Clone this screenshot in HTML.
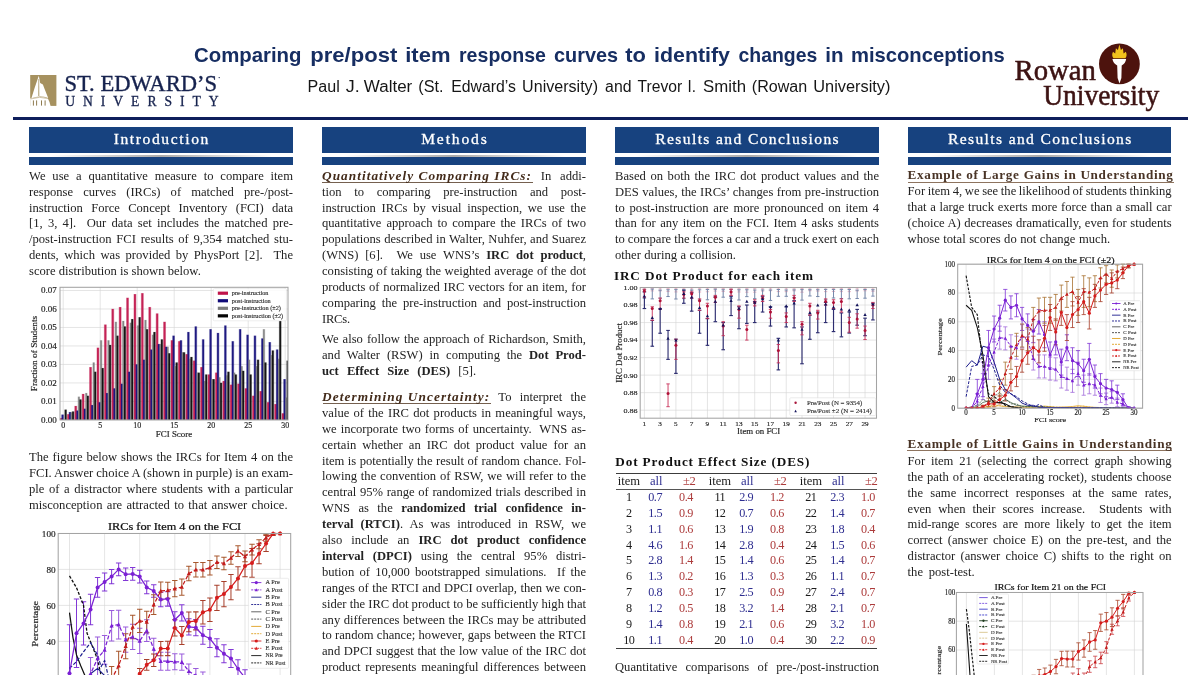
<!DOCTYPE html><html lang='en'><head><meta charset='utf-8'><title>Poster</title><style>
html,body{margin:0;padding:0;background:#fff;}
#page{position:absolute;left:0;top:0;width:1200px;height:675px;overflow:hidden;will-change:transform;}
body{width:1200px;height:675px;position:relative;overflow:hidden;font-family:"Liberation Serif",serif;color:#232323;}
.ln{position:absolute;white-space:nowrap;font-size:12.6px;line-height:16px;height:16px;}
.ln b{font-weight:bold;}
.hd{font-weight:bold;font-style:italic;color:#432b1a;font-size:13.3px;word-spacing:0;}
.sub{font-weight:bold;font-size:13.2px;color:#111;}
.ex{font-weight:bold;font-size:13.2px;color:#493426;}
.ul{position:absolute;height:0.9px;}
.box{position:absolute;background:#17427f;}
.boxt{position:absolute;color:#fff;-webkit-text-stroke:0.3px #fff;font-size:15.6px;text-align:center;white-space:nowrap;line-height:20px;}
.gap{position:absolute;height:2.2px;background:linear-gradient(to right,#fff 0%,#fff 8%,#aaa 50%,#fff 92%,#fff 100%);}
#rule{position:absolute;left:13px;top:117.2px;width:1174.5px;height:2.7px;background:#0f1f5c;}
</style></head><body><div id='page'>
<div id='rule'></div>

<div class='box' style='left:29px;top:126.9px;width:263.7px;height:26.3px'></div>
<div class='gap' style='left:29px;top:154.6px;width:263.7px'></div>
<div class='box' style='left:29px;top:157.2px;width:263.7px;height:8.2px'></div>
<div class='boxt' id='t0' style='left:29px;top:129.3px;width:264px;'><span style='letter-spacing:1.601px;margin-right:-1.601px'>Introduction</span></div>
<div class='box' style='left:322px;top:126.9px;width:263.7px;height:26.3px'></div>
<div class='gap' style='left:322px;top:154.6px;width:263.7px'></div>
<div class='box' style='left:322px;top:157.2px;width:263.7px;height:8.2px'></div>
<div class='boxt' id='t1' style='left:322px;top:129.3px;width:264px;'><span style='letter-spacing:1.854px;margin-right:-1.854px'>Methods</span></div>
<div class='box' style='left:615px;top:126.9px;width:263.7px;height:26.3px'></div>
<div class='gap' style='left:615px;top:154.6px;width:263.7px'></div>
<div class='box' style='left:615px;top:157.2px;width:263.7px;height:8.2px'></div>
<div class='boxt' id='t2' style='left:615px;top:129.3px;width:264px;'><span style='letter-spacing:1.366px;margin-right:-1.366px'>Results and Conclusions</span></div>
<div class='box' style='left:907.6px;top:126.9px;width:263.7px;height:26.3px'></div>
<div class='gap' style='left:907.6px;top:154.6px;width:263.7px'></div>
<div class='box' style='left:907.6px;top:157.2px;width:263.7px;height:8.2px'></div>
<div class='boxt' id='t3' style='left:907.6px;top:129.3px;width:264px;'><span style='letter-spacing:1.366px;margin-right:-1.366px'>Results and Conclusions</span></div>
<div class='ul' style='left:322px;top:181.9px;width:210.6px;background:#75604f'></div>
<div class='ul' style='left:322.5px;top:402.7px;width:168.8px;background:#75604f'></div>
<div class='ul' style='left:907.6px;top:181.6px;width:266px;background:#8d735e'></div>
<div class='ul' style='left:907.4px;top:450.3px;width:265px;background:#8d735e'></div>
<div class='ln ' id='l0' style='left:29px;top:167.75px;word-spacing:3.739px;'>We use a quantitative measure to compare item</div>
<div class='ln ' id='l1' style='left:29px;top:183.65px;word-spacing:6.984px;'>response curves (IRCs) of matched pre-/post-</div>
<div class='ln ' id='l2' style='left:29px;top:199.55px;word-spacing:5.162px;'>instruction Force Concept Inventory (FCI) data</div>
<div class='ln ' id='l3' style='left:29px;top:215.45px;word-spacing:2.095px;'>[1, 3, 4].&nbsp; Our data set includes the matched pre-</div>
<div class='ln ' id='l4' style='left:29px;top:231.35px;word-spacing:1.615px;'>/post-instruction FCI results of 9,354 matched stu-</div>
<div class='ln ' id='l5' style='left:29px;top:247.25px;word-spacing:2.334px;'>dents, which was provided by PhysPort [2].&nbsp; The</div>
<div class='ln ' id='l6' style='left:29px;top:263.15px;word-spacing:0.040px;'>score distribution is shown below.</div>
<div class='ln ' id='l7' style='left:29px;top:448.95px;word-spacing:0.727px;'>The figure below shows the IRCs for Item 4 on the</div>
<div class='ln ' id='l8' style='left:29px;top:464.85px;word-spacing:-0.125px;'>FCI. Answer choice A (shown in purple) is an exam-</div>
<div class='ln ' id='l9' style='left:29px;top:480.75px;word-spacing:1.439px;'>ple of a distractor where students with a particular</div>
<div class='ln ' id='l10' style='left:29px;top:496.65px;word-spacing:1.196px;'>misconception are attracted to that answer choice.</div>
<div class='ln ' id='l11' style='left:322px;top:167.75px;word-spacing:5.664px;'><span class='hd' id='h0' style='letter-spacing:1.040px'>Quantitatively Comparing IRCs:</span> In addi-</div>
<div class='ln ' id='l12' style='left:322px;top:183.65px;word-spacing:9.500px;'>tion to comparing pre-instruction and post-</div>
<div class='ln ' id='l13' style='left:322px;top:199.55px;word-spacing:2.536px;'>instruction IRCs by visual inspection, we use the</div>
<div class='ln ' id='l14' style='left:322px;top:215.45px;word-spacing:1.792px;'>quantitative approach to compare the IRCs of two</div>
<div class='ln ' id='l15' style='left:322px;top:231.35px;word-spacing:0.310px;'>populations described in Walter, Nuhfer, and Suarez</div>
<div class='ln ' id='l16' style='left:322px;top:247.25px;word-spacing:3.652px;'>(WNS) [6].&nbsp; We use WNS’s <b>IRC dot product</b>,</div>
<div class='ln ' id='l17' style='left:322px;top:263.15px;word-spacing:0.387px;'>consisting of taking the weighted average of the dot</div>
<div class='ln ' id='l18' style='left:322px;top:279.05px;word-spacing:0.518px;'>products of normalized IRC vectors for an item, for</div>
<div class='ln ' id='l19' style='left:322px;top:294.95px;word-spacing:2.695px;'>comparing the pre-instruction and post-instruction</div>
<div class='ln ' id='l20' style='left:322px;top:310.85px;letter-spacing:-0.249px;'>IRCs.</div>
<div class='ln ' id='l21' style='left:322px;top:331.45px;word-spacing:0.935px;'>We also follow the approach of Richardson, Smith,</div>
<div class='ln ' id='l22' style='left:322px;top:347.35px;word-spacing:3.696px;'>and Walter (RSW) in computing the <b>Dot Prod-</b></div>
<div class='ln ' id='l23' style='left:322px;top:363.25px;word-spacing:5.037px;'><b>uct Effect Size (DES)</b> [5].</div>
<div class='ln ' id='l24' style='left:322px;top:388.95px;word-spacing:5.109px;'><span class='hd' id='h1' style='letter-spacing:1.087px'>Determining Uncertainty:</span> To interpret the</div>
<div class='ln ' id='l25' style='left:322px;top:404.85px;word-spacing:1.127px;'>value of the IRC dot products in meaningful ways,</div>
<div class='ln ' id='l26' style='left:322px;top:420.75px;word-spacing:0.824px;'>we incorporate two forms of uncertainty.&nbsp; WNS as-</div>
<div class='ln ' id='l27' style='left:322px;top:436.65px;word-spacing:2.838px;'>certain whether an IRC dot product value for an</div>
<div class='ln ' id='l28' style='left:322px;top:452.55px;word-spacing:0.342px;'>item is potentially the result of random chance. Fol-</div>
<div class='ln ' id='l29' style='left:322px;top:468.45px;word-spacing:0.705px;'>lowing the convention of RSW, we will refer to the</div>
<div class='ln ' id='l30' style='left:322px;top:484.35px;word-spacing:0.498px;'>central 95% range of randomized trials described in</div>
<div class='ln ' id='l31' style='left:322px;top:500.25px;word-spacing:5.289px;'>WNS as the <b>randomized trial confidence in-</b></div>
<div class='ln ' id='l32' style='left:322px;top:516.15px;word-spacing:3.913px;'><b>terval (RTCI)</b>. As was introduced in RSW, we</div>
<div class='ln ' id='l33' style='left:322px;top:532.05px;word-spacing:5.909px;'>also include an <b>IRC dot product confidence</b></div>
<div class='ln ' id='l34' style='left:322px;top:547.95px;word-spacing:5.643px;'><b>interval (DPCI)</b> using the central 95% distri-</div>
<div class='ln ' id='l35' style='left:322px;top:563.85px;word-spacing:2.085px;'>bution of 10,000 bootstrapped simulations.&nbsp; If the</div>
<div class='ln ' id='l36' style='left:322px;top:579.75px;word-spacing:0.273px;'>ranges of the RTCI and DPCI overlap, then we con-</div>
<div class='ln ' id='l37' style='left:322px;top:595.65px;word-spacing:0.017px;'>sider the IRC dot product to be sufficiently high that</div>
<div class='ln ' id='l38' style='left:322px;top:611.55px;word-spacing:0.429px;'>any differences between the IRCs may be attributed</div>
<div class='ln ' id='l39' style='left:322px;top:627.45px;word-spacing:0.125px;'>to random chance; however, gaps between the RTCI</div>
<div class='ln ' id='l40' style='left:322px;top:643.35px;word-spacing:0.445px;'>and DPCI suggest that the low value of the IRC dot</div>
<div class='ln ' id='l41' style='left:322px;top:659.25px;word-spacing:1.715px;'>product represents meaningful differences between</div>
<div class='ln ' id='l42' style='left:615px;top:167.75px;word-spacing:1.469px;'>Based on both the IRC dot product values and the</div>
<div class='ln ' id='l43' style='left:615px;top:183.65px;word-spacing:0.378px;'>DES values, the IRCs’ changes from pre-instruction</div>
<div class='ln ' id='l44' style='left:615px;top:199.55px;word-spacing:1.589px;'>to post-instruction are more pronounced on item 4</div>
<div class='ln ' id='l45' style='left:615px;top:215.45px;word-spacing:1.250px;'>than for any item on the FCI. Item 4 asks students</div>
<div class='ln ' id='l46' style='left:615px;top:231.35px;word-spacing:-0.125px;'>to compare the forces a car and a truck exert on each</div>
<div class='ln ' id='l47' style='left:615px;top:247.25px;word-spacing:0.224px;'>other during a collision.</div>
<div class='ln sub' id='l48' style='left:613.9px;top:268.05px;letter-spacing:0.914px;'>IRC Dot Product for each item</div>
<div class='ln sub' id='l49' style='left:615.3px;top:454.25px;letter-spacing:0.872px;'>Dot Product Effect Size (DES)</div>
<div class='ln ' id='l50' style='left:615px;top:659.15px;word-spacing:5.109px;'>Quantitative comparisons of pre-/post-instruction</div>
<div class='ln ex' id='l51' style='left:907.6px;top:166.94px;letter-spacing:0.686px;'>Example of Large Gains in Understanding</div>
<div class='ln ' id='l52' style='left:907.6px;top:183.15px;word-spacing:-0.516px;'>For item 4, we see the likelihood of students thinking</div>
<div class='ln ' id='l53' style='left:907.6px;top:199.05px;word-spacing:0.547px;'>that a large truck exerts more force than a small car</div>
<div class='ln ' id='l54' style='left:907.6px;top:214.95px;word-spacing:0.367px;'>(choice A) decreases dramatically, even for students</div>
<div class='ln ' id='l55' style='left:907.6px;top:230.85px;word-spacing:0.349px;'>whose total scores do not change much.</div>
<div class='ln ex' id='l56' style='left:907.6px;top:436.25px;letter-spacing:0.717px;'>Example of Little Gains in Understanding</div>
<div class='ln ' id='l57' style='left:907.6px;top:452.85px;word-spacing:2.690px;'>For item 21 (selecting the correct graph showing</div>
<div class='ln ' id='l58' style='left:907.6px;top:468.75px;word-spacing:0.946px;'>the path of an accelerating rocket), students choose</div>
<div class='ln ' id='l59' style='left:907.6px;top:484.65px;word-spacing:4.243px;'>the same incorrect responses at the same rates,</div>
<div class='ln ' id='l60' style='left:907.6px;top:500.55px;word-spacing:3.741px;'>even when their scores increase.&nbsp; Students with</div>
<div class='ln ' id='l61' style='left:907.6px;top:516.45px;word-spacing:2.838px;'>mid-range scores are more likely to get the item</div>
<div class='ln ' id='l62' style='left:907.6px;top:532.35px;word-spacing:2.098px;'>correct (answer choice E) on the pre-test, and the</div>
<div class='ln ' id='l63' style='left:907.6px;top:548.25px;word-spacing:2.135px;'>distractor (answer choice C) shifts to the right on</div>
<div class='ln ' id='l64' style='left:907.6px;top:564.15px;word-spacing:2.641px;'>the post-test.</div>
<svg width='1200' height='675' viewBox='0 0 1200 675' style='position:absolute;left:0;top:0;font-family:"Liberation Serif",serif' ><rect x='60.00' y='287.30' width='228.00' height='132.60' fill='#fff' stroke='none' stroke-width='0' />
<line x1='63.20' y1='287.30' x2='63.20' y2='419.90' stroke='#d4d4d4' stroke-width='0.6' />
<line x1='100.20' y1='287.30' x2='100.20' y2='419.90' stroke='#d4d4d4' stroke-width='0.6' />
<line x1='137.20' y1='287.30' x2='137.20' y2='419.90' stroke='#d4d4d4' stroke-width='0.6' />
<line x1='174.20' y1='287.30' x2='174.20' y2='419.90' stroke='#d4d4d4' stroke-width='0.6' />
<line x1='211.20' y1='287.30' x2='211.20' y2='419.90' stroke='#d4d4d4' stroke-width='0.6' />
<line x1='248.20' y1='287.30' x2='248.20' y2='419.90' stroke='#d4d4d4' stroke-width='0.6' />
<line x1='285.20' y1='287.30' x2='285.20' y2='419.90' stroke='#d4d4d4' stroke-width='0.6' />
<line x1='60.00' y1='419.90' x2='288.00' y2='419.90' stroke='#d4d4d4' stroke-width='0.6' />
<line x1='60.00' y1='401.41' x2='288.00' y2='401.41' stroke='#d4d4d4' stroke-width='0.6' />
<line x1='60.00' y1='382.93' x2='288.00' y2='382.93' stroke='#d4d4d4' stroke-width='0.6' />
<line x1='60.00' y1='364.44' x2='288.00' y2='364.44' stroke='#d4d4d4' stroke-width='0.6' />
<line x1='60.00' y1='345.96' x2='288.00' y2='345.96' stroke='#d4d4d4' stroke-width='0.6' />
<line x1='60.00' y1='327.47' x2='288.00' y2='327.47' stroke='#d4d4d4' stroke-width='0.6' />
<line x1='60.00' y1='308.99' x2='288.00' y2='308.99' stroke='#d4d4d4' stroke-width='0.6' />
<line x1='60.00' y1='290.50' x2='288.00' y2='290.50' stroke='#d4d4d4' stroke-width='0.6' />
<clipPath id='hc'><rect x='60.0' y='287.3' width='228.0' height='132.59999999999997'/></clipPath><g clip-path='url(#hc)'><g>
<rect x='59.47' y='417.85' width='2.95' height='3.85' fill='#c0144a' stroke='none' stroke-width='0' opacity='0.38'/>
<rect x='66.87' y='414.15' width='2.95' height='7.55' fill='#c0144a' stroke='none' stroke-width='0' opacity='0.38'/>
<rect x='74.27' y='405.84' width='2.95' height='15.86' fill='#c0144a' stroke='none' stroke-width='0' opacity='0.38'/>
<rect x='81.67' y='393.82' width='2.95' height='27.88' fill='#c0144a' stroke='none' stroke-width='0' opacity='0.38'/>
<rect x='89.07' y='367.02' width='2.95' height='54.68' fill='#c0144a' stroke='none' stroke-width='0' opacity='0.38'/>
<rect x='96.47' y='347.61' width='2.95' height='74.09' fill='#c0144a' stroke='none' stroke-width='0' opacity='0.38'/>
<rect x='103.87' y='324.50' width='2.95' height='97.20' fill='#c0144a' stroke='none' stroke-width='0' opacity='0.38'/>
<rect x='111.27' y='308.79' width='2.95' height='112.91' fill='#c0144a' stroke='none' stroke-width='0' opacity='0.38'/>
<rect x='118.67' y='306.94' width='2.95' height='114.76' fill='#c0144a' stroke='none' stroke-width='0' opacity='0.38'/>
<rect x='126.07' y='297.69' width='2.95' height='124.01' fill='#c0144a' stroke='none' stroke-width='0' opacity='0.38'/>
<rect x='133.47' y='294.00' width='2.95' height='127.70' fill='#c0144a' stroke='none' stroke-width='0' opacity='0.38'/>
<rect x='140.87' y='293.07' width='2.95' height='128.63' fill='#c0144a' stroke='none' stroke-width='0' opacity='0.38'/>
<rect x='148.27' y='306.94' width='2.95' height='114.76' fill='#c0144a' stroke='none' stroke-width='0' opacity='0.38'/>
<rect x='155.67' y='313.41' width='2.95' height='108.29' fill='#c0144a' stroke='none' stroke-width='0' opacity='0.38'/>
<rect x='163.07' y='321.73' width='2.95' height='99.97' fill='#c0144a' stroke='none' stroke-width='0' opacity='0.38'/>
<rect x='170.47' y='340.21' width='2.95' height='81.49' fill='#c0144a' stroke='none' stroke-width='0' opacity='0.38'/>
<rect x='177.87' y='341.14' width='2.95' height='80.56' fill='#c0144a' stroke='none' stroke-width='0' opacity='0.38'/>
<rect x='185.27' y='354.08' width='2.95' height='67.62' fill='#c0144a' stroke='none' stroke-width='0' opacity='0.38'/>
<rect x='192.67' y='360.55' width='2.95' height='61.15' fill='#c0144a' stroke='none' stroke-width='0' opacity='0.38'/>
<rect x='200.07' y='367.02' width='2.95' height='54.68' fill='#c0144a' stroke='none' stroke-width='0' opacity='0.38'/>
<rect x='207.47' y='374.41' width='2.95' height='47.29' fill='#c0144a' stroke='none' stroke-width='0' opacity='0.38'/>
<rect x='214.87' y='372.56' width='2.95' height='49.14' fill='#c0144a' stroke='none' stroke-width='0' opacity='0.38'/>
<rect x='222.27' y='380.88' width='2.95' height='40.82' fill='#c0144a' stroke='none' stroke-width='0' opacity='0.38'/>
<rect x='229.67' y='384.58' width='2.95' height='37.12' fill='#c0144a' stroke='none' stroke-width='0' opacity='0.38'/>
<rect x='237.07' y='383.65' width='2.95' height='38.05' fill='#c0144a' stroke='none' stroke-width='0' opacity='0.38'/>
<rect x='244.47' y='388.27' width='2.95' height='33.43' fill='#c0144a' stroke='none' stroke-width='0' opacity='0.38'/>
<rect x='251.87' y='395.67' width='2.95' height='26.03' fill='#c0144a' stroke='none' stroke-width='0' opacity='0.38'/>
<rect x='259.27' y='391.05' width='2.95' height='30.65' fill='#c0144a' stroke='none' stroke-width='0' opacity='0.38'/>
<rect x='266.67' y='402.14' width='2.95' height='19.56' fill='#c0144a' stroke='none' stroke-width='0' opacity='0.38'/>
<rect x='274.07' y='403.99' width='2.95' height='17.71' fill='#c0144a' stroke='none' stroke-width='0' opacity='0.38'/>
<rect x='281.47' y='413.23' width='2.95' height='8.47' fill='#c0144a' stroke='none' stroke-width='0' opacity='0.38'/>
<rect x='61.17' y='414.52' width='2.80' height='7.18' fill='#100a78' stroke='none' stroke-width='0' opacity='0.38'/>
<rect x='68.57' y='411.94' width='2.80' height='9.76' fill='#100a78' stroke='none' stroke-width='0' opacity='0.38'/>
<rect x='75.97' y='410.46' width='2.80' height='11.24' fill='#100a78' stroke='none' stroke-width='0' opacity='0.38'/>
<rect x='83.37' y='408.61' width='2.80' height='13.09' fill='#100a78' stroke='none' stroke-width='0' opacity='0.38'/>
<rect x='90.77' y='404.91' width='2.80' height='16.79' fill='#100a78' stroke='none' stroke-width='0' opacity='0.38'/>
<rect x='98.17' y='402.14' width='2.80' height='19.56' fill='#100a78' stroke='none' stroke-width='0' opacity='0.38'/>
<rect x='105.57' y='392.90' width='2.80' height='28.80' fill='#100a78' stroke='none' stroke-width='0' opacity='0.38'/>
<rect x='112.97' y='388.27' width='2.80' height='33.43' fill='#100a78' stroke='none' stroke-width='0' opacity='0.38'/>
<rect x='120.37' y='383.65' width='2.80' height='38.05' fill='#100a78' stroke='none' stroke-width='0' opacity='0.38'/>
<rect x='127.77' y='371.64' width='2.80' height='50.06' fill='#100a78' stroke='none' stroke-width='0' opacity='0.38'/>
<rect x='135.17' y='364.24' width='2.80' height='57.46' fill='#100a78' stroke='none' stroke-width='0' opacity='0.38'/>
<rect x='142.57' y='359.62' width='2.80' height='62.08' fill='#100a78' stroke='none' stroke-width='0' opacity='0.38'/>
<rect x='149.97' y='349.45' width='2.80' height='72.25' fill='#100a78' stroke='none' stroke-width='0' opacity='0.38'/>
<rect x='157.37' y='343.91' width='2.80' height='77.79' fill='#100a78' stroke='none' stroke-width='0' opacity='0.38'/>
<rect x='164.77' y='346.68' width='2.80' height='75.02' fill='#100a78' stroke='none' stroke-width='0' opacity='0.38'/>
<rect x='172.17' y='335.59' width='2.80' height='86.11' fill='#100a78' stroke='none' stroke-width='0' opacity='0.38'/>
<rect x='179.57' y='340.21' width='2.80' height='81.49' fill='#100a78' stroke='none' stroke-width='0' opacity='0.38'/>
<rect x='186.97' y='331.89' width='2.80' height='89.81' fill='#100a78' stroke='none' stroke-width='0' opacity='0.38'/>
<rect x='194.37' y='326.35' width='2.80' height='95.35' fill='#100a78' stroke='none' stroke-width='0' opacity='0.38'/>
<rect x='201.77' y='339.29' width='2.80' height='82.41' fill='#100a78' stroke='none' stroke-width='0' opacity='0.38'/>
<rect x='209.17' y='329.12' width='2.80' height='92.58' fill='#100a78' stroke='none' stroke-width='0' opacity='0.38'/>
<rect x='216.57' y='332.82' width='2.80' height='88.88' fill='#100a78' stroke='none' stroke-width='0' opacity='0.38'/>
<rect x='223.97' y='325.42' width='2.80' height='96.28' fill='#100a78' stroke='none' stroke-width='0' opacity='0.38'/>
<rect x='231.37' y='341.14' width='2.80' height='80.56' fill='#100a78' stroke='none' stroke-width='0' opacity='0.38'/>
<rect x='238.77' y='329.12' width='2.80' height='92.58' fill='#100a78' stroke='none' stroke-width='0' opacity='0.38'/>
<rect x='246.17' y='334.67' width='2.80' height='87.03' fill='#100a78' stroke='none' stroke-width='0' opacity='0.38'/>
<rect x='253.57' y='335.59' width='2.80' height='86.11' fill='#100a78' stroke='none' stroke-width='0' opacity='0.38'/>
<rect x='260.97' y='338.36' width='2.80' height='83.34' fill='#100a78' stroke='none' stroke-width='0' opacity='0.38'/>
<rect x='268.37' y='342.06' width='2.80' height='79.64' fill='#100a78' stroke='none' stroke-width='0' opacity='0.38'/>
<rect x='275.77' y='349.45' width='2.80' height='72.25' fill='#100a78' stroke='none' stroke-width='0' opacity='0.38'/>
<rect x='283.17' y='379.03' width='2.80' height='42.67' fill='#100a78' stroke='none' stroke-width='0' opacity='0.38'/>
<rect x='70.20' y='412.31' width='2.58' height='9.39' fill='#7c7c7c' stroke='none' stroke-width='0' opacity='0.38'/>
<rect x='77.60' y='396.59' width='2.58' height='25.11' fill='#7c7c7c' stroke='none' stroke-width='0' opacity='0.38'/>
<rect x='85.00' y='392.90' width='2.58' height='28.80' fill='#7c7c7c' stroke='none' stroke-width='0' opacity='0.38'/>
<rect x='92.40' y='362.39' width='2.58' height='59.31' fill='#7c7c7c' stroke='none' stroke-width='0' opacity='0.38'/>
<rect x='99.80' y='340.21' width='2.58' height='81.49' fill='#7c7c7c' stroke='none' stroke-width='0' opacity='0.38'/>
<rect x='107.20' y='340.21' width='2.58' height='81.49' fill='#7c7c7c' stroke='none' stroke-width='0' opacity='0.38'/>
<rect x='114.60' y='321.73' width='2.58' height='99.97' fill='#7c7c7c' stroke='none' stroke-width='0' opacity='0.38'/>
<rect x='122.00' y='320.80' width='2.58' height='100.90' fill='#7c7c7c' stroke='none' stroke-width='0' opacity='0.38'/>
<rect x='129.40' y='322.65' width='2.58' height='99.05' fill='#7c7c7c' stroke='none' stroke-width='0' opacity='0.38'/>
<rect x='136.80' y='325.42' width='2.58' height='96.28' fill='#7c7c7c' stroke='none' stroke-width='0' opacity='0.38'/>
<rect x='144.20' y='319.88' width='2.58' height='101.82' fill='#7c7c7c' stroke='none' stroke-width='0' opacity='0.38'/>
<rect x='151.60' y='334.67' width='2.58' height='87.03' fill='#7c7c7c' stroke='none' stroke-width='0' opacity='0.38'/>
<rect x='159.00' y='343.91' width='2.58' height='77.79' fill='#7c7c7c' stroke='none' stroke-width='0' opacity='0.38'/>
<rect x='166.40' y='346.68' width='2.58' height='75.02' fill='#7c7c7c' stroke='none' stroke-width='0' opacity='0.38'/>
<rect x='173.80' y='366.09' width='2.58' height='55.61' fill='#7c7c7c' stroke='none' stroke-width='0' opacity='0.38'/>
<rect x='181.20' y='352.23' width='2.58' height='69.47' fill='#7c7c7c' stroke='none' stroke-width='0' opacity='0.38'/>
<rect x='188.60' y='358.70' width='2.58' height='63.00' fill='#7c7c7c' stroke='none' stroke-width='0' opacity='0.38'/>
<rect x='196.00' y='372.56' width='2.58' height='49.14' fill='#7c7c7c' stroke='none' stroke-width='0' opacity='0.38'/>
<rect x='203.40' y='380.88' width='2.58' height='40.82' fill='#7c7c7c' stroke='none' stroke-width='0' opacity='0.38'/>
<rect x='210.80' y='379.03' width='2.58' height='42.67' fill='#7c7c7c' stroke='none' stroke-width='0' opacity='0.38'/>
<rect x='218.20' y='377.18' width='2.58' height='44.52' fill='#7c7c7c' stroke='none' stroke-width='0' opacity='0.38'/>
<rect x='225.60' y='375.33' width='2.58' height='46.37' fill='#7c7c7c' stroke='none' stroke-width='0' opacity='0.38'/>
<rect x='233.00' y='372.56' width='2.58' height='49.14' fill='#7c7c7c' stroke='none' stroke-width='0' opacity='0.38'/>
<rect x='240.40' y='366.09' width='2.58' height='55.61' fill='#7c7c7c' stroke='none' stroke-width='0' opacity='0.38'/>
<rect x='247.80' y='359.62' width='2.58' height='62.08' fill='#7c7c7c' stroke='none' stroke-width='0' opacity='0.38'/>
<rect x='255.20' y='366.09' width='2.58' height='55.61' fill='#7c7c7c' stroke='none' stroke-width='0' opacity='0.38'/>
<rect x='262.60' y='329.12' width='2.58' height='92.58' fill='#7c7c7c' stroke='none' stroke-width='0' opacity='0.38'/>
<rect x='270.00' y='355.00' width='2.58' height='66.70' fill='#7c7c7c' stroke='none' stroke-width='0' opacity='0.38'/>
<rect x='277.40' y='358.70' width='2.58' height='63.00' fill='#7c7c7c' stroke='none' stroke-width='0' opacity='0.38'/>
<rect x='284.80' y='397.52' width='2.58' height='24.18' fill='#7c7c7c' stroke='none' stroke-width='0' opacity='0.38'/>
<rect x='64.28' y='409.53' width='2.73' height='12.17' fill='#050505' stroke='none' stroke-width='0' opacity='0.38'/>
<rect x='71.68' y='411.38' width='2.73' height='10.32' fill='#050505' stroke='none' stroke-width='0' opacity='0.38'/>
<rect x='79.08' y='399.37' width='2.73' height='22.33' fill='#050505' stroke='none' stroke-width='0' opacity='0.38'/>
<rect x='86.48' y='395.67' width='2.73' height='26.03' fill='#050505' stroke='none' stroke-width='0' opacity='0.38'/>
<rect x='93.88' y='371.64' width='2.73' height='50.06' fill='#050505' stroke='none' stroke-width='0' opacity='0.38'/>
<rect x='101.28' y='367.94' width='2.73' height='53.76' fill='#050505' stroke='none' stroke-width='0' opacity='0.38'/>
<rect x='108.68' y='344.83' width='2.73' height='76.87' fill='#050505' stroke='none' stroke-width='0' opacity='0.38'/>
<rect x='116.08' y='335.59' width='2.73' height='86.11' fill='#050505' stroke='none' stroke-width='0' opacity='0.38'/>
<rect x='123.48' y='326.35' width='2.73' height='95.35' fill='#050505' stroke='none' stroke-width='0' opacity='0.38'/>
<rect x='130.88' y='318.95' width='2.73' height='102.75' fill='#050505' stroke='none' stroke-width='0' opacity='0.38'/>
<rect x='138.28' y='317.10' width='2.73' height='104.60' fill='#050505' stroke='none' stroke-width='0' opacity='0.38'/>
<rect x='145.68' y='329.12' width='2.73' height='92.58' fill='#050505' stroke='none' stroke-width='0' opacity='0.38'/>
<rect x='153.08' y='331.89' width='2.73' height='89.81' fill='#050505' stroke='none' stroke-width='0' opacity='0.38'/>
<rect x='160.48' y='339.29' width='2.73' height='82.41' fill='#050505' stroke='none' stroke-width='0' opacity='0.38'/>
<rect x='167.88' y='353.15' width='2.73' height='68.55' fill='#050505' stroke='none' stroke-width='0' opacity='0.38'/>
<rect x='175.28' y='362.39' width='2.73' height='59.31' fill='#050505' stroke='none' stroke-width='0' opacity='0.38'/>
<rect x='182.68' y='352.23' width='2.73' height='69.47' fill='#050505' stroke='none' stroke-width='0' opacity='0.38'/>
<rect x='190.08' y='356.85' width='2.73' height='64.85' fill='#050505' stroke='none' stroke-width='0' opacity='0.38'/>
<rect x='197.48' y='372.56' width='2.73' height='49.14' fill='#050505' stroke='none' stroke-width='0' opacity='0.38'/>
<rect x='204.88' y='374.41' width='2.73' height='47.29' fill='#050505' stroke='none' stroke-width='0' opacity='0.38'/>
<rect x='212.28' y='379.03' width='2.73' height='42.67' fill='#050505' stroke='none' stroke-width='0' opacity='0.38'/>
<rect x='219.68' y='382.73' width='2.73' height='38.97' fill='#050505' stroke='none' stroke-width='0' opacity='0.38'/>
<rect x='227.08' y='371.64' width='2.73' height='50.06' fill='#050505' stroke='none' stroke-width='0' opacity='0.38'/>
<rect x='234.48' y='374.41' width='2.73' height='47.29' fill='#050505' stroke='none' stroke-width='0' opacity='0.38'/>
<rect x='241.88' y='370.71' width='2.73' height='50.99' fill='#050505' stroke='none' stroke-width='0' opacity='0.38'/>
<rect x='249.28' y='374.41' width='2.73' height='47.29' fill='#050505' stroke='none' stroke-width='0' opacity='0.38'/>
<rect x='256.68' y='359.62' width='2.73' height='62.08' fill='#050505' stroke='none' stroke-width='0' opacity='0.38'/>
<rect x='264.08' y='362.39' width='2.73' height='59.31' fill='#050505' stroke='none' stroke-width='0' opacity='0.38'/>
<rect x='271.48' y='350.38' width='2.73' height='71.32' fill='#050505' stroke='none' stroke-width='0' opacity='0.38'/>
<rect x='278.88' y='320.80' width='2.73' height='100.90' fill='#050505' stroke='none' stroke-width='0' opacity='0.38'/>
<rect x='286.28' y='360.55' width='2.73' height='61.15' fill='#050505' stroke='none' stroke-width='0' opacity='0.38'/>
<rect x='60.02' y='418.05' width='1.85' height='3.85' fill='#c0144a' stroke='none' stroke-width='0' opacity='0.9'/>
<rect x='67.42' y='414.35' width='1.85' height='7.55' fill='#c0144a' stroke='none' stroke-width='0' opacity='0.9'/>
<rect x='74.82' y='406.04' width='1.85' height='15.86' fill='#c0144a' stroke='none' stroke-width='0' opacity='0.9'/>
<rect x='82.22' y='394.02' width='1.85' height='27.88' fill='#c0144a' stroke='none' stroke-width='0' opacity='0.9'/>
<rect x='89.62' y='367.22' width='1.85' height='54.68' fill='#c0144a' stroke='none' stroke-width='0' opacity='0.9'/>
<rect x='97.02' y='347.81' width='1.85' height='74.09' fill='#c0144a' stroke='none' stroke-width='0' opacity='0.9'/>
<rect x='104.42' y='324.70' width='1.85' height='97.20' fill='#c0144a' stroke='none' stroke-width='0' opacity='0.9'/>
<rect x='111.82' y='308.99' width='1.85' height='112.91' fill='#c0144a' stroke='none' stroke-width='0' opacity='0.9'/>
<rect x='119.22' y='307.14' width='1.85' height='114.76' fill='#c0144a' stroke='none' stroke-width='0' opacity='0.9'/>
<rect x='126.62' y='297.89' width='1.85' height='124.01' fill='#c0144a' stroke='none' stroke-width='0' opacity='0.9'/>
<rect x='134.02' y='294.20' width='1.85' height='127.70' fill='#c0144a' stroke='none' stroke-width='0' opacity='0.9'/>
<rect x='141.42' y='293.27' width='1.85' height='128.63' fill='#c0144a' stroke='none' stroke-width='0' opacity='0.9'/>
<rect x='148.82' y='307.14' width='1.85' height='114.76' fill='#c0144a' stroke='none' stroke-width='0' opacity='0.9'/>
<rect x='156.22' y='313.61' width='1.85' height='108.29' fill='#c0144a' stroke='none' stroke-width='0' opacity='0.9'/>
<rect x='163.62' y='321.93' width='1.85' height='99.97' fill='#c0144a' stroke='none' stroke-width='0' opacity='0.9'/>
<rect x='171.02' y='340.41' width='1.85' height='81.49' fill='#c0144a' stroke='none' stroke-width='0' opacity='0.9'/>
<rect x='178.42' y='341.34' width='1.85' height='80.56' fill='#c0144a' stroke='none' stroke-width='0' opacity='0.9'/>
<rect x='185.82' y='354.28' width='1.85' height='67.62' fill='#c0144a' stroke='none' stroke-width='0' opacity='0.9'/>
<rect x='193.22' y='360.75' width='1.85' height='61.15' fill='#c0144a' stroke='none' stroke-width='0' opacity='0.9'/>
<rect x='200.62' y='367.22' width='1.85' height='54.68' fill='#c0144a' stroke='none' stroke-width='0' opacity='0.9'/>
<rect x='208.02' y='374.61' width='1.85' height='47.29' fill='#c0144a' stroke='none' stroke-width='0' opacity='0.9'/>
<rect x='215.42' y='372.76' width='1.85' height='49.14' fill='#c0144a' stroke='none' stroke-width='0' opacity='0.9'/>
<rect x='222.82' y='381.08' width='1.85' height='40.82' fill='#c0144a' stroke='none' stroke-width='0' opacity='0.9'/>
<rect x='230.22' y='384.78' width='1.85' height='37.12' fill='#c0144a' stroke='none' stroke-width='0' opacity='0.9'/>
<rect x='237.62' y='383.85' width='1.85' height='38.05' fill='#c0144a' stroke='none' stroke-width='0' opacity='0.9'/>
<rect x='245.02' y='388.47' width='1.85' height='33.43' fill='#c0144a' stroke='none' stroke-width='0' opacity='0.9'/>
<rect x='252.42' y='395.87' width='1.85' height='26.03' fill='#c0144a' stroke='none' stroke-width='0' opacity='0.9'/>
<rect x='259.82' y='391.25' width='1.85' height='30.65' fill='#c0144a' stroke='none' stroke-width='0' opacity='0.9'/>
<rect x='267.22' y='402.34' width='1.85' height='19.56' fill='#c0144a' stroke='none' stroke-width='0' opacity='0.9'/>
<rect x='274.62' y='404.19' width='1.85' height='17.71' fill='#c0144a' stroke='none' stroke-width='0' opacity='0.9'/>
<rect x='282.02' y='413.43' width='1.85' height='8.47' fill='#c0144a' stroke='none' stroke-width='0' opacity='0.9'/>
<rect x='61.72' y='414.72' width='1.70' height='7.18' fill='#100a78' stroke='none' stroke-width='0' opacity='0.9'/>
<rect x='69.12' y='412.14' width='1.70' height='9.76' fill='#100a78' stroke='none' stroke-width='0' opacity='0.9'/>
<rect x='76.52' y='410.66' width='1.70' height='11.24' fill='#100a78' stroke='none' stroke-width='0' opacity='0.9'/>
<rect x='83.92' y='408.81' width='1.70' height='13.09' fill='#100a78' stroke='none' stroke-width='0' opacity='0.9'/>
<rect x='91.32' y='405.11' width='1.70' height='16.79' fill='#100a78' stroke='none' stroke-width='0' opacity='0.9'/>
<rect x='98.72' y='402.34' width='1.70' height='19.56' fill='#100a78' stroke='none' stroke-width='0' opacity='0.9'/>
<rect x='106.12' y='393.10' width='1.70' height='28.80' fill='#100a78' stroke='none' stroke-width='0' opacity='0.9'/>
<rect x='113.52' y='388.47' width='1.70' height='33.43' fill='#100a78' stroke='none' stroke-width='0' opacity='0.9'/>
<rect x='120.92' y='383.85' width='1.70' height='38.05' fill='#100a78' stroke='none' stroke-width='0' opacity='0.9'/>
<rect x='128.32' y='371.84' width='1.70' height='50.06' fill='#100a78' stroke='none' stroke-width='0' opacity='0.9'/>
<rect x='135.72' y='364.44' width='1.70' height='57.46' fill='#100a78' stroke='none' stroke-width='0' opacity='0.9'/>
<rect x='143.12' y='359.82' width='1.70' height='62.08' fill='#100a78' stroke='none' stroke-width='0' opacity='0.9'/>
<rect x='150.52' y='349.65' width='1.70' height='72.25' fill='#100a78' stroke='none' stroke-width='0' opacity='0.9'/>
<rect x='157.92' y='344.11' width='1.70' height='77.79' fill='#100a78' stroke='none' stroke-width='0' opacity='0.9'/>
<rect x='165.32' y='346.88' width='1.70' height='75.02' fill='#100a78' stroke='none' stroke-width='0' opacity='0.9'/>
<rect x='172.72' y='335.79' width='1.70' height='86.11' fill='#100a78' stroke='none' stroke-width='0' opacity='0.9'/>
<rect x='180.12' y='340.41' width='1.70' height='81.49' fill='#100a78' stroke='none' stroke-width='0' opacity='0.9'/>
<rect x='187.52' y='332.09' width='1.70' height='89.81' fill='#100a78' stroke='none' stroke-width='0' opacity='0.9'/>
<rect x='194.92' y='326.55' width='1.70' height='95.35' fill='#100a78' stroke='none' stroke-width='0' opacity='0.9'/>
<rect x='202.32' y='339.49' width='1.70' height='82.41' fill='#100a78' stroke='none' stroke-width='0' opacity='0.9'/>
<rect x='209.72' y='329.32' width='1.70' height='92.58' fill='#100a78' stroke='none' stroke-width='0' opacity='0.9'/>
<rect x='217.12' y='333.02' width='1.70' height='88.88' fill='#100a78' stroke='none' stroke-width='0' opacity='0.9'/>
<rect x='224.52' y='325.62' width='1.70' height='96.28' fill='#100a78' stroke='none' stroke-width='0' opacity='0.9'/>
<rect x='231.92' y='341.34' width='1.70' height='80.56' fill='#100a78' stroke='none' stroke-width='0' opacity='0.9'/>
<rect x='239.32' y='329.32' width='1.70' height='92.58' fill='#100a78' stroke='none' stroke-width='0' opacity='0.9'/>
<rect x='246.72' y='334.87' width='1.70' height='87.03' fill='#100a78' stroke='none' stroke-width='0' opacity='0.9'/>
<rect x='254.12' y='335.79' width='1.70' height='86.11' fill='#100a78' stroke='none' stroke-width='0' opacity='0.9'/>
<rect x='261.52' y='338.56' width='1.70' height='83.34' fill='#100a78' stroke='none' stroke-width='0' opacity='0.9'/>
<rect x='268.92' y='342.26' width='1.70' height='79.64' fill='#100a78' stroke='none' stroke-width='0' opacity='0.9'/>
<rect x='276.32' y='349.65' width='1.70' height='72.25' fill='#100a78' stroke='none' stroke-width='0' opacity='0.9'/>
<rect x='283.72' y='379.23' width='1.70' height='42.67' fill='#100a78' stroke='none' stroke-width='0' opacity='0.9'/>
<rect x='70.75' y='412.51' width='1.48' height='9.39' fill='#7c7c7c' stroke='none' stroke-width='0' opacity='0.9'/>
<rect x='78.15' y='396.79' width='1.48' height='25.11' fill='#7c7c7c' stroke='none' stroke-width='0' opacity='0.9'/>
<rect x='85.55' y='393.10' width='1.48' height='28.80' fill='#7c7c7c' stroke='none' stroke-width='0' opacity='0.9'/>
<rect x='92.95' y='362.59' width='1.48' height='59.31' fill='#7c7c7c' stroke='none' stroke-width='0' opacity='0.9'/>
<rect x='100.35' y='340.41' width='1.48' height='81.49' fill='#7c7c7c' stroke='none' stroke-width='0' opacity='0.9'/>
<rect x='107.75' y='340.41' width='1.48' height='81.49' fill='#7c7c7c' stroke='none' stroke-width='0' opacity='0.9'/>
<rect x='115.15' y='321.93' width='1.48' height='99.97' fill='#7c7c7c' stroke='none' stroke-width='0' opacity='0.9'/>
<rect x='122.55' y='321.00' width='1.48' height='100.90' fill='#7c7c7c' stroke='none' stroke-width='0' opacity='0.9'/>
<rect x='129.95' y='322.85' width='1.48' height='99.05' fill='#7c7c7c' stroke='none' stroke-width='0' opacity='0.9'/>
<rect x='137.35' y='325.62' width='1.48' height='96.28' fill='#7c7c7c' stroke='none' stroke-width='0' opacity='0.9'/>
<rect x='144.75' y='320.08' width='1.48' height='101.82' fill='#7c7c7c' stroke='none' stroke-width='0' opacity='0.9'/>
<rect x='152.15' y='334.87' width='1.48' height='87.03' fill='#7c7c7c' stroke='none' stroke-width='0' opacity='0.9'/>
<rect x='159.55' y='344.11' width='1.48' height='77.79' fill='#7c7c7c' stroke='none' stroke-width='0' opacity='0.9'/>
<rect x='166.95' y='346.88' width='1.48' height='75.02' fill='#7c7c7c' stroke='none' stroke-width='0' opacity='0.9'/>
<rect x='174.35' y='366.29' width='1.48' height='55.61' fill='#7c7c7c' stroke='none' stroke-width='0' opacity='0.9'/>
<rect x='181.75' y='352.43' width='1.48' height='69.47' fill='#7c7c7c' stroke='none' stroke-width='0' opacity='0.9'/>
<rect x='189.15' y='358.90' width='1.48' height='63.00' fill='#7c7c7c' stroke='none' stroke-width='0' opacity='0.9'/>
<rect x='196.55' y='372.76' width='1.48' height='49.14' fill='#7c7c7c' stroke='none' stroke-width='0' opacity='0.9'/>
<rect x='203.95' y='381.08' width='1.48' height='40.82' fill='#7c7c7c' stroke='none' stroke-width='0' opacity='0.9'/>
<rect x='211.35' y='379.23' width='1.48' height='42.67' fill='#7c7c7c' stroke='none' stroke-width='0' opacity='0.9'/>
<rect x='218.75' y='377.38' width='1.48' height='44.52' fill='#7c7c7c' stroke='none' stroke-width='0' opacity='0.9'/>
<rect x='226.15' y='375.53' width='1.48' height='46.37' fill='#7c7c7c' stroke='none' stroke-width='0' opacity='0.9'/>
<rect x='233.55' y='372.76' width='1.48' height='49.14' fill='#7c7c7c' stroke='none' stroke-width='0' opacity='0.9'/>
<rect x='240.95' y='366.29' width='1.48' height='55.61' fill='#7c7c7c' stroke='none' stroke-width='0' opacity='0.9'/>
<rect x='248.35' y='359.82' width='1.48' height='62.08' fill='#7c7c7c' stroke='none' stroke-width='0' opacity='0.9'/>
<rect x='255.75' y='366.29' width='1.48' height='55.61' fill='#7c7c7c' stroke='none' stroke-width='0' opacity='0.9'/>
<rect x='263.15' y='329.32' width='1.48' height='92.58' fill='#7c7c7c' stroke='none' stroke-width='0' opacity='0.9'/>
<rect x='270.55' y='355.20' width='1.48' height='66.70' fill='#7c7c7c' stroke='none' stroke-width='0' opacity='0.9'/>
<rect x='277.95' y='358.90' width='1.48' height='63.00' fill='#7c7c7c' stroke='none' stroke-width='0' opacity='0.9'/>
<rect x='285.35' y='397.72' width='1.48' height='24.18' fill='#7c7c7c' stroke='none' stroke-width='0' opacity='0.9'/>
<rect x='64.83' y='409.73' width='1.63' height='12.17' fill='#050505' stroke='none' stroke-width='0' opacity='0.9'/>
<rect x='72.23' y='411.58' width='1.63' height='10.32' fill='#050505' stroke='none' stroke-width='0' opacity='0.9'/>
<rect x='79.63' y='399.57' width='1.63' height='22.33' fill='#050505' stroke='none' stroke-width='0' opacity='0.9'/>
<rect x='87.03' y='395.87' width='1.63' height='26.03' fill='#050505' stroke='none' stroke-width='0' opacity='0.9'/>
<rect x='94.43' y='371.84' width='1.63' height='50.06' fill='#050505' stroke='none' stroke-width='0' opacity='0.9'/>
<rect x='101.83' y='368.14' width='1.63' height='53.76' fill='#050505' stroke='none' stroke-width='0' opacity='0.9'/>
<rect x='109.23' y='345.03' width='1.63' height='76.87' fill='#050505' stroke='none' stroke-width='0' opacity='0.9'/>
<rect x='116.63' y='335.79' width='1.63' height='86.11' fill='#050505' stroke='none' stroke-width='0' opacity='0.9'/>
<rect x='124.03' y='326.55' width='1.63' height='95.35' fill='#050505' stroke='none' stroke-width='0' opacity='0.9'/>
<rect x='131.43' y='319.15' width='1.63' height='102.75' fill='#050505' stroke='none' stroke-width='0' opacity='0.9'/>
<rect x='138.83' y='317.30' width='1.63' height='104.60' fill='#050505' stroke='none' stroke-width='0' opacity='0.9'/>
<rect x='146.23' y='329.32' width='1.63' height='92.58' fill='#050505' stroke='none' stroke-width='0' opacity='0.9'/>
<rect x='153.63' y='332.09' width='1.63' height='89.81' fill='#050505' stroke='none' stroke-width='0' opacity='0.9'/>
<rect x='161.03' y='339.49' width='1.63' height='82.41' fill='#050505' stroke='none' stroke-width='0' opacity='0.9'/>
<rect x='168.43' y='353.35' width='1.63' height='68.55' fill='#050505' stroke='none' stroke-width='0' opacity='0.9'/>
<rect x='175.83' y='362.59' width='1.63' height='59.31' fill='#050505' stroke='none' stroke-width='0' opacity='0.9'/>
<rect x='183.23' y='352.43' width='1.63' height='69.47' fill='#050505' stroke='none' stroke-width='0' opacity='0.9'/>
<rect x='190.63' y='357.05' width='1.63' height='64.85' fill='#050505' stroke='none' stroke-width='0' opacity='0.9'/>
<rect x='198.03' y='372.76' width='1.63' height='49.14' fill='#050505' stroke='none' stroke-width='0' opacity='0.9'/>
<rect x='205.43' y='374.61' width='1.63' height='47.29' fill='#050505' stroke='none' stroke-width='0' opacity='0.9'/>
<rect x='212.83' y='379.23' width='1.63' height='42.67' fill='#050505' stroke='none' stroke-width='0' opacity='0.9'/>
<rect x='220.23' y='382.93' width='1.63' height='38.97' fill='#050505' stroke='none' stroke-width='0' opacity='0.9'/>
<rect x='227.63' y='371.84' width='1.63' height='50.06' fill='#050505' stroke='none' stroke-width='0' opacity='0.9'/>
<rect x='235.03' y='374.61' width='1.63' height='47.29' fill='#050505' stroke='none' stroke-width='0' opacity='0.9'/>
<rect x='242.43' y='370.91' width='1.63' height='50.99' fill='#050505' stroke='none' stroke-width='0' opacity='0.9'/>
<rect x='249.83' y='374.61' width='1.63' height='47.29' fill='#050505' stroke='none' stroke-width='0' opacity='0.9'/>
<rect x='257.23' y='359.82' width='1.63' height='62.08' fill='#050505' stroke='none' stroke-width='0' opacity='0.9'/>
<rect x='264.63' y='362.59' width='1.63' height='59.31' fill='#050505' stroke='none' stroke-width='0' opacity='0.9'/>
<rect x='272.03' y='350.58' width='1.63' height='71.32' fill='#050505' stroke='none' stroke-width='0' opacity='0.9'/>
<rect x='279.43' y='321.00' width='1.63' height='100.90' fill='#050505' stroke='none' stroke-width='0' opacity='0.9'/>
<rect x='286.83' y='360.75' width='1.63' height='61.15' fill='#050505' stroke='none' stroke-width='0' opacity='0.9'/>
</g></g>
<rect x='60.00' y='287.30' width='228.00' height='132.60' fill='none' stroke='#a4a4a4' stroke-width='1.05' />
<text x='63.20' y='427.50' font-size='7.6' fill='#262626' text-anchor='middle' stroke='#262626' stroke-width='0.17' textLength='3.95' lengthAdjust='spacingAndGlyphs' >0</text>
<text x='100.20' y='427.50' font-size='7.6' fill='#262626' text-anchor='middle' stroke='#262626' stroke-width='0.17' textLength='3.95' lengthAdjust='spacingAndGlyphs' >5</text>
<text x='137.20' y='427.50' font-size='7.6' fill='#262626' text-anchor='middle' stroke='#262626' stroke-width='0.17' textLength='7.90' lengthAdjust='spacingAndGlyphs' >10</text>
<text x='174.20' y='427.50' font-size='7.6' fill='#262626' text-anchor='middle' stroke='#262626' stroke-width='0.17' textLength='7.90' lengthAdjust='spacingAndGlyphs' >15</text>
<text x='211.20' y='427.50' font-size='7.6' fill='#262626' text-anchor='middle' stroke='#262626' stroke-width='0.17' textLength='7.90' lengthAdjust='spacingAndGlyphs' >20</text>
<text x='248.20' y='427.50' font-size='7.6' fill='#262626' text-anchor='middle' stroke='#262626' stroke-width='0.17' textLength='7.90' lengthAdjust='spacingAndGlyphs' >25</text>
<text x='285.20' y='427.50' font-size='7.6' fill='#262626' text-anchor='middle' stroke='#262626' stroke-width='0.17' textLength='7.90' lengthAdjust='spacingAndGlyphs' >30</text>
<text x='56.70' y='422.50' font-size='7.6' fill='#262626' text-anchor='end' stroke='#262626' stroke-width='0.17' textLength='15.80' lengthAdjust='spacingAndGlyphs' >0.00</text>
<text x='56.70' y='404.01' font-size='7.6' fill='#262626' text-anchor='end' stroke='#262626' stroke-width='0.17' textLength='15.80' lengthAdjust='spacingAndGlyphs' >0.01</text>
<text x='56.70' y='385.53' font-size='7.6' fill='#262626' text-anchor='end' stroke='#262626' stroke-width='0.17' textLength='15.80' lengthAdjust='spacingAndGlyphs' >0.02</text>
<text x='56.70' y='367.04' font-size='7.6' fill='#262626' text-anchor='end' stroke='#262626' stroke-width='0.17' textLength='15.80' lengthAdjust='spacingAndGlyphs' >0.03</text>
<text x='56.70' y='348.56' font-size='7.6' fill='#262626' text-anchor='end' stroke='#262626' stroke-width='0.17' textLength='15.80' lengthAdjust='spacingAndGlyphs' >0.04</text>
<text x='56.70' y='330.07' font-size='7.6' fill='#262626' text-anchor='end' stroke='#262626' stroke-width='0.17' textLength='15.80' lengthAdjust='spacingAndGlyphs' >0.05</text>
<text x='56.70' y='311.59' font-size='7.6' fill='#262626' text-anchor='end' stroke='#262626' stroke-width='0.17' textLength='15.80' lengthAdjust='spacingAndGlyphs' >0.06</text>
<text x='56.70' y='293.10' font-size='7.6' fill='#262626' text-anchor='end' stroke='#262626' stroke-width='0.17' textLength='15.80' lengthAdjust='spacingAndGlyphs' >0.07</text>
<text x='174.00' y='437.40' font-size='7.8' fill='#262626' text-anchor='middle' stroke='#262626' stroke-width='0.17' textLength='36.50' lengthAdjust='spacingAndGlyphs' >FCI Score</text>
<text font-size='7.8' fill='#262626' text-anchor='middle' stroke='#262626' stroke-width='0.17' textLength='75.50' lengthAdjust='spacingAndGlyphs' transform='translate(37.30,353.50) rotate(-90)' >Fraction of Students</text>
<rect x='213.30' y='288.60' width='73.20' height='32.20' fill='#fff' stroke='#dcdcdc' stroke-width='0.5' fill-opacity='0.85' rx='1'/>
<rect x='217.80' y='291.60' width='10.20' height='3.20' fill='#c0144a' stroke='none' stroke-width='0' />
<text x='231.80' y='295.10' font-size='6.3' fill='#2a2a2a' text-anchor='start' stroke='#2a2a2a' stroke-width='0.14' textLength='36.60' lengthAdjust='spacingAndGlyphs' >pre-instruction</text>
<rect x='217.80' y='299.15' width='10.20' height='3.20' fill='#100a78' stroke='none' stroke-width='0' />
<text x='231.80' y='302.65' font-size='6.3' fill='#2a2a2a' text-anchor='start' stroke='#2a2a2a' stroke-width='0.14' textLength='38.90' lengthAdjust='spacingAndGlyphs' >post-instruction</text>
<rect x='217.80' y='306.70' width='10.20' height='3.20' fill='#7c7c7c' stroke='none' stroke-width='0' />
<text x='231.80' y='310.20' font-size='6.3' fill='#2a2a2a' text-anchor='start' stroke='#2a2a2a' stroke-width='0.14' textLength='49.10' lengthAdjust='spacingAndGlyphs' >pre-instruction (±2)</text>
<rect x='217.80' y='314.25' width='10.20' height='3.20' fill='#050505' stroke='none' stroke-width='0' />
<text x='231.80' y='317.75' font-size='6.3' fill='#2a2a2a' text-anchor='start' stroke='#2a2a2a' stroke-width='0.14' textLength='51.30' lengthAdjust='spacingAndGlyphs' >post-instruction (±2)</text>
<rect x='640.20' y='287.50' width='236.30' height='130.70' fill='#fff' stroke='none' stroke-width='0' />
<line x1='644.40' y1='287.50' x2='644.40' y2='418.20' stroke='#d4d4d4' stroke-width='0.6' />
<line x1='660.16' y1='287.50' x2='660.16' y2='418.20' stroke='#d4d4d4' stroke-width='0.6' />
<line x1='675.92' y1='287.50' x2='675.92' y2='418.20' stroke='#d4d4d4' stroke-width='0.6' />
<line x1='691.68' y1='287.50' x2='691.68' y2='418.20' stroke='#d4d4d4' stroke-width='0.6' />
<line x1='707.44' y1='287.50' x2='707.44' y2='418.20' stroke='#d4d4d4' stroke-width='0.6' />
<line x1='723.20' y1='287.50' x2='723.20' y2='418.20' stroke='#d4d4d4' stroke-width='0.6' />
<line x1='738.96' y1='287.50' x2='738.96' y2='418.20' stroke='#d4d4d4' stroke-width='0.6' />
<line x1='754.72' y1='287.50' x2='754.72' y2='418.20' stroke='#d4d4d4' stroke-width='0.6' />
<line x1='770.48' y1='287.50' x2='770.48' y2='418.20' stroke='#d4d4d4' stroke-width='0.6' />
<line x1='786.24' y1='287.50' x2='786.24' y2='418.20' stroke='#d4d4d4' stroke-width='0.6' />
<line x1='802.00' y1='287.50' x2='802.00' y2='418.20' stroke='#d4d4d4' stroke-width='0.6' />
<line x1='817.76' y1='287.50' x2='817.76' y2='418.20' stroke='#d4d4d4' stroke-width='0.6' />
<line x1='833.52' y1='287.50' x2='833.52' y2='418.20' stroke='#d4d4d4' stroke-width='0.6' />
<line x1='849.28' y1='287.50' x2='849.28' y2='418.20' stroke='#d4d4d4' stroke-width='0.6' />
<line x1='865.04' y1='287.50' x2='865.04' y2='418.20' stroke='#d4d4d4' stroke-width='0.6' />
<line x1='640.20' y1='410.20' x2='876.50' y2='410.20' stroke='#d4d4d4' stroke-width='0.6' />
<line x1='640.20' y1='392.67' x2='876.50' y2='392.67' stroke='#d4d4d4' stroke-width='0.6' />
<line x1='640.20' y1='375.14' x2='876.50' y2='375.14' stroke='#d4d4d4' stroke-width='0.6' />
<line x1='640.20' y1='357.61' x2='876.50' y2='357.61' stroke='#d4d4d4' stroke-width='0.6' />
<line x1='640.20' y1='340.09' x2='876.50' y2='340.09' stroke='#d4d4d4' stroke-width='0.6' />
<line x1='640.20' y1='322.56' x2='876.50' y2='322.56' stroke='#d4d4d4' stroke-width='0.6' />
<line x1='640.20' y1='305.03' x2='876.50' y2='305.03' stroke='#d4d4d4' stroke-width='0.6' />
<line x1='640.20' y1='287.50' x2='876.50' y2='287.50' stroke='#d4d4d4' stroke-width='0.6' />
<clipPath id='dc'><rect x='640.2' y='287.5' width='236.29999999999995' height='130.7'/></clipPath><g clip-path='url(#dc)'>
<g stroke='#e2a0b4' stroke-width='0.8' opacity='1'><line x1='644.40' y1='287.98' x2='644.40' y2='291.32'/><line x1='642.80' y1='287.98' x2='646.00' y2='287.98'/><line x1='642.80' y1='291.32' x2='646.00' y2='291.32'/></g>
<g stroke='#7688aa' stroke-width='1.0' opacity='1'><line x1='644.40' y1='289.47' x2='644.40' y2='298.25'/><line x1='642.70' y1='289.47' x2='646.10' y2='289.47'/><line x1='642.70' y1='298.25' x2='646.10' y2='298.25'/></g>
<g stroke='#e2a0b4' stroke-width='0.8' opacity='1'><line x1='652.28' y1='288.18' x2='652.28' y2='290.90'/><line x1='650.68' y1='288.18' x2='653.88' y2='288.18'/><line x1='650.68' y1='290.90' x2='653.88' y2='290.90'/></g>
<g stroke='#7688aa' stroke-width='1.0' opacity='1'><line x1='652.28' y1='289.09' x2='652.28' y2='298.90'/><line x1='650.58' y1='289.09' x2='653.98' y2='289.09'/><line x1='650.58' y1='298.90' x2='653.98' y2='298.90'/></g>
<g stroke='#e2a0b4' stroke-width='0.8' opacity='1'><line x1='660.16' y1='287.99' x2='660.16' y2='290.92'/><line x1='658.56' y1='287.99' x2='661.76' y2='287.99'/><line x1='658.56' y1='290.92' x2='661.76' y2='290.92'/></g>
<g stroke='#7688aa' stroke-width='1.0' opacity='1'><line x1='660.16' y1='290.12' x2='660.16' y2='298.32'/><line x1='658.46' y1='290.12' x2='661.86' y2='290.12'/><line x1='658.46' y1='298.32' x2='661.86' y2='298.32'/></g>
<g stroke='#e2a0b4' stroke-width='0.8' opacity='1'><line x1='668.04' y1='288.29' x2='668.04' y2='291.55'/><line x1='666.44' y1='288.29' x2='669.64' y2='288.29'/><line x1='666.44' y1='291.55' x2='669.64' y2='291.55'/></g>
<g stroke='#7688aa' stroke-width='1.0' opacity='1'><line x1='668.04' y1='289.75' x2='668.04' y2='296.54'/><line x1='666.34' y1='289.75' x2='669.74' y2='289.75'/><line x1='666.34' y1='296.54' x2='669.74' y2='296.54'/></g>
<g stroke='#e2a0b4' stroke-width='0.8' opacity='1'><line x1='675.92' y1='288.18' x2='675.92' y2='291.95'/><line x1='674.32' y1='288.18' x2='677.52' y2='288.18'/><line x1='674.32' y1='291.95' x2='677.52' y2='291.95'/></g>
<g stroke='#7688aa' stroke-width='1.0' opacity='1'><line x1='675.92' y1='289.63' x2='675.92' y2='299.01'/><line x1='674.22' y1='289.63' x2='677.62' y2='289.63'/><line x1='674.22' y1='299.01' x2='677.62' y2='299.01'/></g>
<g stroke='#e2a0b4' stroke-width='0.8' opacity='1'><line x1='683.80' y1='288.20' x2='683.80' y2='290.92'/><line x1='682.20' y1='288.20' x2='685.40' y2='288.20'/><line x1='682.20' y1='290.92' x2='685.40' y2='290.92'/></g>
<g stroke='#7688aa' stroke-width='1.0' opacity='1'><line x1='683.80' y1='289.88' x2='683.80' y2='298.60'/><line x1='682.10' y1='289.88' x2='685.50' y2='289.88'/><line x1='682.10' y1='298.60' x2='685.50' y2='298.60'/></g>
<g stroke='#e2a0b4' stroke-width='0.8' opacity='1'><line x1='691.68' y1='288.01' x2='691.68' y2='290.68'/><line x1='690.08' y1='288.01' x2='693.28' y2='288.01'/><line x1='690.08' y1='290.68' x2='693.28' y2='290.68'/></g>
<g stroke='#7688aa' stroke-width='1.0' opacity='1'><line x1='691.68' y1='289.99' x2='691.68' y2='298.19'/><line x1='689.98' y1='289.99' x2='693.38' y2='289.99'/><line x1='689.98' y1='298.19' x2='693.38' y2='298.19'/></g>
<g stroke='#e2a0b4' stroke-width='0.8' opacity='1'><line x1='699.56' y1='288.23' x2='699.56' y2='292.01'/><line x1='697.96' y1='288.23' x2='701.16' y2='288.23'/><line x1='697.96' y1='292.01' x2='701.16' y2='292.01'/></g>
<g stroke='#7688aa' stroke-width='1.0' opacity='1'><line x1='699.56' y1='289.83' x2='699.56' y2='300.00'/><line x1='697.86' y1='289.83' x2='701.26' y2='289.83'/><line x1='697.86' y1='300.00' x2='701.26' y2='300.00'/></g>
<g stroke='#e2a0b4' stroke-width='0.8' opacity='1'><line x1='707.44' y1='288.06' x2='707.44' y2='291.74'/><line x1='705.84' y1='288.06' x2='709.04' y2='288.06'/><line x1='705.84' y1='291.74' x2='709.04' y2='291.74'/></g>
<g stroke='#7688aa' stroke-width='1.0' opacity='1'><line x1='707.44' y1='289.55' x2='707.44' y2='299.78'/><line x1='705.74' y1='289.55' x2='709.14' y2='289.55'/><line x1='705.74' y1='299.78' x2='709.14' y2='299.78'/></g>
<g stroke='#e2a0b4' stroke-width='0.8' opacity='1'><line x1='715.32' y1='288.31' x2='715.32' y2='291.07'/><line x1='713.72' y1='288.31' x2='716.92' y2='288.31'/><line x1='713.72' y1='291.07' x2='716.92' y2='291.07'/></g>
<g stroke='#7688aa' stroke-width='1.0' opacity='1'><line x1='715.32' y1='289.22' x2='715.32' y2='296.31'/><line x1='713.62' y1='289.22' x2='717.02' y2='289.22'/><line x1='713.62' y1='296.31' x2='717.02' y2='296.31'/></g>
<g stroke='#e2a0b4' stroke-width='0.8' opacity='1'><line x1='723.20' y1='288.36' x2='723.20' y2='291.56'/><line x1='721.60' y1='288.36' x2='724.80' y2='288.36'/><line x1='721.60' y1='291.56' x2='724.80' y2='291.56'/></g>
<g stroke='#7688aa' stroke-width='1.0' opacity='1'><line x1='723.20' y1='289.74' x2='723.20' y2='297.19'/><line x1='721.50' y1='289.74' x2='724.90' y2='289.74'/><line x1='721.50' y1='297.19' x2='724.90' y2='297.19'/></g>
<g stroke='#e2a0b4' stroke-width='0.8' opacity='1'><line x1='731.08' y1='288.12' x2='731.08' y2='291.25'/><line x1='729.48' y1='288.12' x2='732.68' y2='288.12'/><line x1='729.48' y1='291.25' x2='732.68' y2='291.25'/></g>
<g stroke='#7688aa' stroke-width='1.0' opacity='1'><line x1='731.08' y1='289.45' x2='731.08' y2='298.15'/><line x1='729.38' y1='289.45' x2='732.78' y2='289.45'/><line x1='729.38' y1='298.15' x2='732.78' y2='298.15'/></g>
<g stroke='#e2a0b4' stroke-width='0.8' opacity='1'><line x1='738.96' y1='288.16' x2='738.96' y2='291.98'/><line x1='737.36' y1='288.16' x2='740.56' y2='288.16'/><line x1='737.36' y1='291.98' x2='740.56' y2='291.98'/></g>
<g stroke='#7688aa' stroke-width='1.0' opacity='1'><line x1='738.96' y1='289.79' x2='738.96' y2='300.00'/><line x1='737.26' y1='289.79' x2='740.66' y2='289.79'/><line x1='737.26' y1='300.00' x2='740.66' y2='300.00'/></g>
<g stroke='#e2a0b4' stroke-width='0.8' opacity='1'><line x1='746.84' y1='288.30' x2='746.84' y2='292.23'/><line x1='745.24' y1='288.30' x2='748.44' y2='288.30'/><line x1='745.24' y1='292.23' x2='748.44' y2='292.23'/></g>
<g stroke='#7688aa' stroke-width='1.0' opacity='1'><line x1='746.84' y1='289.78' x2='746.84' y2='296.63'/><line x1='745.14' y1='289.78' x2='748.54' y2='289.78'/><line x1='745.14' y1='296.63' x2='748.54' y2='296.63'/></g>
<g stroke='#e2a0b4' stroke-width='0.8' opacity='1'><line x1='754.72' y1='288.30' x2='754.72' y2='292.20'/><line x1='753.12' y1='288.30' x2='756.32' y2='288.30'/><line x1='753.12' y1='292.20' x2='756.32' y2='292.20'/></g>
<g stroke='#7688aa' stroke-width='1.0' opacity='1'><line x1='754.72' y1='290.03' x2='754.72' y2='298.66'/><line x1='753.02' y1='290.03' x2='756.42' y2='290.03'/><line x1='753.02' y1='298.66' x2='756.42' y2='298.66'/></g>
<g stroke='#e2a0b4' stroke-width='0.8' opacity='1'><line x1='762.60' y1='288.23' x2='762.60' y2='291.13'/><line x1='761.00' y1='288.23' x2='764.20' y2='288.23'/><line x1='761.00' y1='291.13' x2='764.20' y2='291.13'/></g>
<g stroke='#7688aa' stroke-width='1.0' opacity='1'><line x1='762.60' y1='289.95' x2='762.60' y2='298.60'/><line x1='760.90' y1='289.95' x2='764.30' y2='289.95'/><line x1='760.90' y1='298.60' x2='764.30' y2='298.60'/></g>
<g stroke='#e2a0b4' stroke-width='0.8' opacity='1'><line x1='770.48' y1='288.00' x2='770.48' y2='290.71'/><line x1='768.88' y1='288.00' x2='772.08' y2='288.00'/><line x1='768.88' y1='290.71' x2='772.08' y2='290.71'/></g>
<g stroke='#7688aa' stroke-width='1.0' opacity='1'><line x1='770.48' y1='289.98' x2='770.48' y2='300.45'/><line x1='768.78' y1='289.98' x2='772.18' y2='289.98'/><line x1='768.78' y1='300.45' x2='772.18' y2='300.45'/></g>
<g stroke='#e2a0b4' stroke-width='0.8' opacity='1'><line x1='778.36' y1='287.90' x2='778.36' y2='291.58'/><line x1='776.76' y1='287.90' x2='779.96' y2='287.90'/><line x1='776.76' y1='291.58' x2='779.96' y2='291.58'/></g>
<g stroke='#7688aa' stroke-width='1.0' opacity='1'><line x1='778.36' y1='289.51' x2='778.36' y2='296.30'/><line x1='776.66' y1='289.51' x2='780.06' y2='289.51'/><line x1='776.66' y1='296.30' x2='780.06' y2='296.30'/></g>
<g stroke='#e2a0b4' stroke-width='0.8' opacity='1'><line x1='786.24' y1='288.01' x2='786.24' y2='291.65'/><line x1='784.64' y1='288.01' x2='787.84' y2='288.01'/><line x1='784.64' y1='291.65' x2='787.84' y2='291.65'/></g>
<g stroke='#7688aa' stroke-width='1.0' opacity='1'><line x1='786.24' y1='290.00' x2='786.24' y2='296.32'/><line x1='784.54' y1='290.00' x2='787.94' y2='290.00'/><line x1='784.54' y1='296.32' x2='787.94' y2='296.32'/></g>
<g stroke='#e2a0b4' stroke-width='0.8' opacity='1'><line x1='794.12' y1='288.17' x2='794.12' y2='290.86'/><line x1='792.52' y1='288.17' x2='795.72' y2='288.17'/><line x1='792.52' y1='290.86' x2='795.72' y2='290.86'/></g>
<g stroke='#7688aa' stroke-width='1.0' opacity='1'><line x1='794.12' y1='289.83' x2='794.12' y2='297.42'/><line x1='792.42' y1='289.83' x2='795.82' y2='289.83'/><line x1='792.42' y1='297.42' x2='795.82' y2='297.42'/></g>
<g stroke='#e2a0b4' stroke-width='0.8' opacity='1'><line x1='802.00' y1='288.31' x2='802.00' y2='292.23'/><line x1='800.40' y1='288.31' x2='803.60' y2='288.31'/><line x1='800.40' y1='292.23' x2='803.60' y2='292.23'/></g>
<g stroke='#7688aa' stroke-width='1.0' opacity='1'><line x1='802.00' y1='289.61' x2='802.00' y2='300.12'/><line x1='800.30' y1='289.61' x2='803.70' y2='289.61'/><line x1='800.30' y1='300.12' x2='803.70' y2='300.12'/></g>
<g stroke='#e2a0b4' stroke-width='0.8' opacity='1'><line x1='809.88' y1='288.01' x2='809.88' y2='290.74'/><line x1='808.28' y1='288.01' x2='811.48' y2='288.01'/><line x1='808.28' y1='290.74' x2='811.48' y2='290.74'/></g>
<g stroke='#7688aa' stroke-width='1.0' opacity='1'><line x1='809.88' y1='289.71' x2='809.88' y2='295.98'/><line x1='808.18' y1='289.71' x2='811.58' y2='289.71'/><line x1='808.18' y1='295.98' x2='811.58' y2='295.98'/></g>
<g stroke='#e2a0b4' stroke-width='0.8' opacity='1'><line x1='817.76' y1='287.95' x2='817.76' y2='291.12'/><line x1='816.16' y1='287.95' x2='819.36' y2='287.95'/><line x1='816.16' y1='291.12' x2='819.36' y2='291.12'/></g>
<g stroke='#7688aa' stroke-width='1.0' opacity='1'><line x1='817.76' y1='289.72' x2='817.76' y2='296.54'/><line x1='816.06' y1='289.72' x2='819.46' y2='289.72'/><line x1='816.06' y1='296.54' x2='819.46' y2='296.54'/></g>
<g stroke='#e2a0b4' stroke-width='0.8' opacity='1'><line x1='825.64' y1='287.87' x2='825.64' y2='291.64'/><line x1='824.04' y1='287.87' x2='827.24' y2='287.87'/><line x1='824.04' y1='291.64' x2='827.24' y2='291.64'/></g>
<g stroke='#7688aa' stroke-width='1.0' opacity='1'><line x1='825.64' y1='289.41' x2='825.64' y2='299.74'/><line x1='823.94' y1='289.41' x2='827.34' y2='289.41'/><line x1='823.94' y1='299.74' x2='827.34' y2='299.74'/></g>
<g stroke='#e2a0b4' stroke-width='0.8' opacity='1'><line x1='833.52' y1='288.32' x2='833.52' y2='291.45'/><line x1='831.92' y1='288.32' x2='835.12' y2='288.32'/><line x1='831.92' y1='291.45' x2='835.12' y2='291.45'/></g>
<g stroke='#7688aa' stroke-width='1.0' opacity='1'><line x1='833.52' y1='289.56' x2='833.52' y2='297.98'/><line x1='831.82' y1='289.56' x2='835.22' y2='289.56'/><line x1='831.82' y1='297.98' x2='835.22' y2='297.98'/></g>
<g stroke='#e2a0b4' stroke-width='0.8' opacity='1'><line x1='841.40' y1='288.19' x2='841.40' y2='291.60'/><line x1='839.80' y1='288.19' x2='843.00' y2='288.19'/><line x1='839.80' y1='291.60' x2='843.00' y2='291.60'/></g>
<g stroke='#7688aa' stroke-width='1.0' opacity='1'><line x1='841.40' y1='289.67' x2='841.40' y2='298.52'/><line x1='839.70' y1='289.67' x2='843.10' y2='289.67'/><line x1='839.70' y1='298.52' x2='843.10' y2='298.52'/></g>
<g stroke='#e2a0b4' stroke-width='0.8' opacity='1'><line x1='849.28' y1='288.35' x2='849.28' y2='291.64'/><line x1='847.68' y1='288.35' x2='850.88' y2='288.35'/><line x1='847.68' y1='291.64' x2='850.88' y2='291.64'/></g>
<g stroke='#7688aa' stroke-width='1.0' opacity='1'><line x1='849.28' y1='289.53' x2='849.28' y2='298.82'/><line x1='847.58' y1='289.53' x2='850.98' y2='289.53'/><line x1='847.58' y1='298.82' x2='850.98' y2='298.82'/></g>
<g stroke='#e2a0b4' stroke-width='0.8' opacity='1'><line x1='857.16' y1='287.98' x2='857.16' y2='291.00'/><line x1='855.56' y1='287.98' x2='858.76' y2='287.98'/><line x1='855.56' y1='291.00' x2='858.76' y2='291.00'/></g>
<g stroke='#7688aa' stroke-width='1.0' opacity='1'><line x1='857.16' y1='290.11' x2='857.16' y2='298.52'/><line x1='855.46' y1='290.11' x2='858.86' y2='290.11'/><line x1='855.46' y1='298.52' x2='858.86' y2='298.52'/></g>
<g stroke='#e2a0b4' stroke-width='0.8' opacity='1'><line x1='865.04' y1='288.14' x2='865.04' y2='290.78'/><line x1='863.44' y1='288.14' x2='866.64' y2='288.14'/><line x1='863.44' y1='290.78' x2='866.64' y2='290.78'/></g>
<g stroke='#7688aa' stroke-width='1.0' opacity='1'><line x1='865.04' y1='289.51' x2='865.04' y2='298.19'/><line x1='863.34' y1='289.51' x2='866.74' y2='289.51'/><line x1='863.34' y1='298.19' x2='866.74' y2='298.19'/></g>
<g stroke='#e2a0b4' stroke-width='0.8' opacity='1'><line x1='872.92' y1='287.86' x2='872.92' y2='291.30'/><line x1='871.32' y1='287.86' x2='874.52' y2='287.86'/><line x1='871.32' y1='291.30' x2='874.52' y2='291.30'/></g>
<g stroke='#7688aa' stroke-width='1.0' opacity='1'><line x1='872.92' y1='289.74' x2='872.92' y2='296.14'/><line x1='871.22' y1='289.74' x2='874.62' y2='289.74'/><line x1='871.22' y1='296.14' x2='874.62' y2='296.14'/></g>
<g stroke='#1e1e66' stroke-width='1.15' opacity='0.92'><line x1='644.40' y1='291.88' x2='644.40' y2='308.53'/><line x1='642.60' y1='291.88' x2='646.20' y2='291.88'/><line x1='642.60' y1='308.53' x2='646.20' y2='308.53'/></g>
<g stroke='#c83058' stroke-width='1.0' opacity='0.9'><line x1='644.40' y1='289.25' x2='644.40' y2='297.14'/><line x1='642.70' y1='289.25' x2='646.10' y2='289.25'/><line x1='642.70' y1='297.14' x2='646.10' y2='297.14'/></g>
<g stroke='#1e1e66' stroke-width='1.15' opacity='0.92'><line x1='652.28' y1='320.37' x2='652.28' y2='346.22'/><line x1='650.48' y1='320.37' x2='654.08' y2='320.37'/><line x1='650.48' y1='346.22' x2='654.08' y2='346.22'/></g>
<g stroke='#c83058' stroke-width='1.0' opacity='0.9'><line x1='652.28' y1='306.78' x2='652.28' y2='320.37'/><line x1='650.58' y1='306.78' x2='653.98' y2='306.78'/><line x1='650.58' y1='320.37' x2='653.98' y2='320.37'/></g>
<g stroke='#1e1e66' stroke-width='1.15' opacity='0.92'><line x1='660.16' y1='308.53' x2='660.16' y2='333.25'/><line x1='658.36' y1='308.53' x2='661.96' y2='308.53'/><line x1='658.36' y1='333.25' x2='661.96' y2='333.25'/></g>
<g stroke='#c83058' stroke-width='1.0' opacity='0.9'><line x1='660.16' y1='298.02' x2='660.16' y2='309.41'/><line x1='658.46' y1='298.02' x2='661.86' y2='298.02'/><line x1='658.46' y1='309.41' x2='661.86' y2='309.41'/></g>
<g stroke='#1e1e66' stroke-width='1.15' opacity='0.92'><line x1='668.04' y1='330.45' x2='668.04' y2='359.37'/><line x1='666.24' y1='330.45' x2='669.84' y2='330.45'/><line x1='666.24' y1='359.37' x2='669.84' y2='359.37'/></g>
<g stroke='#c83058' stroke-width='1.0' opacity='0.9'><line x1='668.04' y1='383.91' x2='668.04' y2='406.69'/><line x1='666.34' y1='383.91' x2='669.74' y2='383.91'/><line x1='666.34' y1='406.69' x2='669.74' y2='406.69'/></g>
<g stroke='#1e1e66' stroke-width='1.15' opacity='0.92'><line x1='675.92' y1='339.21' x2='675.92' y2='373.39'/><line x1='674.12' y1='339.21' x2='677.72' y2='339.21'/><line x1='674.12' y1='373.39' x2='677.72' y2='373.39'/></g>
<g stroke='#c83058' stroke-width='1.0' opacity='0.9'><line x1='675.92' y1='339.21' x2='675.92' y2='359.37'/><line x1='674.22' y1='339.21' x2='677.62' y2='339.21'/><line x1='674.22' y1='359.37' x2='677.62' y2='359.37'/></g>
<g stroke='#1e1e66' stroke-width='1.15' opacity='0.92'><line x1='683.80' y1='290.13' x2='683.80' y2='303.28'/><line x1='682.00' y1='290.13' x2='685.60' y2='290.13'/><line x1='682.00' y1='303.28' x2='685.60' y2='303.28'/></g>
<g stroke='#c83058' stroke-width='1.0' opacity='0.9'><line x1='683.80' y1='291.88' x2='683.80' y2='298.02'/><line x1='682.10' y1='291.88' x2='685.50' y2='291.88'/><line x1='682.10' y1='298.02' x2='685.50' y2='298.02'/></g>
<g stroke='#1e1e66' stroke-width='1.15' opacity='0.92'><line x1='691.68' y1='292.76' x2='691.68' y2='311.16'/><line x1='689.88' y1='292.76' x2='693.48' y2='292.76'/><line x1='689.88' y1='311.16' x2='693.48' y2='311.16'/></g>
<g stroke='#c83058' stroke-width='1.0' opacity='0.9'><line x1='691.68' y1='291.88' x2='691.68' y2='298.02'/><line x1='689.98' y1='291.88' x2='693.38' y2='291.88'/><line x1='689.98' y1='298.02' x2='693.38' y2='298.02'/></g>
<g stroke='#1e1e66' stroke-width='1.15' opacity='0.92'><line x1='699.56' y1='310.29' x2='699.56' y2='333.25'/><line x1='697.76' y1='310.29' x2='701.36' y2='310.29'/><line x1='697.76' y1='333.25' x2='701.36' y2='333.25'/></g>
<g stroke='#c83058' stroke-width='1.0' opacity='0.9'><line x1='699.56' y1='298.89' x2='699.56' y2='310.29'/><line x1='697.86' y1='298.89' x2='701.26' y2='298.89'/><line x1='697.86' y1='310.29' x2='701.26' y2='310.29'/></g>
<g stroke='#1e1e66' stroke-width='1.15' opacity='0.92'><line x1='707.44' y1='318.61' x2='707.44' y2='345.34'/><line x1='705.64' y1='318.61' x2='709.24' y2='318.61'/><line x1='705.64' y1='345.34' x2='709.24' y2='345.34'/></g>
<g stroke='#c83058' stroke-width='1.0' opacity='0.9'><line x1='707.44' y1='303.28' x2='707.44' y2='318.61'/><line x1='705.74' y1='303.28' x2='709.14' y2='303.28'/><line x1='705.74' y1='318.61' x2='709.14' y2='318.61'/></g>
<g stroke='#1e1e66' stroke-width='1.15' opacity='0.92'><line x1='715.32' y1='297.14' x2='715.32' y2='321.68'/><line x1='713.52' y1='297.14' x2='717.12' y2='297.14'/><line x1='713.52' y1='321.68' x2='717.12' y2='321.68'/></g>
<g stroke='#c83058' stroke-width='1.0' opacity='0.9'><line x1='715.32' y1='295.39' x2='715.32' y2='302.40'/><line x1='713.62' y1='295.39' x2='717.02' y2='295.39'/><line x1='713.62' y1='302.40' x2='717.02' y2='302.40'/></g>
<g stroke='#1e1e66' stroke-width='1.15' opacity='0.92'><line x1='723.20' y1='322.56' x2='723.20' y2='349.73'/><line x1='721.40' y1='322.56' x2='725.00' y2='322.56'/><line x1='721.40' y1='349.73' x2='725.00' y2='349.73'/></g>
<g stroke='#c83058' stroke-width='1.0' opacity='0.9'><line x1='723.20' y1='321.68' x2='723.20' y2='335.70'/><line x1='721.50' y1='321.68' x2='724.90' y2='321.68'/><line x1='721.50' y1='335.70' x2='724.90' y2='335.70'/></g>
<g stroke='#1e1e66' stroke-width='1.15' opacity='0.92'><line x1='731.08' y1='296.26' x2='731.08' y2='315.55'/><line x1='729.28' y1='296.26' x2='732.88' y2='296.26'/><line x1='729.28' y1='315.55' x2='732.88' y2='315.55'/></g>
<g stroke='#c83058' stroke-width='1.0' opacity='0.9'><line x1='731.08' y1='289.25' x2='731.08' y2='295.39'/><line x1='729.38' y1='289.25' x2='732.78' y2='289.25'/><line x1='729.38' y1='295.39' x2='732.78' y2='295.39'/></g>
<g stroke='#1e1e66' stroke-width='1.15' opacity='0.92'><line x1='738.96' y1='306.78' x2='738.96' y2='328.69'/><line x1='737.16' y1='306.78' x2='740.76' y2='306.78'/><line x1='737.16' y1='328.69' x2='740.76' y2='328.69'/></g>
<g stroke='#c83058' stroke-width='1.0' opacity='0.9'><line x1='738.96' y1='305.91' x2='738.96' y2='318.18'/><line x1='737.26' y1='305.91' x2='740.66' y2='305.91'/><line x1='737.26' y1='318.18' x2='740.66' y2='318.18'/></g>
<g stroke='#1e1e66' stroke-width='1.15' opacity='0.92'><line x1='746.84' y1='305.03' x2='746.84' y2='323.43'/><line x1='745.04' y1='305.03' x2='748.64' y2='305.03'/><line x1='745.04' y1='323.43' x2='748.64' y2='323.43'/></g>
<g stroke='#c83058' stroke-width='1.0' opacity='0.9'><line x1='746.84' y1='325.19' x2='746.84' y2='340.09'/><line x1='745.14' y1='325.19' x2='748.54' y2='325.19'/><line x1='745.14' y1='340.09' x2='748.54' y2='340.09'/></g>
<g stroke='#1e1e66' stroke-width='1.15' opacity='0.92'><line x1='754.72' y1='301.52' x2='754.72' y2='322.56'/><line x1='752.92' y1='301.52' x2='756.52' y2='301.52'/><line x1='752.92' y1='322.56' x2='756.52' y2='322.56'/></g>
<g stroke='#c83058' stroke-width='1.0' opacity='0.9'><line x1='754.72' y1='299.77' x2='754.72' y2='305.91'/><line x1='753.02' y1='299.77' x2='756.42' y2='299.77'/><line x1='753.02' y1='305.91' x2='756.42' y2='305.91'/></g>
<g stroke='#1e1e66' stroke-width='1.15' opacity='0.92'><line x1='762.60' y1='296.26' x2='762.60' y2='312.04'/><line x1='760.80' y1='296.26' x2='764.40' y2='296.26'/><line x1='760.80' y1='312.04' x2='764.40' y2='312.04'/></g>
<g stroke='#c83058' stroke-width='1.0' opacity='0.9'><line x1='762.60' y1='295.39' x2='762.60' y2='301.52'/><line x1='760.90' y1='295.39' x2='764.30' y2='295.39'/><line x1='760.90' y1='301.52' x2='764.30' y2='301.52'/></g>
<g stroke='#1e1e66' stroke-width='1.15' opacity='0.92'><line x1='770.48' y1='306.78' x2='770.48' y2='326.06'/><line x1='768.68' y1='306.78' x2='772.28' y2='306.78'/><line x1='768.68' y1='326.06' x2='772.28' y2='326.06'/></g>
<g stroke='#c83058' stroke-width='1.0' opacity='0.9'><line x1='770.48' y1='309.41' x2='770.48' y2='318.18'/><line x1='768.78' y1='309.41' x2='772.18' y2='309.41'/><line x1='768.78' y1='318.18' x2='772.18' y2='318.18'/></g>
<g stroke='#1e1e66' stroke-width='1.15' opacity='0.92'><line x1='778.36' y1='338.33' x2='778.36' y2='369.88'/><line x1='776.56' y1='338.33' x2='780.16' y2='338.33'/><line x1='776.56' y1='369.88' x2='780.16' y2='369.88'/></g>
<g stroke='#c83058' stroke-width='1.0' opacity='0.9'><line x1='778.36' y1='344.47' x2='778.36' y2='362.87'/><line x1='776.66' y1='344.47' x2='780.06' y2='344.47'/><line x1='776.66' y1='362.87' x2='780.06' y2='362.87'/></g>
<g stroke='#1e1e66' stroke-width='1.15' opacity='0.92'><line x1='786.24' y1='306.78' x2='786.24' y2='326.94'/><line x1='784.44' y1='306.78' x2='788.04' y2='306.78'/><line x1='784.44' y1='326.94' x2='788.04' y2='326.94'/></g>
<g stroke='#c83058' stroke-width='1.0' opacity='0.9'><line x1='786.24' y1='312.92' x2='786.24' y2='322.56'/><line x1='784.54' y1='312.92' x2='787.94' y2='312.92'/><line x1='784.54' y1='322.56' x2='787.94' y2='322.56'/></g>
<g stroke='#1e1e66' stroke-width='1.15' opacity='0.92'><line x1='794.12' y1='300.65' x2='794.12' y2='327.82'/><line x1='792.32' y1='300.65' x2='795.92' y2='300.65'/><line x1='792.32' y1='327.82' x2='795.92' y2='327.82'/></g>
<g stroke='#c83058' stroke-width='1.0' opacity='0.9'><line x1='794.12' y1='295.39' x2='794.12' y2='301.52'/><line x1='792.42' y1='295.39' x2='795.82' y2='295.39'/><line x1='792.42' y1='301.52' x2='795.82' y2='301.52'/></g>
<g stroke='#1e1e66' stroke-width='1.15' opacity='0.92'><line x1='802.00' y1='326.94' x2='802.00' y2='363.75'/><line x1='800.20' y1='326.94' x2='803.80' y2='326.94'/><line x1='800.20' y1='363.75' x2='803.80' y2='363.75'/></g>
<g stroke='#c83058' stroke-width='1.0' opacity='0.9'><line x1='802.00' y1='321.68' x2='802.00' y2='334.83'/><line x1='800.30' y1='321.68' x2='803.70' y2='321.68'/><line x1='800.30' y1='334.83' x2='803.70' y2='334.83'/></g>
<g stroke='#1e1e66' stroke-width='1.15' opacity='0.92'><line x1='809.88' y1='315.11' x2='809.88' y2='339.30'/><line x1='808.08' y1='315.11' x2='811.68' y2='315.11'/><line x1='808.08' y1='339.30' x2='811.68' y2='339.30'/></g>
<g stroke='#c83058' stroke-width='1.0' opacity='0.9'><line x1='809.88' y1='303.28' x2='809.88' y2='315.11'/><line x1='808.18' y1='303.28' x2='811.58' y2='303.28'/><line x1='808.18' y1='315.11' x2='811.58' y2='315.11'/></g>
<g stroke='#1e1e66' stroke-width='1.15' opacity='0.92'><line x1='817.76' y1='312.04' x2='817.76' y2='332.72'/><line x1='815.96' y1='312.04' x2='819.56' y2='312.04'/><line x1='815.96' y1='332.72' x2='819.56' y2='332.72'/></g>
<g stroke='#c83058' stroke-width='1.0' opacity='0.9'><line x1='817.76' y1='310.29' x2='817.76' y2='319.05'/><line x1='816.06' y1='310.29' x2='819.46' y2='310.29'/><line x1='816.06' y1='319.05' x2='819.46' y2='319.05'/></g>
<g stroke='#1e1e66' stroke-width='1.15' opacity='0.92'><line x1='825.64' y1='302.40' x2='825.64' y2='322.56'/><line x1='823.84' y1='302.40' x2='827.44' y2='302.40'/><line x1='823.84' y1='322.56' x2='827.44' y2='322.56'/></g>
<g stroke='#c83058' stroke-width='1.0' opacity='0.9'><line x1='825.64' y1='298.89' x2='825.64' y2='305.03'/><line x1='823.94' y1='298.89' x2='827.34' y2='298.89'/><line x1='823.94' y1='305.03' x2='827.34' y2='305.03'/></g>
<g stroke='#1e1e66' stroke-width='1.15' opacity='0.92'><line x1='833.52' y1='309.41' x2='833.52' y2='331.58'/><line x1='831.72' y1='309.41' x2='835.32' y2='309.41'/><line x1='831.72' y1='331.58' x2='835.32' y2='331.58'/></g>
<g stroke='#c83058' stroke-width='1.0' opacity='0.9'><line x1='833.52' y1='299.77' x2='833.52' y2='308.53'/><line x1='831.82' y1='299.77' x2='835.22' y2='299.77'/><line x1='831.82' y1='308.53' x2='835.22' y2='308.53'/></g>
<g stroke='#1e1e66' stroke-width='1.15' opacity='0.92'><line x1='841.40' y1='312.92' x2='841.40' y2='336.84'/><line x1='839.60' y1='312.92' x2='843.20' y2='312.92'/><line x1='839.60' y1='336.84' x2='843.20' y2='336.84'/></g>
<g stroke='#c83058' stroke-width='1.0' opacity='0.9'><line x1='841.40' y1='298.89' x2='841.40' y2='312.04'/><line x1='839.70' y1='298.89' x2='843.10' y2='298.89'/><line x1='839.70' y1='312.04' x2='843.10' y2='312.04'/></g>
<g stroke='#1e1e66' stroke-width='1.15' opacity='0.92'><line x1='849.28' y1='312.04' x2='849.28' y2='333.07'/><line x1='847.48' y1='312.04' x2='851.08' y2='312.04'/><line x1='847.48' y1='333.07' x2='851.08' y2='333.07'/></g>
<g stroke='#c83058' stroke-width='1.0' opacity='0.9'><line x1='849.28' y1='317.30' x2='849.28' y2='332.20'/><line x1='847.58' y1='317.30' x2='850.98' y2='317.30'/><line x1='847.58' y1='332.20' x2='850.98' y2='332.20'/></g>
<g stroke='#1e1e66' stroke-width='1.15' opacity='0.92'><line x1='857.16' y1='309.41' x2='857.16' y2='325.19'/><line x1='855.36' y1='309.41' x2='858.96' y2='309.41'/><line x1='855.36' y1='325.19' x2='858.96' y2='325.19'/></g>
<g stroke='#c83058' stroke-width='1.0' opacity='0.9'><line x1='857.16' y1='313.79' x2='857.16' y2='328.17'/><line x1='855.46' y1='313.79' x2='858.86' y2='313.79'/><line x1='855.46' y1='328.17' x2='858.86' y2='328.17'/></g>
<g stroke='#1e1e66' stroke-width='1.15' opacity='0.92'><line x1='865.04' y1='318.18' x2='865.04' y2='335.70'/><line x1='863.24' y1='318.18' x2='866.84' y2='318.18'/><line x1='863.24' y1='335.70' x2='866.84' y2='335.70'/></g>
<g stroke='#c83058' stroke-width='1.0' opacity='0.9'><line x1='865.04' y1='326.06' x2='865.04' y2='339.56'/><line x1='863.34' y1='326.06' x2='866.74' y2='326.06'/><line x1='863.34' y1='339.56' x2='866.74' y2='339.56'/></g>
<g stroke='#1e1e66' stroke-width='1.15' opacity='0.92'><line x1='872.92' y1='303.28' x2='872.92' y2='319.93'/><line x1='871.12' y1='303.28' x2='874.72' y2='303.28'/><line x1='871.12' y1='319.93' x2='874.72' y2='319.93'/></g>
<g stroke='#c83058' stroke-width='1.0' opacity='0.9'><line x1='872.92' y1='302.40' x2='872.92' y2='308.53'/><line x1='871.22' y1='302.40' x2='874.62' y2='302.40'/><line x1='871.22' y1='308.53' x2='874.62' y2='308.53'/></g>
<circle cx='644.40' cy='291.01' r='1.5' fill='#b01238'/>
<path d='M642.75,297.56 L646.05,297.56 L644.40,294.56 Z' fill='#12125a'/>
<circle cx='652.28' cy='308.53' r='1.5' fill='#b01238'/>
<path d='M650.63,319.04 L653.93,319.04 L652.28,316.04 Z' fill='#12125a'/>
<circle cx='660.16' cy='300.65' r='1.5' fill='#b01238'/>
<path d='M658.51,310.10 L661.81,310.10 L660.16,307.10 Z' fill='#12125a'/>
<circle cx='668.04' cy='393.55' r='1.5' fill='#b01238'/>
<path d='M666.39,339.63 L669.69,339.63 L668.04,336.63 Z' fill='#12125a'/>
<circle cx='675.92' cy='345.34' r='1.5' fill='#b01238'/>
<path d='M674.27,341.39 L677.57,341.39 L675.92,338.39 Z' fill='#12125a'/>
<circle cx='683.80' cy='294.51' r='1.5' fill='#b01238'/>
<path d='M682.15,294.94 L685.45,294.94 L683.80,291.94 Z' fill='#12125a'/>
<circle cx='691.68' cy='293.63' r='1.5' fill='#b01238'/>
<path d='M690.03,298.44 L693.33,298.44 L691.68,295.44 Z' fill='#12125a'/>
<circle cx='699.56' cy='300.65' r='1.5' fill='#b01238'/>
<path d='M697.91,309.05 L701.21,309.05 L699.56,306.05 Z' fill='#12125a'/>
<circle cx='707.44' cy='305.91' r='1.5' fill='#b01238'/>
<path d='M705.79,317.20 L709.09,317.20 L707.44,314.20 Z' fill='#12125a'/>
<circle cx='715.32' cy='297.14' r='1.5' fill='#b01238'/>
<path d='M713.67,302.82 L716.97,302.82 L715.32,299.82 Z' fill='#12125a'/>
<circle cx='723.20' cy='326.06' r='1.5' fill='#b01238'/>
<path d='M721.55,326.49 L724.85,326.49 L723.20,323.49 Z' fill='#12125a'/>
<circle cx='731.08' cy='291.88' r='1.5' fill='#b01238'/>
<path d='M729.43,301.95 L732.73,301.95 L731.08,298.95 Z' fill='#12125a'/>
<circle cx='738.96' cy='309.41' r='1.5' fill='#b01238'/>
<path d='M737.31,309.83 L740.61,309.83 L738.96,306.83 Z' fill='#12125a'/>
<circle cx='746.84' cy='329.57' r='1.5' fill='#b01238'/>
<path d='M745.19,302.82 L748.49,302.82 L746.84,299.82 Z' fill='#12125a'/>
<circle cx='754.72' cy='302.40' r='1.5' fill='#b01238'/>
<path d='M753.07,303.70 L756.37,303.70 L754.72,300.70 Z' fill='#12125a'/>
<circle cx='762.60' cy='298.02' r='1.5' fill='#b01238'/>
<path d='M760.95,300.19 L764.25,300.19 L762.60,297.19 Z' fill='#12125a'/>
<circle cx='770.48' cy='312.04' r='1.5' fill='#b01238'/>
<path d='M768.83,308.08 L772.13,308.08 L770.48,305.08 Z' fill='#12125a'/>
<circle cx='778.36' cy='350.60' r='1.5' fill='#b01238'/>
<path d='M776.71,341.39 L780.01,341.39 L778.36,338.39 Z' fill='#12125a'/>
<circle cx='786.24' cy='316.42' r='1.5' fill='#b01238'/>
<path d='M784.59,307.21 L787.89,307.21 L786.24,304.21 Z' fill='#12125a'/>
<circle cx='794.12' cy='298.02' r='1.5' fill='#b01238'/>
<path d='M792.47,304.58 L795.77,304.58 L794.12,301.58 Z' fill='#12125a'/>
<circle cx='802.00' cy='324.31' r='1.5' fill='#b01238'/>
<path d='M800.35,330.87 L803.65,330.87 L802.00,327.87 Z' fill='#12125a'/>
<circle cx='809.88' cy='305.91' r='1.5' fill='#b01238'/>
<path d='M808.23,313.95 L811.53,313.95 L809.88,310.95 Z' fill='#12125a'/>
<circle cx='817.76' cy='312.92' r='1.5' fill='#b01238'/>
<path d='M816.11,306.59 L819.41,306.59 L817.76,303.59 Z' fill='#12125a'/>
<circle cx='825.64' cy='301.52' r='1.5' fill='#b01238'/>
<path d='M823.99,305.45 L827.29,305.45 L825.64,302.45 Z' fill='#12125a'/>
<circle cx='833.52' cy='302.40' r='1.5' fill='#b01238'/>
<path d='M831.87,308.52 L835.17,308.52 L833.52,305.52 Z' fill='#12125a'/>
<circle cx='841.40' cy='301.52' r='1.5' fill='#b01238'/>
<path d='M839.75,310.62 L843.05,310.62 L841.40,307.62 Z' fill='#12125a'/>
<circle cx='849.28' cy='322.56' r='1.5' fill='#b01238'/>
<path d='M847.63,311.59 L850.93,311.59 L849.28,308.59 Z' fill='#12125a'/>
<circle cx='857.16' cy='319.05' r='1.5' fill='#b01238'/>
<path d='M855.51,306.33 L858.81,306.33 L857.16,303.33 Z' fill='#12125a'/>
<circle cx='865.04' cy='330.45' r='1.5' fill='#b01238'/>
<path d='M863.39,315.97 L866.69,315.97 L865.04,312.97 Z' fill='#12125a'/>
<circle cx='872.92' cy='305.03' r='1.5' fill='#b01238'/>
<path d='M871.27,305.45 L874.57,305.45 L872.92,302.45 Z' fill='#12125a'/>
</g>
<rect x='640.20' y='287.50' width='236.30' height='130.70' fill='none' stroke='#a4a4a4' stroke-width='1.05' />
<text x='644.40' y='426.30' font-size='7.0' fill='#262626' text-anchor='middle' stroke='#262626' stroke-width='0.15' textLength='3.60' lengthAdjust='spacingAndGlyphs' >1</text>
<text x='660.16' y='426.30' font-size='7.0' fill='#262626' text-anchor='middle' stroke='#262626' stroke-width='0.15' textLength='3.60' lengthAdjust='spacingAndGlyphs' >3</text>
<text x='675.92' y='426.30' font-size='7.0' fill='#262626' text-anchor='middle' stroke='#262626' stroke-width='0.15' textLength='3.60' lengthAdjust='spacingAndGlyphs' >5</text>
<text x='691.68' y='426.30' font-size='7.0' fill='#262626' text-anchor='middle' stroke='#262626' stroke-width='0.15' textLength='3.60' lengthAdjust='spacingAndGlyphs' >7</text>
<text x='707.44' y='426.30' font-size='7.0' fill='#262626' text-anchor='middle' stroke='#262626' stroke-width='0.15' textLength='3.60' lengthAdjust='spacingAndGlyphs' >9</text>
<text x='723.20' y='426.30' font-size='7.0' fill='#262626' text-anchor='middle' stroke='#262626' stroke-width='0.15' textLength='7.20' lengthAdjust='spacingAndGlyphs' >11</text>
<text x='738.96' y='426.30' font-size='7.0' fill='#262626' text-anchor='middle' stroke='#262626' stroke-width='0.15' textLength='7.20' lengthAdjust='spacingAndGlyphs' >13</text>
<text x='754.72' y='426.30' font-size='7.0' fill='#262626' text-anchor='middle' stroke='#262626' stroke-width='0.15' textLength='7.20' lengthAdjust='spacingAndGlyphs' >15</text>
<text x='770.48' y='426.30' font-size='7.0' fill='#262626' text-anchor='middle' stroke='#262626' stroke-width='0.15' textLength='7.20' lengthAdjust='spacingAndGlyphs' >17</text>
<text x='786.24' y='426.30' font-size='7.0' fill='#262626' text-anchor='middle' stroke='#262626' stroke-width='0.15' textLength='7.20' lengthAdjust='spacingAndGlyphs' >19</text>
<text x='802.00' y='426.30' font-size='7.0' fill='#262626' text-anchor='middle' stroke='#262626' stroke-width='0.15' textLength='7.20' lengthAdjust='spacingAndGlyphs' >21</text>
<text x='817.76' y='426.30' font-size='7.0' fill='#262626' text-anchor='middle' stroke='#262626' stroke-width='0.15' textLength='7.20' lengthAdjust='spacingAndGlyphs' >23</text>
<text x='833.52' y='426.30' font-size='7.0' fill='#262626' text-anchor='middle' stroke='#262626' stroke-width='0.15' textLength='7.20' lengthAdjust='spacingAndGlyphs' >25</text>
<text x='849.28' y='426.30' font-size='7.0' fill='#262626' text-anchor='middle' stroke='#262626' stroke-width='0.15' textLength='7.20' lengthAdjust='spacingAndGlyphs' >27</text>
<text x='865.04' y='426.30' font-size='7.0' fill='#262626' text-anchor='middle' stroke='#262626' stroke-width='0.15' textLength='7.20' lengthAdjust='spacingAndGlyphs' >29</text>
<text x='637.60' y='412.60' font-size='7.0' fill='#262626' text-anchor='end' stroke='#262626' stroke-width='0.15' textLength='14.20' lengthAdjust='spacingAndGlyphs' >0.86</text>
<text x='637.60' y='395.07' font-size='7.0' fill='#262626' text-anchor='end' stroke='#262626' stroke-width='0.15' textLength='14.20' lengthAdjust='spacingAndGlyphs' >0.88</text>
<text x='637.60' y='377.54' font-size='7.0' fill='#262626' text-anchor='end' stroke='#262626' stroke-width='0.15' textLength='14.20' lengthAdjust='spacingAndGlyphs' >0.90</text>
<text x='637.60' y='360.01' font-size='7.0' fill='#262626' text-anchor='end' stroke='#262626' stroke-width='0.15' textLength='14.20' lengthAdjust='spacingAndGlyphs' >0.92</text>
<text x='637.60' y='342.49' font-size='7.0' fill='#262626' text-anchor='end' stroke='#262626' stroke-width='0.15' textLength='14.20' lengthAdjust='spacingAndGlyphs' >0.94</text>
<text x='637.60' y='324.96' font-size='7.0' fill='#262626' text-anchor='end' stroke='#262626' stroke-width='0.15' textLength='14.20' lengthAdjust='spacingAndGlyphs' >0.96</text>
<text x='637.60' y='307.43' font-size='7.0' fill='#262626' text-anchor='end' stroke='#262626' stroke-width='0.15' textLength='14.20' lengthAdjust='spacingAndGlyphs' >0.98</text>
<text x='637.60' y='289.90' font-size='7.0' fill='#262626' text-anchor='end' stroke='#262626' stroke-width='0.15' textLength='14.20' lengthAdjust='spacingAndGlyphs' >1.00</text>
<text x='758.60' y='433.60' font-size='7.2' fill='#262626' text-anchor='middle' stroke='#262626' stroke-width='0.16' textLength='43.00' lengthAdjust='spacingAndGlyphs' >Item on FCI</text>
<text font-size='7.2' fill='#262626' text-anchor='middle' stroke='#262626' stroke-width='0.16' textLength='59.70' lengthAdjust='spacingAndGlyphs' transform='translate(622.20,353.00) rotate(-90)' >IRC Dot Product</text>
<rect x='789.80' y='397.80' width='86.00' height='17.70' fill='#fff' stroke='#d8d8d8' stroke-width='0.5' fill-opacity='0.9' rx='1'/>
<circle cx='795.6' cy='402.7' r='1.2' fill='#a8163a'/>
<text x='806.90' y='404.50' font-size='5.6' fill='#333' text-anchor='start' stroke='#333' stroke-width='0.12' textLength='55.40' lengthAdjust='spacingAndGlyphs' >Pre/Post (N = 9354)</text>
<path d='M794.3,412.2 L796.9,412.2 L795.6,409.8 Z' fill='#14145e'/>
<text x='806.90' y='412.90' font-size='5.6' fill='#333' text-anchor='start' stroke='#333' stroke-width='0.12' textLength='65.00' lengthAdjust='spacingAndGlyphs' >Pre/Post ±2 (N = 2414)</text>
<rect x='58.20' y='533.40' width='232.50' height='142.60' fill='#fff' stroke='none' stroke-width='0' />
<line x1='69.50' y1='533.40' x2='69.50' y2='676.00' stroke='#d4d4d4' stroke-width='0.6' />
<line x1='104.60' y1='533.40' x2='104.60' y2='676.00' stroke='#d4d4d4' stroke-width='0.6' />
<line x1='139.70' y1='533.40' x2='139.70' y2='676.00' stroke='#d4d4d4' stroke-width='0.6' />
<line x1='174.80' y1='533.40' x2='174.80' y2='676.00' stroke='#d4d4d4' stroke-width='0.6' />
<line x1='209.90' y1='533.40' x2='209.90' y2='676.00' stroke='#d4d4d4' stroke-width='0.6' />
<line x1='245.00' y1='533.40' x2='245.00' y2='676.00' stroke='#d4d4d4' stroke-width='0.6' />
<line x1='280.10' y1='533.40' x2='280.10' y2='676.00' stroke='#d4d4d4' stroke-width='0.6' />
<line x1='58.20' y1='641.40' x2='290.70' y2='641.40' stroke='#d4d4d4' stroke-width='0.6' />
<line x1='58.20' y1='605.40' x2='290.70' y2='605.40' stroke='#d4d4d4' stroke-width='0.6' />
<line x1='58.20' y1='569.40' x2='290.70' y2='569.40' stroke='#d4d4d4' stroke-width='0.6' />
<line x1='58.20' y1='533.40' x2='290.70' y2='533.40' stroke='#d4d4d4' stroke-width='0.6' />
<clipPath id='c2'><rect x='58.2' y='530.4' width='232.5' height='145.60000000000002'/></clipPath><g clip-path='url(#c2)'>
<g stroke='#9a5cdc' stroke-width='1.02' fill='none'><path d='M76.52,695.40V713.40M73.82,695.40h5.40M73.82,713.40h5.40'/><path d='M83.54,677.40V706.20M80.84,677.40h5.40M80.84,706.20h5.40'/><path d='M90.56,657.60V690.00M87.86,657.60h5.40M87.86,690.00h5.40'/><path d='M97.58,636.90V680.10M94.88,636.90h5.40M94.88,680.10h5.40'/><path d='M104.60,635.46V664.26M101.90,635.46h5.40M101.90,664.26h5.40'/><path d='M111.62,610.44V641.04M108.92,610.44h5.40M108.92,641.04h5.40'/><path d='M118.64,610.26V639.06M115.94,610.26h5.40M115.94,639.06h5.40'/><path d='M125.66,627.00V652.20M122.96,627.00h5.40M122.96,652.20h5.40'/><path d='M132.68,624.30V649.50M129.98,624.30h5.40M129.98,649.50h5.40'/><path d='M139.70,628.26V653.46M137.00,628.26h5.40M137.00,653.46h5.40'/><path d='M146.72,619.80V641.40M144.02,619.80h5.40M144.02,641.40h5.40'/><path d='M153.74,638.16V659.76M151.04,638.16h5.40M151.04,659.76h5.40'/><path d='M160.76,652.20V670.20M158.06,652.20h5.40M158.06,670.20h5.40'/><path d='M167.78,652.20V670.20M165.08,652.20h5.40M165.08,670.20h5.40'/><path d='M174.80,653.64V669.84M172.10,653.64h5.40M172.10,669.84h5.40'/><path d='M181.82,654.00V670.20M179.12,654.00h5.40M179.12,670.20h5.40'/><path d='M188.84,664.08V678.48M186.14,664.08h5.40M186.14,678.48h5.40'/><path d='M195.86,668.40V682.80M193.16,668.40h5.40M193.16,682.80h5.40'/><path d='M202.88,672.00V686.40M200.18,672.00h5.40M200.18,686.40h5.40'/><path d='M209.90,675.60V690.00M207.20,675.60h5.40M207.20,690.00h5.40'/><path d='M216.92,680.10V692.70M214.22,680.10h5.40M214.22,692.70h5.40'/><path d='M223.94,683.70V696.30M221.24,683.70h5.40M221.24,696.30h5.40'/><path d='M230.96,688.20V699.00M228.26,688.20h5.40M228.26,699.00h5.40'/><path d='M237.98,691.80V702.60M235.28,691.80h5.40M235.28,702.60h5.40'/><path d='M245.00,695.40V706.20M242.30,695.40h5.40M242.30,706.20h5.40'/><path d='M252.02,698.10V707.10M249.32,698.10h5.40M249.32,707.10h5.40'/><path d='M259.04,702.60V709.80M256.34,702.60h5.40M256.34,709.80h5.40'/><path d='M266.06,704.40V711.60M263.36,704.40h5.40M263.36,711.60h5.40'/><path d='M273.08,709.80V713.40M270.38,709.80h5.40M270.38,713.40h5.40'/></g>
<g stroke='#8238d6' stroke-width='1.02' fill='none'><path d='M69.50,624.66V713.40M66.80,624.66h5.40M66.80,713.40h5.40'/><path d='M76.52,599.10V667.50M73.82,599.10h5.40M73.82,667.50h5.40'/><path d='M83.54,601.80V645.00M80.84,601.80h5.40M80.84,645.00h5.40'/><path d='M90.56,594.24V624.84M87.86,594.24h5.40M87.86,624.84h5.40'/><path d='M97.58,577.50V597.30M94.88,577.50h5.40M94.88,597.30h5.40'/><path d='M104.60,573.00V591.00M101.90,573.00h5.40M101.90,591.00h5.40'/><path d='M111.62,569.40V583.80M108.92,569.40h5.40M108.92,583.80h5.40'/><path d='M118.64,563.10V575.70M115.94,563.10h5.40M115.94,575.70h5.40'/><path d='M125.66,567.96V580.56M122.96,567.96h5.40M122.96,580.56h5.40'/><path d='M132.68,567.60V580.20M129.98,567.60h5.40M129.98,580.20h5.40'/><path d='M139.70,570.30V582.90M137.00,570.30h5.40M137.00,582.90h5.40'/><path d='M146.72,581.10V593.70M144.02,581.10h5.40M144.02,593.70h5.40'/><path d='M153.74,584.70V597.30M151.04,584.70h5.40M151.04,597.30h5.40'/><path d='M160.76,592.26V606.66M158.06,592.26h5.40M158.06,606.66h5.40'/><path d='M167.78,591.72V606.12M165.08,591.72h5.40M165.08,606.12h5.40'/><path d='M174.80,611.70V627.90M172.10,611.70h5.40M172.10,627.90h5.40'/><path d='M181.82,604.86V621.06M179.12,604.86h5.40M179.12,621.06h5.40'/><path d='M188.84,618.72V634.92M186.14,618.72h5.40M186.14,634.92h5.40'/><path d='M195.86,619.62V635.82M193.16,619.62h5.40M193.16,635.82h5.40'/><path d='M202.88,626.28V644.28M200.18,626.28h5.40M200.18,644.28h5.40'/><path d='M209.90,629.52V647.52M207.20,629.52h5.40M207.20,647.52h5.40'/><path d='M216.92,638.70V656.70M214.22,638.70h5.40M214.22,656.70h5.40'/><path d='M223.94,644.64V662.64M221.24,644.64h5.40M221.24,662.64h5.40'/><path d='M230.96,649.50V667.50M228.26,649.50h5.40M228.26,667.50h5.40'/><path d='M237.98,659.76V677.76M235.28,659.76h5.40M235.28,677.76h5.40'/><path d='M245.00,669.66V685.86M242.30,669.66h5.40M242.30,685.86h5.40'/><path d='M252.02,677.40V691.80M249.32,677.40h5.40M249.32,691.80h5.40'/><path d='M259.04,684.60V699.00M256.34,684.60h5.40M256.34,699.00h5.40'/><path d='M266.06,693.60V704.40M263.36,693.60h5.40M263.36,704.40h5.40'/><path d='M273.08,704.40V711.60M270.38,704.40h5.40M270.38,711.60h5.40'/></g>
<g stroke='#a8582e' stroke-width='1.02' fill='none'><path d='M90.56,706.20V713.40M87.86,706.20h5.40M87.86,713.40h5.40'/><path d='M97.58,700.80V711.60M94.88,700.80h5.40M94.88,711.60h5.40'/><path d='M104.60,690.00V708.00M101.90,690.00h5.40M101.90,708.00h5.40'/><path d='M111.62,666.60V691.80M108.92,666.60h5.40M108.92,691.80h5.40'/><path d='M118.64,651.30V680.10M115.94,651.30h5.40M115.94,680.10h5.40'/><path d='M125.66,633.66V658.86M122.96,633.66h5.40M122.96,658.86h5.40'/><path d='M132.68,615.30V638.70M129.98,615.30h5.40M129.98,638.70h5.40'/><path d='M139.70,609.18V632.58M137.00,609.18h5.40M137.00,632.58h5.40'/><path d='M146.72,611.16V632.76M144.02,611.16h5.40M144.02,632.76h5.40'/><path d='M153.74,594.78V614.58M151.04,594.78h5.40M151.04,614.58h5.40'/><path d='M160.76,582.00V600.00M158.06,582.00h5.40M158.06,600.00h5.40'/><path d='M167.78,582.18V598.38M165.08,582.18h5.40M165.08,598.38h5.40'/><path d='M174.80,580.56V596.76M172.10,580.56h5.40M172.10,596.76h5.40'/><path d='M181.82,578.94V595.14M179.12,578.94h5.40M179.12,595.14h5.40'/><path d='M188.84,566.34V580.74M186.14,566.34h5.40M186.14,580.74h5.40'/><path d='M195.86,562.56V576.96M193.16,562.56h5.40M193.16,576.96h5.40'/><path d='M202.88,562.56V576.96M200.18,562.56h5.40M200.18,576.96h5.40'/><path d='M209.90,560.58V574.98M207.20,560.58h5.40M207.20,574.98h5.40'/><path d='M216.92,555.90V568.50M214.22,555.90h5.40M214.22,568.50h5.40'/><path d='M223.94,557.16V569.76M221.24,557.16h5.40M221.24,569.76h5.40'/><path d='M230.96,551.76V564.36M228.26,551.76h5.40M228.26,564.36h5.40'/><path d='M237.98,545.64V556.44M235.28,545.64h5.40M235.28,556.44h5.40'/><path d='M245.00,551.04V561.84M242.30,551.04h5.40M242.30,561.84h5.40'/><path d='M252.02,544.20V555.00M249.32,544.20h5.40M249.32,555.00h5.40'/><path d='M259.04,539.70V548.70M256.34,539.70h5.40M256.34,548.70h5.40'/><path d='M266.06,534.12V541.32M263.36,534.12h5.40M263.36,541.32h5.40'/><path d='M273.08,533.40V534.30M270.38,533.40h5.40M270.38,534.30h5.40'/></g>
<g stroke='#a8402c' stroke-width='1.02' fill='none'><path d='M90.56,709.80V713.40M87.86,709.80h5.40M87.86,713.40h5.40'/><path d='M97.58,707.10V712.50M94.88,707.10h5.40M94.88,712.50h5.40'/><path d='M104.60,704.40V711.60M101.90,704.40h5.40M101.90,711.60h5.40'/><path d='M111.62,700.80V708.00M108.92,700.80h5.40M108.92,708.00h5.40'/><path d='M118.64,694.50V703.50M115.94,694.50h5.40M115.94,703.50h5.40'/><path d='M125.66,686.40V697.20M122.96,686.40h5.40M122.96,697.20h5.40'/><path d='M132.68,677.40V688.20M129.98,677.40h5.40M129.98,688.20h5.40'/><path d='M139.70,668.40V679.20M137.00,668.40h5.40M137.00,679.20h5.40'/><path d='M146.72,659.40V670.20M144.02,659.40h5.40M144.02,670.20h5.40'/><path d='M153.74,654.00V666.60M151.04,654.00h5.40M151.04,666.60h5.40'/><path d='M160.76,641.40V655.80M158.06,641.40h5.40M158.06,655.80h5.40'/><path d='M167.78,641.22V655.62M165.08,641.22h5.40M165.08,655.62h5.40'/><path d='M174.80,619.80V636.00M172.10,619.80h5.40M172.10,636.00h5.40'/><path d='M181.82,626.46V644.46M179.12,626.46h5.40M179.12,644.46h5.40'/><path d='M188.84,612.06V631.86M186.14,612.06h5.40M186.14,631.86h5.40'/><path d='M195.86,611.88V629.88M193.16,611.88h5.40M193.16,629.88h5.40'/><path d='M202.88,600.54V623.94M200.18,600.54h5.40M200.18,623.94h5.40'/><path d='M209.90,598.02V621.42M207.20,598.02h5.40M207.20,621.42h5.40'/><path d='M216.92,585.24V610.44M214.22,585.24h5.40M214.22,610.44h5.40'/><path d='M223.94,581.46V606.66M221.24,581.46h5.40M221.24,606.66h5.40'/><path d='M230.96,574.44V599.64M228.26,574.44h5.40M228.26,599.64h5.40'/><path d='M237.98,566.70V590.10M235.28,566.70h5.40M235.28,590.10h5.40'/><path d='M245.00,555.18V576.78M242.30,555.18h5.40M242.30,576.78h5.40'/><path d='M252.02,548.52V577.32M249.32,548.52h5.40M249.32,577.32h5.40'/><path d='M259.04,543.84V563.64M256.34,543.84h5.40M256.34,563.64h5.40'/><path d='M266.06,535.38V551.58M263.36,535.38h5.40M263.36,551.58h5.40'/><path d='M273.08,533.40V535.56M270.38,533.40h5.40M270.38,535.56h5.40'/></g>
<polyline points='69.50,612.60 73.01,637.80 76.52,654.90 80.73,665.70 84.94,675.60 90.56,691.80 97.58,702.60' fill='none' stroke='#111' stroke-width='1.25' stroke-linejoin='round'/>
<polyline points='69.50,575.88 76.52,587.76 83.54,605.40 87.05,633.30 90.56,641.94 97.58,659.40 101.09,675.60 104.60,688.20 111.62,699.00 118.64,706.20' fill='none' stroke='#111' stroke-width='1.3' stroke-dasharray='3 1.6' stroke-linejoin='round'/>
<polyline points='69.50,695.40 76.52,688.20 83.54,681.00 90.56,673.80 97.58,668.40 104.60,675.60 111.62,684.60' fill='none' stroke='#1c1c8c' stroke-width='1.1' stroke-linejoin='round'/>
<polyline points='69.50,668.40 76.52,661.56 83.54,651.84 90.56,642.66 97.58,655.08 101.09,666.60 104.60,660.48 108.11,675.60 111.62,682.80 118.64,691.80' fill='none' stroke='#1c1c8c' stroke-width='1.2' stroke-dasharray='3.6 1.8' stroke-linejoin='round'/>
<polyline points='69.50,713.40 76.52,704.40 83.54,691.80 90.56,673.80 97.58,658.50 104.60,649.86 111.62,625.74 118.64,624.66 125.66,639.60 132.68,636.90 139.70,640.86 146.72,630.60 153.74,648.96 160.76,661.20 167.78,661.20 174.80,661.74 181.82,662.10 188.84,671.28 195.86,675.60 202.88,679.20 209.90,682.80 216.92,686.40 223.94,690.00 230.96,693.60 237.98,697.20 245.00,700.80 252.02,702.60 259.04,706.20 266.06,708.00 273.08,711.60 280.10,713.40' fill='none' stroke='#7b20d4' stroke-width='1.25' stroke-dasharray='4 2' stroke-linejoin='round'/>
<path d='M67.40,715.18h4.20L69.50,711.09Z' fill='#7b20d4'/><path d='M74.42,706.18h4.20L76.52,702.09Z' fill='#7b20d4'/><path d='M81.44,693.58h4.20L83.54,689.49Z' fill='#7b20d4'/><path d='M88.46,675.58h4.20L90.56,671.49Z' fill='#7b20d4'/><path d='M95.48,660.28h4.20L97.58,656.19Z' fill='#7b20d4'/><path d='M102.50,651.64h4.20L104.60,647.55Z' fill='#7b20d4'/><path d='M109.52,627.52h4.20L111.62,623.43Z' fill='#7b20d4'/><path d='M116.54,626.44h4.20L118.64,622.35Z' fill='#7b20d4'/><path d='M123.56,641.38h4.20L125.66,637.29Z' fill='#7b20d4'/><path d='M130.58,638.68h4.20L132.68,634.59Z' fill='#7b20d4'/><path d='M137.60,642.64h4.20L139.70,638.55Z' fill='#7b20d4'/><path d='M144.62,632.38h4.20L146.72,628.29Z' fill='#7b20d4'/><path d='M151.64,650.75h4.20L153.74,646.65Z' fill='#7b20d4'/><path d='M158.66,662.98h4.20L160.76,658.89Z' fill='#7b20d4'/><path d='M165.68,662.98h4.20L167.78,658.89Z' fill='#7b20d4'/><path d='M172.70,663.52h4.20L174.80,659.43Z' fill='#7b20d4'/><path d='M179.72,663.88h4.20L181.82,659.79Z' fill='#7b20d4'/><path d='M186.74,673.06h4.20L188.84,668.97Z' fill='#7b20d4'/><path d='M193.76,677.38h4.20L195.86,673.29Z' fill='#7b20d4'/><path d='M200.78,680.99h4.20L202.88,676.89Z' fill='#7b20d4'/><path d='M207.80,684.58h4.20L209.90,680.49Z' fill='#7b20d4'/><path d='M214.82,688.18h4.20L216.92,684.09Z' fill='#7b20d4'/><path d='M221.84,691.78h4.20L223.94,687.69Z' fill='#7b20d4'/><path d='M228.86,695.38h4.20L230.96,691.29Z' fill='#7b20d4'/><path d='M235.88,698.99h4.20L237.98,694.89Z' fill='#7b20d4'/><path d='M242.90,702.58h4.20L245.00,698.49Z' fill='#7b20d4'/><path d='M249.92,704.38h4.20L252.02,700.29Z' fill='#7b20d4'/><path d='M256.94,707.99h4.20L259.04,703.89Z' fill='#7b20d4'/><path d='M263.96,709.78h4.20L266.06,705.69Z' fill='#7b20d4'/><path d='M270.98,713.38h4.20L273.08,709.29Z' fill='#7b20d4'/><path d='M278.00,715.18h4.20L280.10,711.09Z' fill='#7b20d4'/>
<polyline points='69.50,673.26 76.52,633.30 83.54,623.40 90.56,609.54 97.58,587.40 104.60,582.00 111.62,576.60 118.64,569.40 125.66,574.26 132.68,573.90 139.70,576.60 146.72,587.40 153.74,591.00 160.76,599.46 167.78,598.92 174.80,619.80 181.82,612.96 188.84,626.82 195.86,627.72 202.88,635.28 209.90,638.52 216.92,647.70 223.94,653.64 230.96,658.50 237.98,668.76 245.00,677.76 252.02,684.60 259.04,691.80 266.06,699.00 273.08,708.00 280.10,713.40' fill='none' stroke='#7b20d4' stroke-width='1.25' stroke-linejoin='round'/>
<circle cx='69.50' cy='673.26' r='2.0' fill='#7b20d4'/><circle cx='76.52' cy='633.30' r='2.0' fill='#7b20d4'/><circle cx='83.54' cy='623.40' r='2.0' fill='#7b20d4'/><circle cx='90.56' cy='609.54' r='2.0' fill='#7b20d4'/><circle cx='97.58' cy='587.40' r='2.0' fill='#7b20d4'/><circle cx='104.60' cy='582.00' r='2.0' fill='#7b20d4'/><circle cx='111.62' cy='576.60' r='2.0' fill='#7b20d4'/><circle cx='118.64' cy='569.40' r='2.0' fill='#7b20d4'/><circle cx='125.66' cy='574.26' r='2.0' fill='#7b20d4'/><circle cx='132.68' cy='573.90' r='2.0' fill='#7b20d4'/><circle cx='139.70' cy='576.60' r='2.0' fill='#7b20d4'/><circle cx='146.72' cy='587.40' r='2.0' fill='#7b20d4'/><circle cx='153.74' cy='591.00' r='2.0' fill='#7b20d4'/><circle cx='160.76' cy='599.46' r='2.0' fill='#7b20d4'/><circle cx='167.78' cy='598.92' r='2.0' fill='#7b20d4'/><circle cx='174.80' cy='619.80' r='2.0' fill='#7b20d4'/><circle cx='181.82' cy='612.96' r='2.0' fill='#7b20d4'/><circle cx='188.84' cy='626.82' r='2.0' fill='#7b20d4'/><circle cx='195.86' cy='627.72' r='2.0' fill='#7b20d4'/><circle cx='202.88' cy='635.28' r='2.0' fill='#7b20d4'/><circle cx='209.90' cy='638.52' r='2.0' fill='#7b20d4'/><circle cx='216.92' cy='647.70' r='2.0' fill='#7b20d4'/><circle cx='223.94' cy='653.64' r='2.0' fill='#7b20d4'/><circle cx='230.96' cy='658.50' r='2.0' fill='#7b20d4'/><circle cx='237.98' cy='668.76' r='2.0' fill='#7b20d4'/><circle cx='245.00' cy='677.76' r='2.0' fill='#7b20d4'/><circle cx='252.02' cy='684.60' r='2.0' fill='#7b20d4'/><circle cx='259.04' cy='691.80' r='2.0' fill='#7b20d4'/><circle cx='266.06' cy='699.00' r='2.0' fill='#7b20d4'/><circle cx='273.08' cy='708.00' r='2.0' fill='#7b20d4'/><circle cx='280.10' cy='713.40' r='2.0' fill='#7b20d4'/>
<polyline points='69.50,713.40 76.52,713.40 83.54,713.40 90.56,709.80 97.58,706.20 104.60,699.00 111.62,679.20 118.64,665.70 125.66,646.26 132.68,627.00 139.70,620.88 146.72,621.96 153.74,604.68 160.76,591.00 167.78,590.28 174.80,588.66 181.82,587.04 188.84,573.54 195.86,569.76 202.88,569.76 209.90,567.78 216.92,562.20 223.94,563.46 230.96,558.06 237.98,551.04 245.00,556.44 252.02,549.60 259.04,544.20 266.06,537.72 273.08,533.40 280.10,533.40' fill='none' stroke='#c41c1c' stroke-width='1.25' stroke-dasharray='4 2' stroke-linejoin='round'/>
<path d='M67.40,715.18h4.20L69.50,711.09Z' fill='#c41c1c'/><path d='M74.42,715.18h4.20L76.52,711.09Z' fill='#c41c1c'/><path d='M81.44,715.18h4.20L83.54,711.09Z' fill='#c41c1c'/><path d='M88.46,711.58h4.20L90.56,707.49Z' fill='#c41c1c'/><path d='M95.48,707.99h4.20L97.58,703.89Z' fill='#c41c1c'/><path d='M102.50,700.78h4.20L104.60,696.69Z' fill='#c41c1c'/><path d='M109.52,680.99h4.20L111.62,676.89Z' fill='#c41c1c'/><path d='M116.54,667.49h4.20L118.64,663.39Z' fill='#c41c1c'/><path d='M123.56,648.04h4.20L125.66,643.95Z' fill='#c41c1c'/><path d='M130.58,628.78h4.20L132.68,624.69Z' fill='#c41c1c'/><path d='M137.60,622.66h4.20L139.70,618.57Z' fill='#c41c1c'/><path d='M144.62,623.75h4.20L146.72,619.65Z' fill='#c41c1c'/><path d='M151.64,606.46h4.20L153.74,602.37Z' fill='#c41c1c'/><path d='M158.66,592.78h4.20L160.76,588.69Z' fill='#c41c1c'/><path d='M165.68,592.06h4.20L167.78,587.97Z' fill='#c41c1c'/><path d='M172.70,590.44h4.20L174.80,586.35Z' fill='#c41c1c'/><path d='M179.72,588.82h4.20L181.82,584.73Z' fill='#c41c1c'/><path d='M186.74,575.32h4.20L188.84,571.23Z' fill='#c41c1c'/><path d='M193.76,571.54h4.20L195.86,567.45Z' fill='#c41c1c'/><path d='M200.78,571.54h4.20L202.88,567.45Z' fill='#c41c1c'/><path d='M207.80,569.56h4.20L209.90,565.47Z' fill='#c41c1c'/><path d='M214.82,563.98h4.20L216.92,559.89Z' fill='#c41c1c'/><path d='M221.84,565.25h4.20L223.94,561.15Z' fill='#c41c1c'/><path d='M228.86,559.84h4.20L230.96,555.75Z' fill='#c41c1c'/><path d='M235.88,552.82h4.20L237.98,548.73Z' fill='#c41c1c'/><path d='M242.90,558.22h4.20L245.00,554.13Z' fill='#c41c1c'/><path d='M249.92,551.38h4.20L252.02,547.29Z' fill='#c41c1c'/><path d='M256.94,545.98h4.20L259.04,541.89Z' fill='#c41c1c'/><path d='M263.96,539.50h4.20L266.06,535.41Z' fill='#c41c1c'/><path d='M270.98,535.18h4.20L273.08,531.09Z' fill='#c41c1c'/><path d='M278.00,535.18h4.20L280.10,531.09Z' fill='#c41c1c'/>
<polyline points='69.50,713.40 76.52,713.40 83.54,713.40 90.56,711.60 97.58,709.80 104.60,708.00 111.62,704.40 118.64,699.00 125.66,691.80 132.68,682.80 139.70,673.80 146.72,664.80 153.74,660.30 160.76,648.60 167.78,648.42 174.80,627.90 181.82,635.46 188.84,621.96 195.86,620.88 202.88,612.24 209.90,609.72 216.92,597.84 223.94,594.06 230.96,587.04 237.98,578.40 245.00,565.98 252.02,562.92 259.04,553.74 266.06,543.48 273.08,533.76 280.10,533.40' fill='none' stroke='#d61c1c' stroke-width='1.25' stroke-linejoin='round'/>
<circle cx='69.50' cy='713.40' r='2.0' fill='#d61c1c'/><circle cx='76.52' cy='713.40' r='2.0' fill='#d61c1c'/><circle cx='83.54' cy='713.40' r='2.0' fill='#d61c1c'/><circle cx='90.56' cy='711.60' r='2.0' fill='#d61c1c'/><circle cx='97.58' cy='709.80' r='2.0' fill='#d61c1c'/><circle cx='104.60' cy='708.00' r='2.0' fill='#d61c1c'/><circle cx='111.62' cy='704.40' r='2.0' fill='#d61c1c'/><circle cx='118.64' cy='699.00' r='2.0' fill='#d61c1c'/><circle cx='125.66' cy='691.80' r='2.0' fill='#d61c1c'/><circle cx='132.68' cy='682.80' r='2.0' fill='#d61c1c'/><circle cx='139.70' cy='673.80' r='2.0' fill='#d61c1c'/><circle cx='146.72' cy='664.80' r='2.0' fill='#d61c1c'/><circle cx='153.74' cy='660.30' r='2.0' fill='#d61c1c'/><circle cx='160.76' cy='648.60' r='2.0' fill='#d61c1c'/><circle cx='167.78' cy='648.42' r='2.0' fill='#d61c1c'/><circle cx='174.80' cy='627.90' r='2.0' fill='#d61c1c'/><circle cx='181.82' cy='635.46' r='2.0' fill='#d61c1c'/><circle cx='188.84' cy='621.96' r='2.0' fill='#d61c1c'/><circle cx='195.86' cy='620.88' r='2.0' fill='#d61c1c'/><circle cx='202.88' cy='612.24' r='2.0' fill='#d61c1c'/><circle cx='209.90' cy='609.72' r='2.0' fill='#d61c1c'/><circle cx='216.92' cy='597.84' r='2.0' fill='#d61c1c'/><circle cx='223.94' cy='594.06' r='2.0' fill='#d61c1c'/><circle cx='230.96' cy='587.04' r='2.0' fill='#d61c1c'/><circle cx='237.98' cy='578.40' r='2.0' fill='#d61c1c'/><circle cx='245.00' cy='565.98' r='2.0' fill='#d61c1c'/><circle cx='252.02' cy='562.92' r='2.0' fill='#d61c1c'/><circle cx='259.04' cy='553.74' r='2.0' fill='#d61c1c'/><circle cx='266.06' cy='543.48' r='2.0' fill='#d61c1c'/><circle cx='273.08' cy='533.76' r='2.0' fill='#d61c1c'/><circle cx='280.10' cy='533.40' r='2.0' fill='#d61c1c'/>
</g>
<path d='M58.2,676V533.4H290.7V676' fill='none' stroke='#a4a4a4' stroke-width='1.05'/>
<text x='174.60' y='529.80' font-size='9.9' fill='#111' text-anchor='middle' stroke='#111' stroke-width='0.22' textLength='133.30' lengthAdjust='spacingAndGlyphs' >IRCs for Item 4 on the FCI</text>
<text x='55.60' y='536.50' font-size='9.2' fill='#262626' text-anchor='end' stroke='#262626' stroke-width='0.20' textLength='13.80' lengthAdjust='spacingAndGlyphs' >100</text>
<text x='55.60' y='572.50' font-size='9.2' fill='#262626' text-anchor='end' stroke='#262626' stroke-width='0.20' textLength='9.20' lengthAdjust='spacingAndGlyphs' >80</text>
<text x='55.60' y='608.50' font-size='9.2' fill='#262626' text-anchor='end' stroke='#262626' stroke-width='0.20' textLength='9.20' lengthAdjust='spacingAndGlyphs' >60</text>
<text x='55.60' y='644.50' font-size='9.2' fill='#262626' text-anchor='end' stroke='#262626' stroke-width='0.20' textLength='9.20' lengthAdjust='spacingAndGlyphs' >40</text>
<text font-size='8.8' fill='#262626' text-anchor='middle' stroke='#262626' stroke-width='0.19' textLength='45.70' lengthAdjust='spacingAndGlyphs' transform='translate(38.00,623.80) rotate(-90)' >Percentage</text>
<rect x='248.40' y='578.30' width='40.20' height='90.00' fill='#fff' stroke='#d8d8d8' stroke-width='0.5' fill-opacity='0.85' rx='1'/>
<line x1='251.20' y1='582.60' x2='261.40' y2='582.60' stroke='#7b20d4' stroke-width='0.9'/>
<circle cx='256.30' cy='582.60' r='1.6' fill='#7b20d4'/>
<text x='265.60' y='584.48' font-size='5.7' fill='#333' text-anchor='start' stroke='#333' stroke-width='0.13' textLength='14.14' lengthAdjust='spacingAndGlyphs' >A Pre</text>
<line x1='251.20' y1='589.90' x2='261.40' y2='589.90' stroke='#7b20d4' stroke-width='0.9' stroke-dasharray='2 1'/>
<path d='M254.70,591.26h3.20L256.30,588.14Z' fill='#7b20d4'/>
<text x='265.60' y='591.78' font-size='5.7' fill='#333' text-anchor='start' stroke='#333' stroke-width='0.13' textLength='16.97' lengthAdjust='spacingAndGlyphs' >A Post</text>
<line x1='251.20' y1='597.20' x2='261.40' y2='597.20' stroke='#1c1c8c' stroke-width='0.9'/>
<text x='265.60' y='599.08' font-size='5.7' fill='#333' text-anchor='start' stroke='#333' stroke-width='0.13' textLength='14.14' lengthAdjust='spacingAndGlyphs' >B Pre</text>
<line x1='251.20' y1='604.50' x2='261.40' y2='604.50' stroke='#1c1c8c' stroke-width='0.9' stroke-dasharray='2 1'/>
<text x='265.60' y='606.38' font-size='5.7' fill='#333' text-anchor='start' stroke='#333' stroke-width='0.13' textLength='16.97' lengthAdjust='spacingAndGlyphs' >B Post</text>
<line x1='251.20' y1='611.80' x2='261.40' y2='611.80' stroke='#555' stroke-width='0.9'/>
<text x='265.60' y='613.68' font-size='5.7' fill='#333' text-anchor='start' stroke='#333' stroke-width='0.13' textLength='14.14' lengthAdjust='spacingAndGlyphs' >C Pre</text>
<line x1='251.20' y1='619.10' x2='261.40' y2='619.10' stroke='#444' stroke-width='0.9' stroke-dasharray='2 1'/>
<text x='265.60' y='620.98' font-size='5.7' fill='#333' text-anchor='start' stroke='#333' stroke-width='0.13' textLength='16.97' lengthAdjust='spacingAndGlyphs' >C Post</text>
<line x1='251.20' y1='626.40' x2='261.40' y2='626.40' stroke='#e0a020' stroke-width='0.9'/>
<text x='265.60' y='628.28' font-size='5.7' fill='#333' text-anchor='start' stroke='#333' stroke-width='0.13' textLength='14.14' lengthAdjust='spacingAndGlyphs' >D Pre</text>
<line x1='251.20' y1='633.70' x2='261.40' y2='633.70' stroke='#e0a020' stroke-width='0.9' stroke-dasharray='2 1'/>
<text x='265.60' y='635.58' font-size='5.7' fill='#333' text-anchor='start' stroke='#333' stroke-width='0.13' textLength='16.97' lengthAdjust='spacingAndGlyphs' >D Post</text>
<line x1='251.20' y1='641.00' x2='261.40' y2='641.00' stroke='#d61c1c' stroke-width='0.9'/>
<circle cx='256.30' cy='641.00' r='1.6' fill='#d61c1c'/>
<text x='265.60' y='642.88' font-size='5.7' fill='#333' text-anchor='start' stroke='#333' stroke-width='0.13' textLength='14.14' lengthAdjust='spacingAndGlyphs' >E Pre</text>
<line x1='251.20' y1='648.30' x2='261.40' y2='648.30' stroke='#d61c1c' stroke-width='0.9' stroke-dasharray='2 1'/>
<path d='M254.70,649.66h3.20L256.30,646.54Z' fill='#d61c1c'/>
<text x='265.60' y='650.18' font-size='5.7' fill='#333' text-anchor='start' stroke='#333' stroke-width='0.13' textLength='16.97' lengthAdjust='spacingAndGlyphs' >E Post</text>
<line x1='251.20' y1='655.60' x2='261.40' y2='655.60' stroke='#111' stroke-width='0.9'/>
<text x='265.60' y='657.48' font-size='5.7' fill='#333' text-anchor='start' stroke='#333' stroke-width='0.13' textLength='16.97' lengthAdjust='spacingAndGlyphs' >NR Pre</text>
<line x1='251.20' y1='662.90' x2='261.40' y2='662.90' stroke='#111' stroke-width='0.9' stroke-dasharray='2 1'/>
<text x='265.60' y='664.78' font-size='5.7' fill='#333' text-anchor='start' stroke='#333' stroke-width='0.13' textLength='19.80' lengthAdjust='spacingAndGlyphs' >NR Post</text>
<rect x='957.70' y='264.20' width='184.90' height='144.00' fill='#fff' stroke='none' stroke-width='0' />
<line x1='966.10' y1='264.20' x2='966.10' y2='408.20' stroke='#d4d4d4' stroke-width='0.6' />
<line x1='994.10' y1='264.20' x2='994.10' y2='408.20' stroke='#d4d4d4' stroke-width='0.6' />
<line x1='1022.10' y1='264.20' x2='1022.10' y2='408.20' stroke='#d4d4d4' stroke-width='0.6' />
<line x1='1050.10' y1='264.20' x2='1050.10' y2='408.20' stroke='#d4d4d4' stroke-width='0.6' />
<line x1='1078.10' y1='264.20' x2='1078.10' y2='408.20' stroke='#d4d4d4' stroke-width='0.6' />
<line x1='1106.10' y1='264.20' x2='1106.10' y2='408.20' stroke='#d4d4d4' stroke-width='0.6' />
<line x1='1134.10' y1='264.20' x2='1134.10' y2='408.20' stroke='#d4d4d4' stroke-width='0.6' />
<line x1='957.70' y1='408.20' x2='1142.60' y2='408.20' stroke='#d4d4d4' stroke-width='0.6' />
<line x1='957.70' y1='379.40' x2='1142.60' y2='379.40' stroke='#d4d4d4' stroke-width='0.6' />
<line x1='957.70' y1='350.60' x2='1142.60' y2='350.60' stroke='#d4d4d4' stroke-width='0.6' />
<line x1='957.70' y1='321.80' x2='1142.60' y2='321.80' stroke='#d4d4d4' stroke-width='0.6' />
<line x1='957.70' y1='293.00' x2='1142.60' y2='293.00' stroke='#d4d4d4' stroke-width='0.6' />
<line x1='957.70' y1='264.20' x2='1142.60' y2='264.20' stroke='#d4d4d4' stroke-width='0.6' />
<clipPath id='c4'><rect x='957.7' y='261.2' width='184.89999999999986' height='147.0'/></clipPath><g clip-path='url(#c4)'>
<g stroke='#a470dc' stroke-width='0.82' fill='none'><path d='M977.30,393.80V408.20M975.20,393.80h4.20M975.20,408.20h4.20'/><path d='M982.90,373.64V399.56M980.80,373.64h4.20M980.80,399.56h4.20'/><path d='M988.50,350.60V379.40M986.40,350.60h4.20M986.40,379.40h4.20'/><path d='M994.10,339.08V365.00M992.00,339.08h4.20M992.00,365.00h4.20'/><path d='M999.70,326.12V349.16M997.60,326.12h4.20M997.60,349.16h4.20'/><path d='M1005.30,326.84V349.88M1003.20,326.84h4.20M1003.20,349.88h4.20'/><path d='M1010.90,334.76V357.80M1008.80,334.76h4.20M1008.80,357.80h4.20'/><path d='M1016.50,336.20V359.24M1014.40,336.20h4.20M1014.40,359.24h4.20'/><path d='M1022.10,324.68V347.72M1020.00,324.68h4.20M1020.00,347.72h4.20'/><path d='M1027.70,329.00V352.04M1025.60,329.00h4.20M1025.60,352.04h4.20'/><path d='M1033.30,347.00V370.04M1031.20,347.00h4.20M1031.20,370.04h4.20'/><path d='M1038.90,354.92V377.96M1036.80,354.92h4.20M1036.80,377.96h4.20'/><path d='M1044.50,354.92V377.96M1042.40,354.92h4.20M1042.40,377.96h4.20'/><path d='M1050.10,357.08V380.12M1048.00,357.08h4.20M1048.00,380.12h4.20'/><path d='M1055.70,357.80V380.84M1053.60,357.80h4.20M1053.60,380.84h4.20'/><path d='M1061.30,365.00V388.04M1059.20,365.00h4.20M1059.20,388.04h4.20'/><path d='M1066.90,367.16V390.20M1064.80,367.16h4.20M1064.80,390.20h4.20'/><path d='M1072.50,369.32V392.36M1070.40,369.32h4.20M1070.40,392.36h4.20'/><path d='M1078.10,362.12V385.16M1076.00,362.12h4.20M1076.00,385.16h4.20'/><path d='M1083.70,375.08V395.24M1081.60,375.08h4.20M1081.60,395.24h4.20'/><path d='M1089.30,373.64V393.80M1087.20,373.64h4.20M1087.20,393.80h4.20'/><path d='M1094.90,375.08V395.24M1092.80,375.08h4.20M1092.80,395.24h4.20'/><path d='M1100.50,388.04V402.44M1098.40,388.04h4.20M1098.40,402.44h4.20'/><path d='M1106.10,393.08V404.60M1104.00,393.08h4.20M1104.00,404.60h4.20'/><path d='M1111.70,391.64V403.16M1109.60,391.64h4.20M1109.60,403.16h4.20'/><path d='M1117.30,398.12V406.76M1115.20,398.12h4.20M1115.20,406.76h4.20'/><path d='M1122.90,401.00V406.76M1120.80,401.00h4.20M1120.80,406.76h4.20'/><path d='M1128.50,406.76V408.20M1126.40,406.76h4.20M1126.40,408.20h4.20'/></g>
<g stroke='#8238d6' stroke-width='0.82' fill='none'><path d='M977.30,379.40V408.20M975.20,379.40h4.20M975.20,408.20h4.20'/><path d='M982.90,362.12V396.68M980.80,362.12h4.20M980.80,396.68h4.20'/><path d='M988.50,330.44V365.00M986.40,330.44h4.20M986.40,365.00h4.20'/><path d='M994.10,316.04V341.96M992.00,316.04h4.20M992.00,341.96h4.20'/><path d='M999.70,305.24V331.16M997.60,305.24h4.20M997.60,331.16h4.20'/><path d='M1005.30,289.40V311.00M1003.20,289.40h4.20M1003.20,311.00h4.20'/><path d='M1010.90,295.88V318.92M1008.80,295.88h4.20M1008.80,318.92h4.20'/><path d='M1016.50,293.72V316.76M1014.40,293.72h4.20M1014.40,316.76h4.20'/><path d='M1022.10,307.40V330.44M1020.00,307.40h4.20M1020.00,330.44h4.20'/><path d='M1027.70,313.88V336.92M1025.60,313.88h4.20M1025.60,336.92h4.20'/><path d='M1033.30,319.64V342.68M1031.20,319.64h4.20M1031.20,342.68h4.20'/><path d='M1038.90,309.56V334.04M1036.80,309.56h4.20M1036.80,334.04h4.20'/><path d='M1044.50,321.80V347.72M1042.40,321.80h4.20M1042.40,347.72h4.20'/><path d='M1050.10,341.96V367.88M1048.00,341.96h4.20M1048.00,367.88h4.20'/><path d='M1055.70,329.00V354.92M1053.60,329.00h4.20M1053.60,354.92h4.20'/><path d='M1061.30,349.16V375.08M1059.20,349.16h4.20M1059.20,375.08h4.20'/><path d='M1066.90,334.76V360.68M1064.80,334.76h4.20M1064.80,360.68h4.20'/><path d='M1072.50,347.72V373.64M1070.40,347.72h4.20M1070.40,373.64h4.20'/><path d='M1078.10,350.60V376.52M1076.00,350.60h4.20M1076.00,376.52h4.20'/><path d='M1083.70,359.24V382.28M1081.60,359.24h4.20M1081.60,382.28h4.20'/><path d='M1089.30,343.40V375.08M1087.20,343.40h4.20M1087.20,375.08h4.20'/><path d='M1094.90,365.00V388.04M1092.80,365.00h4.20M1092.80,388.04h4.20'/><path d='M1100.50,373.64V393.80M1098.40,373.64h4.20M1098.40,393.80h4.20'/><path d='M1106.10,379.40V396.68M1104.00,379.40h4.20M1104.00,396.68h4.20'/><path d='M1111.70,380.84V398.12M1109.60,380.84h4.20M1109.60,398.12h4.20'/><path d='M1117.30,385.16V399.56M1115.20,385.16h4.20M1115.20,399.56h4.20'/><path d='M1122.90,393.80V405.32M1120.80,393.80h4.20M1120.80,405.32h4.20'/><path d='M1128.50,406.76V408.20M1126.40,406.76h4.20M1126.40,408.20h4.20'/></g>
<g stroke='#aa7436' stroke-width='0.82' fill='none'><path d='M982.90,405.32V408.20M980.80,405.32h4.20M980.80,408.20h4.20'/><path d='M988.50,398.12V406.76M986.40,398.12h4.20M986.40,406.76h4.20'/><path d='M994.10,386.60V401.00M992.00,386.60h4.20M992.00,401.00h4.20'/><path d='M999.70,379.40V396.68M997.60,379.40h4.20M997.60,396.68h4.20'/><path d='M1005.30,362.12V385.16M1003.20,362.12h4.20M1003.20,385.16h4.20'/><path d='M1010.90,346.28V369.32M1008.80,346.28h4.20M1008.80,369.32h4.20'/><path d='M1016.50,333.32V356.36M1014.40,333.32h4.20M1014.40,356.36h4.20'/><path d='M1022.10,323.96V347.00M1020.00,323.96h4.20M1020.00,347.00h4.20'/><path d='M1027.70,327.56V350.60M1025.60,327.56h4.20M1025.60,350.60h4.20'/><path d='M1033.30,307.40V330.44M1031.20,307.40h4.20M1031.20,330.44h4.20'/><path d='M1038.90,298.04V323.96M1036.80,298.04h4.20M1036.80,323.96h4.20'/><path d='M1044.50,297.32V323.24M1042.40,297.32h4.20M1042.40,323.24h4.20'/><path d='M1050.10,297.32V323.24M1048.00,297.32h4.20M1048.00,323.24h4.20'/><path d='M1055.70,294.44V320.36M1053.60,294.44h4.20M1053.60,320.36h4.20'/><path d='M1061.30,285.08V311.00M1059.20,285.08h4.20M1059.20,311.00h4.20'/><path d='M1066.90,281.48V307.40M1064.80,281.48h4.20M1064.80,307.40h4.20'/><path d='M1072.50,277.16V305.96M1070.40,277.16h4.20M1070.40,305.96h4.20'/><path d='M1078.10,289.40V315.32M1076.00,289.40h4.20M1076.00,315.32h4.20'/><path d='M1083.70,275.72V307.40M1081.60,275.72h4.20M1081.60,307.40h4.20'/><path d='M1089.30,277.88V306.68M1087.20,277.88h4.20M1087.20,306.68h4.20'/><path d='M1094.90,275.72V301.64M1092.80,275.72h4.20M1092.80,301.64h4.20'/><path d='M1100.50,267.80V287.96M1098.40,267.80h4.20M1098.40,287.96h4.20'/><path d='M1106.10,265.64V282.92M1104.00,265.64h4.20M1104.00,282.92h4.20'/><path d='M1111.70,269.96V287.24M1109.60,269.96h4.20M1109.60,287.24h4.20'/><path d='M1117.30,264.92V277.88M1115.20,264.92h4.20M1115.20,277.88h4.20'/><path d='M1122.90,264.20V272.84M1120.80,264.20h4.20M1120.80,272.84h4.20'/><path d='M1128.50,264.20V267.80M1126.40,264.20h4.20M1126.40,267.80h4.20'/></g>
<g stroke='#a8402c' stroke-width='0.82' fill='none'><path d='M982.90,405.32V408.20M980.80,405.32h4.20M980.80,408.20h4.20'/><path d='M988.50,401.00V406.76M986.40,401.00h4.20M986.40,406.76h4.20'/><path d='M994.10,401.00V406.76M992.00,401.00h4.20M992.00,406.76h4.20'/><path d='M999.70,395.24V403.88M997.60,395.24h4.20M997.60,403.88h4.20'/><path d='M1005.30,389.48V401.00M1003.20,389.48h4.20M1003.20,401.00h4.20'/><path d='M1010.90,373.64V390.92M1008.80,373.64h4.20M1008.80,390.92h4.20'/><path d='M1016.50,366.44V386.60M1014.40,366.44h4.20M1014.40,386.60h4.20'/><path d='M1022.10,349.16V372.20M1020.00,349.16h4.20M1020.00,372.20h4.20'/><path d='M1027.70,341.24V364.28M1025.60,341.24h4.20M1025.60,364.28h4.20'/><path d='M1033.30,336.20V359.24M1031.20,336.20h4.20M1031.20,359.24h4.20'/><path d='M1038.90,339.80V362.84M1036.80,339.80h4.20M1036.80,362.84h4.20'/><path d='M1044.50,325.40V351.32M1042.40,325.40h4.20M1042.40,351.32h4.20'/><path d='M1050.10,304.52V330.44M1048.00,304.52h4.20M1048.00,330.44h4.20'/><path d='M1055.70,318.92V344.84M1053.60,318.92h4.20M1053.60,344.84h4.20'/><path d='M1061.30,299.48V325.40M1059.20,299.48h4.20M1059.20,325.40h4.20'/><path d='M1066.90,314.60V340.52M1064.80,314.60h4.20M1064.80,340.52h4.20'/><path d='M1072.50,301.64V327.56M1070.40,301.64h4.20M1070.40,327.56h4.20'/><path d='M1078.10,296.60V322.52M1076.00,296.60h4.20M1076.00,322.52h4.20'/><path d='M1083.70,288.68V314.60M1081.60,288.68h4.20M1081.60,314.60h4.20'/><path d='M1089.30,297.32V329.00M1087.20,297.32h4.20M1087.20,329.00h4.20'/><path d='M1094.90,284.36V307.40M1092.80,284.36h4.20M1092.80,307.40h4.20'/><path d='M1100.50,278.60V301.64M1098.40,278.60h4.20M1098.40,301.64h4.20'/><path d='M1106.10,274.28V294.44M1104.00,274.28h4.20M1104.00,294.44h4.20'/><path d='M1111.70,272.84V293.00M1109.60,272.84h4.20M1109.60,293.00h4.20'/><path d='M1117.30,271.40V288.68M1115.20,271.40h4.20M1115.20,288.68h4.20'/><path d='M1122.90,267.08V278.60M1120.80,267.08h4.20M1120.80,278.60h4.20'/><path d='M1128.50,264.20V267.80M1126.40,264.20h4.20M1126.40,267.80h4.20'/></g>
<polyline points='966.10,408.20 988.50,406.76 994.10,404.60 999.70,406.04 1010.90,406.76 1033.30,407.48 1044.50,406.04 1055.70,407.34 1072.50,406.47 1078.10,405.61 1089.30,407.05 1106.10,407.77 1134.10,408.20' fill='none' stroke='#e0a020' stroke-width='0.7' stroke-linejoin='round'/>
<polyline points='966.10,408.20 994.10,406.76 999.70,405.32 1005.30,406.76 1022.10,407.48 1050.10,406.76 1066.90,407.48 1083.70,406.04 1094.90,407.62 1134.10,408.20' fill='none' stroke='#e0a020' stroke-width='0.7' stroke-dasharray='2 1' stroke-linejoin='round'/>
<polyline points='966.10,408.20 977.30,406.76 982.90,402.44 988.50,401.00 994.10,403.16 999.70,402.44 1005.30,399.56 1010.90,402.44 1016.50,405.32 1022.10,406.04 1033.30,406.76 1050.10,407.48 1078.10,407.77 1134.10,408.20' fill='none' stroke='#2c4a2c' stroke-width='0.7' stroke-linejoin='round'/>
<polyline points='966.10,408.20 977.30,405.32 982.90,399.56 988.50,402.44 994.10,396.68 999.70,392.36 1005.30,398.12 1010.90,403.88 1016.50,403.88 1022.10,406.76 1038.90,406.76 1055.70,407.48 1134.10,408.20' fill='none' stroke='#2c4a2c' stroke-width='0.7' stroke-dasharray='2 1' stroke-linejoin='round'/>
<polyline points='966.10,305.24 971.70,310.28 977.30,327.56 982.90,354.92 988.50,396.68 994.10,402.44 999.70,402.44 1005.30,403.88 1010.90,406.76 1022.10,408.20' fill='none' stroke='#111' stroke-width='1.05' stroke-linejoin='round'/>
<polyline points='966.10,275.72 971.70,307.40 977.30,314.60 982.90,365.00 988.50,393.80 994.10,396.68 999.70,401.00 1005.30,405.32 1010.90,406.76 1022.10,408.20' fill='none' stroke='#111' stroke-width='1.1' stroke-dasharray='2.6 1.4' stroke-linejoin='round'/>
<polyline points='966.10,367.16 971.70,360.68 977.30,365.00 982.90,346.28 988.50,347.72 994.10,362.12 999.70,379.40 1005.30,389.48 1010.90,393.80 1016.50,398.12 1022.10,403.16 1027.70,405.32 1033.30,405.32 1038.90,407.48 1134.10,408.20' fill='none' stroke='#1c1c8c' stroke-width='1.0' stroke-linejoin='round'/>
<polyline points='966.10,396.68 971.70,366.44 977.30,365.00 982.90,354.92 988.50,356.36 994.10,369.32 999.70,385.16 1005.30,392.36 1010.90,393.80 1016.50,396.68 1022.10,401.00 1027.70,403.88 1033.30,406.76 1038.90,404.60 1044.50,407.48 1134.10,408.20' fill='none' stroke='#1c1c8c' stroke-width='1.0' stroke-dasharray='2.8 1.5' stroke-linejoin='round'/>
<polyline points='966.10,408.20 971.70,408.20 977.30,401.00 982.90,386.60 988.50,365.00 994.10,352.04 999.70,337.64 1005.30,338.36 1010.90,346.28 1016.50,347.72 1022.10,336.20 1027.70,340.52 1033.30,358.52 1038.90,366.44 1044.50,366.44 1050.10,368.60 1055.70,369.32 1061.30,376.52 1066.90,378.68 1072.50,380.84 1078.10,373.64 1083.70,385.16 1089.30,383.72 1094.90,385.16 1100.50,395.24 1106.10,398.84 1111.70,397.40 1117.30,402.44 1122.90,403.88 1128.50,408.20 1134.10,408.20' fill='none' stroke='#7b20d4' stroke-width='1.0' stroke-dasharray='3 1.6' stroke-linejoin='round'/>
<path d='M964.42,409.63h3.36L966.10,406.35Z' fill='#7b20d4'/><path d='M970.02,409.63h3.36L971.70,406.35Z' fill='#7b20d4'/><path d='M975.62,402.43h3.36L977.30,399.15Z' fill='#7b20d4'/><path d='M981.22,388.03h3.36L982.90,384.75Z' fill='#7b20d4'/><path d='M986.82,366.43h3.36L988.50,363.15Z' fill='#7b20d4'/><path d='M992.42,353.47h3.36L994.10,350.19Z' fill='#7b20d4'/><path d='M998.02,339.07h3.36L999.70,335.79Z' fill='#7b20d4'/><path d='M1003.62,339.79h3.36L1005.30,336.51Z' fill='#7b20d4'/><path d='M1009.22,347.71h3.36L1010.90,344.43Z' fill='#7b20d4'/><path d='M1014.82,349.15h3.36L1016.50,345.87Z' fill='#7b20d4'/><path d='M1020.42,337.63h3.36L1022.10,334.35Z' fill='#7b20d4'/><path d='M1026.02,341.95h3.36L1027.70,338.67Z' fill='#7b20d4'/><path d='M1031.62,359.95h3.36L1033.30,356.67Z' fill='#7b20d4'/><path d='M1037.22,367.87h3.36L1038.90,364.59Z' fill='#7b20d4'/><path d='M1042.82,367.87h3.36L1044.50,364.59Z' fill='#7b20d4'/><path d='M1048.42,370.03h3.36L1050.10,366.75Z' fill='#7b20d4'/><path d='M1054.02,370.75h3.36L1055.70,367.47Z' fill='#7b20d4'/><path d='M1059.62,377.95h3.36L1061.30,374.67Z' fill='#7b20d4'/><path d='M1065.22,380.11h3.36L1066.90,376.83Z' fill='#7b20d4'/><path d='M1070.82,382.27h3.36L1072.50,378.99Z' fill='#7b20d4'/><path d='M1076.42,375.07h3.36L1078.10,371.79Z' fill='#7b20d4'/><path d='M1082.02,386.59h3.36L1083.70,383.31Z' fill='#7b20d4'/><path d='M1087.62,385.15h3.36L1089.30,381.87Z' fill='#7b20d4'/><path d='M1093.22,386.59h3.36L1094.90,383.31Z' fill='#7b20d4'/><path d='M1098.82,396.67h3.36L1100.50,393.39Z' fill='#7b20d4'/><path d='M1104.42,400.27h3.36L1106.10,396.99Z' fill='#7b20d4'/><path d='M1110.02,398.83h3.36L1111.70,395.55Z' fill='#7b20d4'/><path d='M1115.62,403.87h3.36L1117.30,400.59Z' fill='#7b20d4'/><path d='M1121.22,405.31h3.36L1122.90,402.03Z' fill='#7b20d4'/><path d='M1126.82,409.63h3.36L1128.50,406.35Z' fill='#7b20d4'/><path d='M1132.42,409.63h3.36L1134.10,406.35Z' fill='#7b20d4'/>
<polyline points='966.10,408.20 971.70,408.20 977.30,393.80 982.90,379.40 988.50,347.72 994.10,329.00 999.70,318.20 1005.30,300.20 1010.90,307.40 1016.50,305.24 1022.10,318.92 1027.70,325.40 1033.30,331.16 1038.90,321.80 1044.50,334.76 1050.10,354.92 1055.70,341.96 1061.30,362.12 1066.90,347.72 1072.50,360.68 1078.10,363.56 1083.70,370.76 1089.30,359.24 1094.90,376.52 1100.50,383.72 1106.10,388.04 1111.70,389.48 1117.30,392.36 1122.90,399.56 1128.50,408.20 1134.10,408.20' fill='none' stroke='#7b20d4' stroke-width='1.0' stroke-linejoin='round'/>
<circle cx='966.10' cy='408.20' r='1.6' fill='#7b20d4'/><circle cx='971.70' cy='408.20' r='1.6' fill='#7b20d4'/><circle cx='977.30' cy='393.80' r='1.6' fill='#7b20d4'/><circle cx='982.90' cy='379.40' r='1.6' fill='#7b20d4'/><circle cx='988.50' cy='347.72' r='1.6' fill='#7b20d4'/><circle cx='994.10' cy='329.00' r='1.6' fill='#7b20d4'/><circle cx='999.70' cy='318.20' r='1.6' fill='#7b20d4'/><circle cx='1005.30' cy='300.20' r='1.6' fill='#7b20d4'/><circle cx='1010.90' cy='307.40' r='1.6' fill='#7b20d4'/><circle cx='1016.50' cy='305.24' r='1.6' fill='#7b20d4'/><circle cx='1022.10' cy='318.92' r='1.6' fill='#7b20d4'/><circle cx='1027.70' cy='325.40' r='1.6' fill='#7b20d4'/><circle cx='1033.30' cy='331.16' r='1.6' fill='#7b20d4'/><circle cx='1038.90' cy='321.80' r='1.6' fill='#7b20d4'/><circle cx='1044.50' cy='334.76' r='1.6' fill='#7b20d4'/><circle cx='1050.10' cy='354.92' r='1.6' fill='#7b20d4'/><circle cx='1055.70' cy='341.96' r='1.6' fill='#7b20d4'/><circle cx='1061.30' cy='362.12' r='1.6' fill='#7b20d4'/><circle cx='1066.90' cy='347.72' r='1.6' fill='#7b20d4'/><circle cx='1072.50' cy='360.68' r='1.6' fill='#7b20d4'/><circle cx='1078.10' cy='363.56' r='1.6' fill='#7b20d4'/><circle cx='1083.70' cy='370.76' r='1.6' fill='#7b20d4'/><circle cx='1089.30' cy='359.24' r='1.6' fill='#7b20d4'/><circle cx='1094.90' cy='376.52' r='1.6' fill='#7b20d4'/><circle cx='1100.50' cy='383.72' r='1.6' fill='#7b20d4'/><circle cx='1106.10' cy='388.04' r='1.6' fill='#7b20d4'/><circle cx='1111.70' cy='389.48' r='1.6' fill='#7b20d4'/><circle cx='1117.30' cy='392.36' r='1.6' fill='#7b20d4'/><circle cx='1122.90' cy='399.56' r='1.6' fill='#7b20d4'/><circle cx='1128.50' cy='408.20' r='1.6' fill='#7b20d4'/><circle cx='1134.10' cy='408.20' r='1.6' fill='#7b20d4'/>
<polyline points='966.10,408.20 971.70,408.20 977.30,408.20 982.90,406.76 988.50,402.44 994.10,393.80 999.70,388.04 1005.30,373.64 1010.90,357.80 1016.50,344.84 1022.10,335.48 1027.70,339.08 1033.30,318.92 1038.90,311.00 1044.50,310.28 1050.10,310.28 1055.70,307.40 1061.30,298.04 1066.90,294.44 1072.50,291.56 1078.10,302.36 1083.70,291.56 1089.30,292.28 1094.90,288.68 1100.50,277.88 1106.10,274.28 1111.70,278.60 1117.30,271.40 1122.90,268.52 1128.50,265.64 1134.10,264.20' fill='none' stroke='#c41c1c' stroke-width='1.0' stroke-dasharray='3 1.6' stroke-linejoin='round'/>
<path d='M964.42,409.63h3.36L966.10,406.35Z' fill='#c41c1c'/><path d='M970.02,409.63h3.36L971.70,406.35Z' fill='#c41c1c'/><path d='M975.62,409.63h3.36L977.30,406.35Z' fill='#c41c1c'/><path d='M981.22,408.19h3.36L982.90,404.91Z' fill='#c41c1c'/><path d='M986.82,403.87h3.36L988.50,400.59Z' fill='#c41c1c'/><path d='M992.42,395.23h3.36L994.10,391.95Z' fill='#c41c1c'/><path d='M998.02,389.47h3.36L999.70,386.19Z' fill='#c41c1c'/><path d='M1003.62,375.07h3.36L1005.30,371.79Z' fill='#c41c1c'/><path d='M1009.22,359.23h3.36L1010.90,355.95Z' fill='#c41c1c'/><path d='M1014.82,346.27h3.36L1016.50,342.99Z' fill='#c41c1c'/><path d='M1020.42,336.91h3.36L1022.10,333.63Z' fill='#c41c1c'/><path d='M1026.02,340.51h3.36L1027.70,337.23Z' fill='#c41c1c'/><path d='M1031.62,320.35h3.36L1033.30,317.07Z' fill='#c41c1c'/><path d='M1037.22,312.43h3.36L1038.90,309.15Z' fill='#c41c1c'/><path d='M1042.82,311.71h3.36L1044.50,308.43Z' fill='#c41c1c'/><path d='M1048.42,311.71h3.36L1050.10,308.43Z' fill='#c41c1c'/><path d='M1054.02,308.83h3.36L1055.70,305.55Z' fill='#c41c1c'/><path d='M1059.62,299.47h3.36L1061.30,296.19Z' fill='#c41c1c'/><path d='M1065.22,295.87h3.36L1066.90,292.59Z' fill='#c41c1c'/><path d='M1070.82,292.99h3.36L1072.50,289.71Z' fill='#c41c1c'/><path d='M1076.42,303.79h3.36L1078.10,300.51Z' fill='#c41c1c'/><path d='M1082.02,292.99h3.36L1083.70,289.71Z' fill='#c41c1c'/><path d='M1087.62,293.71h3.36L1089.30,290.43Z' fill='#c41c1c'/><path d='M1093.22,290.11h3.36L1094.90,286.83Z' fill='#c41c1c'/><path d='M1098.82,279.31h3.36L1100.50,276.03Z' fill='#c41c1c'/><path d='M1104.42,275.71h3.36L1106.10,272.43Z' fill='#c41c1c'/><path d='M1110.02,280.03h3.36L1111.70,276.75Z' fill='#c41c1c'/><path d='M1115.62,272.83h3.36L1117.30,269.55Z' fill='#c41c1c'/><path d='M1121.22,269.95h3.36L1122.90,266.67Z' fill='#c41c1c'/><path d='M1126.82,267.07h3.36L1128.50,263.79Z' fill='#c41c1c'/><path d='M1132.42,265.63h3.36L1134.10,262.35Z' fill='#c41c1c'/>
<polyline points='966.10,408.20 971.70,408.20 977.30,408.20 982.90,406.76 988.50,403.88 994.10,403.88 999.70,399.56 1005.30,395.24 1010.90,382.28 1016.50,376.52 1022.10,360.68 1027.70,352.76 1033.30,347.72 1038.90,351.32 1044.50,338.36 1050.10,317.48 1055.70,331.88 1061.30,312.44 1066.90,327.56 1072.50,314.60 1078.10,309.56 1083.70,301.64 1089.30,313.16 1094.90,295.88 1100.50,290.12 1106.10,284.36 1111.70,282.92 1117.30,280.04 1122.90,272.84 1128.50,265.64 1134.10,264.20' fill='none' stroke='#d61c1c' stroke-width='1.0' stroke-linejoin='round'/>
<circle cx='966.10' cy='408.20' r='1.6' fill='#d61c1c'/><circle cx='971.70' cy='408.20' r='1.6' fill='#d61c1c'/><circle cx='977.30' cy='408.20' r='1.6' fill='#d61c1c'/><circle cx='982.90' cy='406.76' r='1.6' fill='#d61c1c'/><circle cx='988.50' cy='403.88' r='1.6' fill='#d61c1c'/><circle cx='994.10' cy='403.88' r='1.6' fill='#d61c1c'/><circle cx='999.70' cy='399.56' r='1.6' fill='#d61c1c'/><circle cx='1005.30' cy='395.24' r='1.6' fill='#d61c1c'/><circle cx='1010.90' cy='382.28' r='1.6' fill='#d61c1c'/><circle cx='1016.50' cy='376.52' r='1.6' fill='#d61c1c'/><circle cx='1022.10' cy='360.68' r='1.6' fill='#d61c1c'/><circle cx='1027.70' cy='352.76' r='1.6' fill='#d61c1c'/><circle cx='1033.30' cy='347.72' r='1.6' fill='#d61c1c'/><circle cx='1038.90' cy='351.32' r='1.6' fill='#d61c1c'/><circle cx='1044.50' cy='338.36' r='1.6' fill='#d61c1c'/><circle cx='1050.10' cy='317.48' r='1.6' fill='#d61c1c'/><circle cx='1055.70' cy='331.88' r='1.6' fill='#d61c1c'/><circle cx='1061.30' cy='312.44' r='1.6' fill='#d61c1c'/><circle cx='1066.90' cy='327.56' r='1.6' fill='#d61c1c'/><circle cx='1072.50' cy='314.60' r='1.6' fill='#d61c1c'/><circle cx='1078.10' cy='309.56' r='1.6' fill='#d61c1c'/><circle cx='1083.70' cy='301.64' r='1.6' fill='#d61c1c'/><circle cx='1089.30' cy='313.16' r='1.6' fill='#d61c1c'/><circle cx='1094.90' cy='295.88' r='1.6' fill='#d61c1c'/><circle cx='1100.50' cy='290.12' r='1.6' fill='#d61c1c'/><circle cx='1106.10' cy='284.36' r='1.6' fill='#d61c1c'/><circle cx='1111.70' cy='282.92' r='1.6' fill='#d61c1c'/><circle cx='1117.30' cy='280.04' r='1.6' fill='#d61c1c'/><circle cx='1122.90' cy='272.84' r='1.6' fill='#d61c1c'/><circle cx='1128.50' cy='265.64' r='1.6' fill='#d61c1c'/><circle cx='1134.10' cy='264.20' r='1.6' fill='#d61c1c'/>
</g>
<rect x='957.70' y='264.20' width='184.90' height='144.00' fill='none' stroke='#a4a4a4' stroke-width='1.05' />
<text x='1050.60' y='262.60' font-size='7.9' fill='#111' text-anchor='middle' stroke='#111' stroke-width='0.17' textLength='127.80' lengthAdjust='spacingAndGlyphs' >IRCs for Item 4 on the FCI (±2)</text>
<text x='955.00' y='410.60' font-size='7.3' fill='#262626' text-anchor='end' stroke='#262626' stroke-width='0.16' textLength='3.50' lengthAdjust='spacingAndGlyphs' >0</text>
<text x='955.00' y='381.80' font-size='7.3' fill='#262626' text-anchor='end' stroke='#262626' stroke-width='0.16' textLength='7.00' lengthAdjust='spacingAndGlyphs' >20</text>
<text x='955.00' y='353.00' font-size='7.3' fill='#262626' text-anchor='end' stroke='#262626' stroke-width='0.16' textLength='7.00' lengthAdjust='spacingAndGlyphs' >40</text>
<text x='955.00' y='324.20' font-size='7.3' fill='#262626' text-anchor='end' stroke='#262626' stroke-width='0.16' textLength='7.00' lengthAdjust='spacingAndGlyphs' >60</text>
<text x='955.00' y='295.40' font-size='7.3' fill='#262626' text-anchor='end' stroke='#262626' stroke-width='0.16' textLength='7.00' lengthAdjust='spacingAndGlyphs' >80</text>
<text x='955.00' y='266.60' font-size='7.3' fill='#262626' text-anchor='end' stroke='#262626' stroke-width='0.16' textLength='10.50' lengthAdjust='spacingAndGlyphs' >100</text>
<text x='966.10' y='415.20' font-size='7.3' fill='#262626' text-anchor='middle' stroke='#262626' stroke-width='0.16' textLength='3.50' lengthAdjust='spacingAndGlyphs' >0</text>
<text x='994.10' y='415.20' font-size='7.3' fill='#262626' text-anchor='middle' stroke='#262626' stroke-width='0.16' textLength='3.50' lengthAdjust='spacingAndGlyphs' >5</text>
<text x='1022.10' y='415.20' font-size='7.3' fill='#262626' text-anchor='middle' stroke='#262626' stroke-width='0.16' textLength='7.00' lengthAdjust='spacingAndGlyphs' >10</text>
<text x='1050.10' y='415.20' font-size='7.3' fill='#262626' text-anchor='middle' stroke='#262626' stroke-width='0.16' textLength='7.00' lengthAdjust='spacingAndGlyphs' >15</text>
<text x='1078.10' y='415.20' font-size='7.3' fill='#262626' text-anchor='middle' stroke='#262626' stroke-width='0.16' textLength='7.00' lengthAdjust='spacingAndGlyphs' >20</text>
<text x='1106.10' y='415.20' font-size='7.3' fill='#262626' text-anchor='middle' stroke='#262626' stroke-width='0.16' textLength='7.00' lengthAdjust='spacingAndGlyphs' >25</text>
<text x='1134.10' y='415.20' font-size='7.3' fill='#262626' text-anchor='middle' stroke='#262626' stroke-width='0.16' textLength='7.00' lengthAdjust='spacingAndGlyphs' >30</text>
<text x='1050.20' y='422.40' font-size='7.1' fill='#262626' text-anchor='middle' stroke='#262626' stroke-width='0.16' textLength='31.70' lengthAdjust='spacingAndGlyphs' >FCI score</text>
<text font-size='7.1' fill='#262626' text-anchor='middle' stroke='#262626' stroke-width='0.16' textLength='37.40' lengthAdjust='spacingAndGlyphs' transform='translate(941.60,336.80) rotate(-90)' >Percentage</text>
<rect x='1109.70' y='300.70' width='31.00' height='70.00' fill='#fff' stroke='#d8d8d8' stroke-width='0.5' fill-opacity='0.85' rx='1'/>
<line x1='1112.00' y1='303.50' x2='1120.50' y2='303.50' stroke='#7b20d4' stroke-width='0.9'/>
<circle cx='1116.25' cy='303.50' r='1.05' fill='#7b20d4'/>
<text x='1123.30' y='304.99' font-size='4.5' fill='#333' text-anchor='start' stroke='#333' stroke-width='0.10' textLength='11.00' lengthAdjust='spacingAndGlyphs' >A Pre</text>
<line x1='1112.00' y1='309.33' x2='1120.50' y2='309.33' stroke='#7b20d4' stroke-width='0.9' stroke-dasharray='2 1'/>
<path d='M1115.20,310.22h2.10L1116.25,308.18Z' fill='#7b20d4'/>
<text x='1123.30' y='310.81' font-size='4.5' fill='#333' text-anchor='start' stroke='#333' stroke-width='0.10' textLength='13.20' lengthAdjust='spacingAndGlyphs' >A Post</text>
<line x1='1112.00' y1='315.16' x2='1120.50' y2='315.16' stroke='#1c1c8c' stroke-width='0.9'/>
<text x='1123.30' y='316.65' font-size='4.5' fill='#333' text-anchor='start' stroke='#333' stroke-width='0.10' textLength='11.00' lengthAdjust='spacingAndGlyphs' >B Pre</text>
<line x1='1112.00' y1='320.99' x2='1120.50' y2='320.99' stroke='#1c1c8c' stroke-width='0.9' stroke-dasharray='2 1'/>
<text x='1123.30' y='322.48' font-size='4.5' fill='#333' text-anchor='start' stroke='#333' stroke-width='0.10' textLength='13.20' lengthAdjust='spacingAndGlyphs' >B Post</text>
<line x1='1112.00' y1='326.82' x2='1120.50' y2='326.82' stroke='#555' stroke-width='0.9'/>
<text x='1123.30' y='328.31' font-size='4.5' fill='#333' text-anchor='start' stroke='#333' stroke-width='0.10' textLength='11.00' lengthAdjust='spacingAndGlyphs' >C Pre</text>
<line x1='1112.00' y1='332.65' x2='1120.50' y2='332.65' stroke='#444' stroke-width='0.9' stroke-dasharray='2 1'/>
<text x='1123.30' y='334.13' font-size='4.5' fill='#333' text-anchor='start' stroke='#333' stroke-width='0.10' textLength='13.20' lengthAdjust='spacingAndGlyphs' >C Post</text>
<line x1='1112.00' y1='338.48' x2='1120.50' y2='338.48' stroke='#e0a020' stroke-width='0.9'/>
<text x='1123.30' y='339.97' font-size='4.5' fill='#333' text-anchor='start' stroke='#333' stroke-width='0.10' textLength='11.00' lengthAdjust='spacingAndGlyphs' >D Pre</text>
<line x1='1112.00' y1='344.31' x2='1120.50' y2='344.31' stroke='#e0a020' stroke-width='0.9' stroke-dasharray='2 1'/>
<text x='1123.30' y='345.80' font-size='4.5' fill='#333' text-anchor='start' stroke='#333' stroke-width='0.10' textLength='13.20' lengthAdjust='spacingAndGlyphs' >D Post</text>
<line x1='1112.00' y1='350.14' x2='1120.50' y2='350.14' stroke='#d61c1c' stroke-width='0.9'/>
<circle cx='1116.25' cy='350.14' r='1.05' fill='#d61c1c'/>
<text x='1123.30' y='351.62' font-size='4.5' fill='#333' text-anchor='start' stroke='#333' stroke-width='0.10' textLength='11.00' lengthAdjust='spacingAndGlyphs' >E Pre</text>
<line x1='1112.00' y1='355.97' x2='1120.50' y2='355.97' stroke='#d61c1c' stroke-width='0.9' stroke-dasharray='2 1'/>
<path d='M1115.20,356.86h2.10L1116.25,354.82Z' fill='#d61c1c'/>
<text x='1123.30' y='357.46' font-size='4.5' fill='#333' text-anchor='start' stroke='#333' stroke-width='0.10' textLength='13.20' lengthAdjust='spacingAndGlyphs' >E Post</text>
<line x1='1112.00' y1='361.80' x2='1120.50' y2='361.80' stroke='#111' stroke-width='0.9'/>
<text x='1123.30' y='363.29' font-size='4.5' fill='#333' text-anchor='start' stroke='#333' stroke-width='0.10' textLength='13.20' lengthAdjust='spacingAndGlyphs' >NR Pre</text>
<line x1='1112.00' y1='367.63' x2='1120.50' y2='367.63' stroke='#111' stroke-width='0.9' stroke-dasharray='2 1'/>
<text x='1123.30' y='369.12' font-size='4.5' fill='#333' text-anchor='start' stroke='#333' stroke-width='0.10' textLength='15.40' lengthAdjust='spacingAndGlyphs' >NR Post</text>
<rect x='956.40' y='592.40' width='186.60' height='83.60' fill='#fff' stroke='none' stroke-width='0' />
<line x1='966.40' y1='592.40' x2='966.40' y2='676.00' stroke='#d4d4d4' stroke-width='0.6' />
<line x1='994.40' y1='592.40' x2='994.40' y2='676.00' stroke='#d4d4d4' stroke-width='0.6' />
<line x1='1022.40' y1='592.40' x2='1022.40' y2='676.00' stroke='#d4d4d4' stroke-width='0.6' />
<line x1='1050.40' y1='592.40' x2='1050.40' y2='676.00' stroke='#d4d4d4' stroke-width='0.6' />
<line x1='1078.40' y1='592.40' x2='1078.40' y2='676.00' stroke='#d4d4d4' stroke-width='0.6' />
<line x1='1106.40' y1='592.40' x2='1106.40' y2='676.00' stroke='#d4d4d4' stroke-width='0.6' />
<line x1='1134.40' y1='592.40' x2='1134.40' y2='676.00' stroke='#d4d4d4' stroke-width='0.6' />
<line x1='956.40' y1='650.00' x2='1143.00' y2='650.00' stroke='#d4d4d4' stroke-width='0.6' />
<line x1='956.40' y1='621.20' x2='1143.00' y2='621.20' stroke='#d4d4d4' stroke-width='0.6' />
<line x1='956.40' y1='592.40' x2='1143.00' y2='592.40' stroke='#d4d4d4' stroke-width='0.6' />
<clipPath id='c5'><rect x='956.4' y='589.4' width='186.60000000000002' height='86.60000000000002'/></clipPath><g clip-path='url(#c5)'>
<g stroke='#cc4448' stroke-width='0.82' fill='none'><path d='M1067.20,678.80V690.32M1065.10,678.80h4.20M1065.10,690.32h4.20'/><path d='M1072.80,673.04V684.56M1070.70,673.04h4.20M1070.70,684.56h4.20'/><path d='M1078.40,668.72V680.24M1076.30,668.72h4.20M1076.30,680.24h4.20'/><path d='M1084.00,673.04V684.56M1081.90,673.04h4.20M1081.90,684.56h4.20'/><path d='M1089.60,660.80V672.32M1087.50,660.80h4.20M1087.50,672.32h4.20'/><path d='M1095.20,656.19V667.71M1093.10,656.19h4.20M1093.10,667.71h4.20'/><path d='M1100.80,652.16V663.68M1098.70,652.16h4.20M1098.70,663.68h4.20'/><path d='M1106.40,641.65V653.17M1104.30,641.65h4.20M1104.30,653.17h4.20'/><path d='M1112.00,624.22V634.30M1109.90,624.22h4.20M1109.90,634.30h4.20'/><path d='M1117.60,615.73V625.81M1115.50,615.73h4.20M1115.50,625.81h4.20'/><path d='M1123.20,607.81V616.45M1121.10,607.81h4.20M1121.10,616.45h4.20'/><path d='M1128.80,595.28V601.04M1126.70,595.28h4.20M1126.70,601.04h4.20'/></g>
<g stroke='#ab4a2e' stroke-width='0.82' fill='none'><path d='M1033.60,675.20V688.16M1031.50,675.20h4.20M1031.50,688.16h4.20'/><path d='M1039.20,669.44V682.40M1037.10,669.44h4.20M1037.10,682.40h4.20'/><path d='M1044.80,668.00V680.96M1042.70,668.00h4.20M1042.70,680.96h4.20'/><path d='M1050.40,665.12V678.08M1048.30,665.12h4.20M1048.30,678.08h4.20'/><path d='M1056.00,659.36V673.76M1053.90,659.36h4.20M1053.90,673.76h4.20'/><path d='M1061.60,651.30V665.70M1059.50,651.30h4.20M1059.50,665.70h4.20'/><path d='M1067.20,651.15V666.99M1065.10,651.15h4.20M1065.10,666.99h4.20'/><path d='M1072.80,651.15V666.99M1070.70,651.15h4.20M1070.70,666.99h4.20'/><path d='M1078.40,642.80V660.08M1076.30,642.80h4.20M1076.30,660.08h4.20'/><path d='M1084.00,639.92V657.20M1081.90,639.92h4.20M1081.90,657.20h4.20'/><path d='M1089.60,632.58V651.30M1087.50,632.58h4.20M1087.50,651.30h4.20'/><path d='M1095.20,630.56V649.28M1093.10,630.56h4.20M1093.10,649.28h4.20'/><path d='M1100.80,614.14V631.42M1098.70,614.14h4.20M1098.70,631.42h4.20'/><path d='M1106.40,612.56V629.84M1104.30,612.56h4.20M1104.30,629.84h4.20'/><path d='M1112.00,607.81V626.53M1109.90,607.81h4.20M1109.90,626.53h4.20'/><path d='M1117.60,600.32V616.16M1115.50,600.32h4.20M1115.50,616.16h4.20'/><path d='M1123.20,594.42V608.82M1121.10,594.42h4.20M1121.10,608.82h4.20'/><path d='M1128.80,592.40V594.42M1126.70,592.40h4.20M1126.70,594.42h4.20'/></g>
<polyline points='966.40,624.08 970.04,675.92 972.00,693.20' fill='none' stroke='#111' stroke-width='1.1' stroke-linejoin='round'/>
<polyline points='966.40,609.10 969.20,629.84 974.24,675.92 977.60,693.20' fill='none' stroke='#111' stroke-width='1.15' stroke-dasharray='2.6 1.4' stroke-linejoin='round'/>
<polyline points='1067.20,684.56 1072.80,678.80 1078.40,674.48 1084.00,678.80 1089.60,666.56 1095.20,661.95 1100.80,657.92 1106.40,647.41 1112.00,629.26 1117.60,620.77 1123.20,612.13 1128.80,598.16 1134.40,592.40' fill='none' stroke='#c41c1c' stroke-width='1.0' stroke-dasharray='3 1.6' stroke-linejoin='round'/>
<path d='M1065.52,685.99h3.36L1067.20,682.71Z' fill='#c41c1c'/><path d='M1071.12,680.23h3.36L1072.80,676.95Z' fill='#c41c1c'/><path d='M1076.72,675.91h3.36L1078.40,672.63Z' fill='#c41c1c'/><path d='M1082.32,680.23h3.36L1084.00,676.95Z' fill='#c41c1c'/><path d='M1087.92,667.99h3.36L1089.60,664.71Z' fill='#c41c1c'/><path d='M1093.52,663.38h3.36L1095.20,660.10Z' fill='#c41c1c'/><path d='M1099.12,659.35h3.36L1100.80,656.07Z' fill='#c41c1c'/><path d='M1104.72,648.84h3.36L1106.40,645.56Z' fill='#c41c1c'/><path d='M1110.32,630.69h3.36L1112.00,627.42Z' fill='#c41c1c'/><path d='M1115.92,622.20h3.36L1117.60,618.92Z' fill='#c41c1c'/><path d='M1121.52,613.56h3.36L1123.20,610.28Z' fill='#c41c1c'/><path d='M1127.12,599.59h3.36L1128.80,596.31Z' fill='#c41c1c'/><path d='M1132.72,593.83h3.36L1134.40,590.55Z' fill='#c41c1c'/>
<polyline points='1033.60,681.68 1039.20,675.92 1044.80,674.48 1050.40,671.60 1056.00,666.56 1061.60,658.50 1067.20,659.07 1072.80,659.07 1078.40,651.44 1084.00,648.56 1089.60,641.94 1095.20,639.92 1100.80,622.78 1106.40,621.20 1112.00,617.17 1117.60,608.24 1123.20,601.62 1128.80,592.98 1134.40,592.40' fill='none' stroke='#d61c1c' stroke-width='1.0' stroke-linejoin='round'/>
<circle cx='1033.60' cy='681.68' r='1.6' fill='#d61c1c'/><circle cx='1039.20' cy='675.92' r='1.6' fill='#d61c1c'/><circle cx='1044.80' cy='674.48' r='1.6' fill='#d61c1c'/><circle cx='1050.40' cy='671.60' r='1.6' fill='#d61c1c'/><circle cx='1056.00' cy='666.56' r='1.6' fill='#d61c1c'/><circle cx='1061.60' cy='658.50' r='1.6' fill='#d61c1c'/><circle cx='1067.20' cy='659.07' r='1.6' fill='#d61c1c'/><circle cx='1072.80' cy='659.07' r='1.6' fill='#d61c1c'/><circle cx='1078.40' cy='651.44' r='1.6' fill='#d61c1c'/><circle cx='1084.00' cy='648.56' r='1.6' fill='#d61c1c'/><circle cx='1089.60' cy='641.94' r='1.6' fill='#d61c1c'/><circle cx='1095.20' cy='639.92' r='1.6' fill='#d61c1c'/><circle cx='1100.80' cy='622.78' r='1.6' fill='#d61c1c'/><circle cx='1106.40' cy='621.20' r='1.6' fill='#d61c1c'/><circle cx='1112.00' cy='617.17' r='1.6' fill='#d61c1c'/><circle cx='1117.60' cy='608.24' r='1.6' fill='#d61c1c'/><circle cx='1123.20' cy='601.62' r='1.6' fill='#d61c1c'/><circle cx='1128.80' cy='592.98' r='1.6' fill='#d61c1c'/><circle cx='1134.40' cy='592.40' r='1.6' fill='#d61c1c'/>
</g>
<path d='M956.4,676V592.4H1143V676' fill='none' stroke='#a4a4a4' stroke-width='1.05'/>
<text x='1050.20' y='590.00' font-size='7.9' fill='#111' text-anchor='middle' stroke='#111' stroke-width='0.17' textLength='111.60' lengthAdjust='spacingAndGlyphs' >IRCs for Item 21 on the FCI</text>
<text x='955.30' y='594.80' font-size='7.3' fill='#262626' text-anchor='end' stroke='#262626' stroke-width='0.16' textLength='10.50' lengthAdjust='spacingAndGlyphs' >100</text>
<text x='955.30' y='623.60' font-size='7.3' fill='#262626' text-anchor='end' stroke='#262626' stroke-width='0.16' textLength='7.00' lengthAdjust='spacingAndGlyphs' >80</text>
<text x='955.30' y='652.40' font-size='7.3' fill='#262626' text-anchor='end' stroke='#262626' stroke-width='0.16' textLength='7.00' lengthAdjust='spacingAndGlyphs' >60</text>
<text font-size='7.1' fill='#262626' text-anchor='middle' stroke='#262626' stroke-width='0.16' textLength='37.40' lengthAdjust='spacingAndGlyphs' transform='translate(941.40,664.40) rotate(-90)' >Percentage</text>
<rect x='977.00' y='594.00' width='31.50' height='70.00' fill='#fff' stroke='#d8d8d8' stroke-width='0.5' fill-opacity='0.85' rx='1'/>
<line x1='979.20' y1='597.60' x2='987.70' y2='597.60' stroke='#6a4ad8' stroke-width='0.9'/>
<text x='990.90' y='599.12' font-size='4.6' fill='#333' text-anchor='start' stroke='#333' stroke-width='0.10' textLength='11.57' lengthAdjust='spacingAndGlyphs' >A Pre</text>
<line x1='979.20' y1='603.39' x2='987.70' y2='603.39' stroke='#7a50e0' stroke-width='0.9' stroke-dasharray='2 1'/>
<text x='990.90' y='604.91' font-size='4.6' fill='#333' text-anchor='start' stroke='#333' stroke-width='0.10' textLength='13.89' lengthAdjust='spacingAndGlyphs' >A Post</text>
<line x1='979.20' y1='609.18' x2='987.70' y2='609.18' stroke='#3a3ac8' stroke-width='0.9'/>
<text x='990.90' y='610.70' font-size='4.6' fill='#333' text-anchor='start' stroke='#333' stroke-width='0.10' textLength='11.57' lengthAdjust='spacingAndGlyphs' >B Pre</text>
<line x1='979.20' y1='614.97' x2='987.70' y2='614.97' stroke='#3a3ac8' stroke-width='0.9' stroke-dasharray='2 1'/>
<text x='990.90' y='616.49' font-size='4.6' fill='#333' text-anchor='start' stroke='#333' stroke-width='0.10' textLength='13.89' lengthAdjust='spacingAndGlyphs' >B Post</text>
<line x1='979.20' y1='620.76' x2='987.70' y2='620.76' stroke='#1c3a1c' stroke-width='0.9'/>
<circle cx='983.45' cy='620.76' r='1.15' fill='#1c3a1c'/>
<text x='990.90' y='622.28' font-size='4.6' fill='#333' text-anchor='start' stroke='#333' stroke-width='0.10' textLength='11.57' lengthAdjust='spacingAndGlyphs' >C Pre</text>
<line x1='979.20' y1='626.55' x2='987.70' y2='626.55' stroke='#1c3a1c' stroke-width='0.9' stroke-dasharray='2 1'/>
<path d='M982.30,627.53h2.30L983.45,625.29Z' fill='#1c3a1c'/>
<text x='990.90' y='628.07' font-size='4.6' fill='#333' text-anchor='start' stroke='#333' stroke-width='0.10' textLength='13.89' lengthAdjust='spacingAndGlyphs' >C Post</text>
<line x1='979.20' y1='632.34' x2='987.70' y2='632.34' stroke='#d8c48c' stroke-width='0.9'/>
<text x='990.90' y='633.86' font-size='4.6' fill='#333' text-anchor='start' stroke='#333' stroke-width='0.10' textLength='11.57' lengthAdjust='spacingAndGlyphs' >D Pre</text>
<line x1='979.20' y1='638.13' x2='987.70' y2='638.13' stroke='#d8c48c' stroke-width='0.9' stroke-dasharray='2 1'/>
<text x='990.90' y='639.65' font-size='4.6' fill='#333' text-anchor='start' stroke='#333' stroke-width='0.10' textLength='13.89' lengthAdjust='spacingAndGlyphs' >D Post</text>
<line x1='979.20' y1='643.92' x2='987.70' y2='643.92' stroke='#d61c1c' stroke-width='0.9'/>
<circle cx='983.45' cy='643.92' r='1.15' fill='#d61c1c'/>
<text x='990.90' y='645.44' font-size='4.6' fill='#333' text-anchor='start' stroke='#333' stroke-width='0.10' textLength='11.57' lengthAdjust='spacingAndGlyphs' >E Pre</text>
<line x1='979.20' y1='649.71' x2='987.70' y2='649.71' stroke='#d61c1c' stroke-width='0.9' stroke-dasharray='2 1'/>
<path d='M982.30,650.69h2.30L983.45,648.45Z' fill='#d61c1c'/>
<text x='990.90' y='651.23' font-size='4.6' fill='#333' text-anchor='start' stroke='#333' stroke-width='0.10' textLength='13.89' lengthAdjust='spacingAndGlyphs' >E Post</text>
<line x1='979.20' y1='655.50' x2='987.70' y2='655.50' stroke='#111' stroke-width='0.9'/>
<text x='990.90' y='657.02' font-size='4.6' fill='#333' text-anchor='start' stroke='#333' stroke-width='0.10' textLength='13.89' lengthAdjust='spacingAndGlyphs' >NR Pre</text>
<line x1='979.20' y1='661.29' x2='987.70' y2='661.29' stroke='#111' stroke-width='0.9' stroke-dasharray='2 1'/>
<text x='990.90' y='662.81' font-size='4.6' fill='#333' text-anchor='start' stroke='#333' stroke-width='0.10' textLength='16.20' lengthAdjust='spacingAndGlyphs' >NR Post</text><rect x='30.20' y='75.00' width='26.20' height='30.90' fill='#a6915f' stroke='none' stroke-width='0' />
<path d='M30.2,98.6 Q39,95.6 47.8,98.2 Q49.6,101.5 50.6,105.9 L30.2,105.9 Z' fill='#fff'/>
<path d='M38.8,75.8 L40.2,83 L42.9,84.6 L44.3,88.2 L48.2,97.9 Q39.5,95.2 31.4,98.2 L34.6,88 Z' fill='#fff'/>
<path d='M38.3,79 L39.2,79 L39.4,96 L38.1,96 Z' fill='#b9ab86'/>
<path d='M31.0,98.9 Q39.5,95.9 48.3,98.7' fill='none' stroke='#a6915f' stroke-width='0.5'/>
<rect x='32.90' y='100.40' width='1.00' height='5.20' fill='#8f7c50' stroke='none' stroke-width='0' />
<rect x='36.10' y='100.40' width='1.00' height='5.20' fill='#8f7c50' stroke='none' stroke-width='0' />
<rect x='41.00' y='100.40' width='1.00' height='5.20' fill='#8f7c50' stroke='none' stroke-width='0' />
<rect x='44.60' y='100.40' width='1.00' height='5.20' fill='#8f7c50' stroke='none' stroke-width='0' />
<text x='64.40' y='91.30' font-size='22.6' fill='#16224e' text-anchor='start' textLength='152.80' lengthAdjust='spacingAndGlyphs' stroke='#16224e' stroke-width='0.35'>ST. EDWARD’S</text>
<circle cx='219.2' cy='77.6' r='0.7' fill='#16224e'/>
<text x='65.2' y='105.6' font-size='13.6' fill='#16224e' stroke='#16224e' stroke-width='0.3' textLength='153.4' lengthAdjust='spacing'>UNIVERSITY</text>
<text x='1014.60' y='80.00' font-size='30.4' fill='#3d1313' text-anchor='start' textLength='81.40' lengthAdjust='spacingAndGlyphs' stroke='#3d1313' stroke-width='0.55'>Rowan</text>
<text x='1043.20' y='104.80' font-size='29.2' fill='#3d1313' text-anchor='start' textLength='116.00' lengthAdjust='spacingAndGlyphs' stroke='#3d1313' stroke-width='0.55'>University</text>
<circle cx='1119.4' cy='63.9' r='20.4' fill='#4d130d'/>
<path d='M1112.4,59.1 L1126.2,59.1 Q1125.4,63.6 1121.7,65.6 L1121.4,78 L1119.5,83.6 L1117.6,78 L1117.2,65.6 Q1113.3,63.6 1112.4,59.1 Z' fill='#fff'/>
<path d='M1113.4,58.3 Q1111.2,55.2 1113.0,51.8 L1115.2,53.4 L1115.9,48.2 L1117.9,50.0 L1119.4,44.6 L1120.9,50.0 L1122.9,48.2 L1123.6,53.4 L1125.8,51.8 Q1127.6,55.2 1125.4,58.3 Z' fill='#f2c21c'/><text x='194.00' y='62' font-family='Liberation Sans' font-weight='bold' font-size='21' fill='#172e62' textLength='107.50' lengthAdjust='spacingAndGlyphs'>Comparing</text>
<text x='310.25' y='62' font-family='Liberation Sans' font-weight='bold' font-size='21' fill='#172e62' textLength='87.00' lengthAdjust='spacingAndGlyphs'>pre/post</text>
<text x='405.25' y='62' font-family='Liberation Sans' font-weight='bold' font-size='21' fill='#172e62' textLength='45.25' lengthAdjust='spacingAndGlyphs'>item</text>
<text x='459.00' y='62' font-family='Liberation Sans' font-weight='bold' font-size='21' fill='#172e62' textLength='87.00' lengthAdjust='spacingAndGlyphs'>response</text>
<text x='554.00' y='62' font-family='Liberation Sans' font-weight='bold' font-size='21' fill='#172e62' textLength='64.00' lengthAdjust='spacingAndGlyphs'>curves</text>
<text x='625.30' y='62' font-family='Liberation Sans' font-weight='bold' font-size='21' fill='#172e62' textLength='20.70' lengthAdjust='spacingAndGlyphs'>to</text>
<text x='654.00' y='62' font-family='Liberation Sans' font-weight='bold' font-size='21' fill='#172e62' textLength='76.00' lengthAdjust='spacingAndGlyphs'>identify</text>
<text x='738.50' y='62' font-family='Liberation Sans' font-weight='bold' font-size='21' fill='#172e62' textLength='78.75' lengthAdjust='spacingAndGlyphs'>changes</text>
<text x='825.25' y='62' font-family='Liberation Sans' font-weight='bold' font-size='21' fill='#172e62' textLength='18.25' lengthAdjust='spacingAndGlyphs'>in</text>
<text x='851.00' y='62' font-family='Liberation Sans' font-weight='bold' font-size='21' fill='#172e62' textLength='153.75' lengthAdjust='spacingAndGlyphs'>misconceptions</text>
<text x='307.55' y='92' font-family='Liberation Sans' font-size='17.3' fill='#161616' textLength='32.20' lengthAdjust='spacingAndGlyphs'>Paul</text>
<text x='345.80' y='92' font-family='Liberation Sans' font-size='17.3' fill='#161616' textLength='13.95' lengthAdjust='spacingAndGlyphs'>J.</text>
<text x='363.80' y='92' font-family='Liberation Sans' font-size='17.3' fill='#161616' textLength='48.45' lengthAdjust='spacingAndGlyphs'>Walter</text>
<text x='418.30' y='92' font-family='Liberation Sans' font-size='17.3' fill='#161616' textLength='25.20' lengthAdjust='spacingAndGlyphs'>(St.</text>
<text x='451.30' y='92' font-family='Liberation Sans' font-size='17.3' fill='#161616' textLength='64.70' lengthAdjust='spacingAndGlyphs'>Edward’s</text>
<text x='522.10' y='92' font-family='Liberation Sans' font-size='17.3' fill='#161616' textLength='75.90' lengthAdjust='spacingAndGlyphs'>University)</text>
<text x='605.10' y='92' font-family='Liberation Sans' font-size='17.3' fill='#161616' textLength='26.40' lengthAdjust='spacingAndGlyphs'>and</text>
<text x='637.55' y='92' font-family='Liberation Sans' font-size='17.3' fill='#161616' textLength='44.70' lengthAdjust='spacingAndGlyphs'>Trevor</text>
<text x='687.55' y='92' font-family='Liberation Sans' font-size='17.3' fill='#161616' textLength='8.45' lengthAdjust='spacingAndGlyphs'>I.</text>
<text x='703.05' y='92' font-family='Liberation Sans' font-size='17.3' fill='#161616' textLength='42.95' lengthAdjust='spacingAndGlyphs'>Smith</text>
<text x='751.80' y='92' font-family='Liberation Sans' font-size='17.3' fill='#161616' textLength='55.45' lengthAdjust='spacingAndGlyphs'>(Rowan</text>
<text x='813.30' y='92' font-family='Liberation Sans' font-size='17.3' fill='#161616' textLength='77.20' lengthAdjust='spacingAndGlyphs'>University)</text></svg><div style='position:absolute;left:615.7px;top:473.0px;width:261.8px;height:1.1px;background:#3c3c3c'></div>
<div style='position:absolute;left:615.7px;top:489.3px;width:261.8px;height:0.8px;background:#555'></div>
<div style='position:absolute;left:615.7px;top:647.6px;width:261.8px;height:1.1px;background:#3c3c3c'></div>
<div class='ln' style='left:598.90px;width:60px;text-align:center;top:473.35px;font-size:12.6px;color:#1a1a1a;'>item</div>
<div class='ln' style='left:602.50px;width:60px;text-align:right;top:473.35px;font-size:12.6px;color:#2e2e90;'>all</div>
<div class='ln' style='left:635.80px;width:60px;text-align:right;top:473.35px;font-size:12.6px;color:#ac3a3a;letter-spacing:-0.3px;'><span style='margin-right:0.3px'>±2</span></div>
<div class='ln' style='left:599.10px;width:60px;text-align:center;top:488.98px;font-size:12.2px;color:#1a1a1a;letter-spacing:-0.5px;'><span style='margin-right:0.5px'>1</span></div>
<div class='ln' style='left:602.50px;width:60px;text-align:right;top:488.98px;font-size:12.2px;color:#2e2e90;letter-spacing:-0.5px;'><span style='margin-right:0.5px'>0.7</span></div>
<div class='ln' style='left:633.30px;width:60px;text-align:right;top:488.98px;font-size:12.2px;color:#ac3a3a;letter-spacing:-0.5px;'><span style='margin-right:0.5px'>0.4</span></div>
<div class='ln' style='left:599.10px;width:60px;text-align:center;top:504.84px;font-size:12.2px;color:#1a1a1a;letter-spacing:-0.5px;'><span style='margin-right:0.5px'>2</span></div>
<div class='ln' style='left:602.50px;width:60px;text-align:right;top:504.84px;font-size:12.2px;color:#2e2e90;letter-spacing:-0.5px;'><span style='margin-right:0.5px'>1.5</span></div>
<div class='ln' style='left:633.30px;width:60px;text-align:right;top:504.84px;font-size:12.2px;color:#ac3a3a;letter-spacing:-0.5px;'><span style='margin-right:0.5px'>0.9</span></div>
<div class='ln' style='left:599.10px;width:60px;text-align:center;top:520.70px;font-size:12.2px;color:#1a1a1a;letter-spacing:-0.5px;'><span style='margin-right:0.5px'>3</span></div>
<div class='ln' style='left:602.50px;width:60px;text-align:right;top:520.70px;font-size:12.2px;color:#2e2e90;letter-spacing:-0.5px;'><span style='margin-right:0.5px'>1.1</span></div>
<div class='ln' style='left:633.30px;width:60px;text-align:right;top:520.70px;font-size:12.2px;color:#ac3a3a;letter-spacing:-0.5px;'><span style='margin-right:0.5px'>0.6</span></div>
<div class='ln' style='left:599.10px;width:60px;text-align:center;top:536.56px;font-size:12.2px;color:#1a1a1a;letter-spacing:-0.5px;'><span style='margin-right:0.5px'>4</span></div>
<div class='ln' style='left:602.50px;width:60px;text-align:right;top:536.56px;font-size:12.2px;color:#2e2e90;letter-spacing:-0.5px;'><span style='margin-right:0.5px'>4.6</span></div>
<div class='ln' style='left:633.30px;width:60px;text-align:right;top:536.56px;font-size:12.2px;color:#ac3a3a;letter-spacing:-0.5px;'><span style='margin-right:0.5px'>1.6</span></div>
<div class='ln' style='left:599.10px;width:60px;text-align:center;top:552.42px;font-size:12.2px;color:#1a1a1a;letter-spacing:-0.5px;'><span style='margin-right:0.5px'>5</span></div>
<div class='ln' style='left:602.50px;width:60px;text-align:right;top:552.42px;font-size:12.2px;color:#2e2e90;letter-spacing:-0.5px;'><span style='margin-right:0.5px'>2.8</span></div>
<div class='ln' style='left:633.30px;width:60px;text-align:right;top:552.42px;font-size:12.2px;color:#ac3a3a;letter-spacing:-0.5px;'><span style='margin-right:0.5px'>1.4</span></div>
<div class='ln' style='left:599.10px;width:60px;text-align:center;top:568.28px;font-size:12.2px;color:#1a1a1a;letter-spacing:-0.5px;'><span style='margin-right:0.5px'>6</span></div>
<div class='ln' style='left:602.50px;width:60px;text-align:right;top:568.28px;font-size:12.2px;color:#2e2e90;letter-spacing:-0.5px;'><span style='margin-right:0.5px'>1.3</span></div>
<div class='ln' style='left:633.30px;width:60px;text-align:right;top:568.28px;font-size:12.2px;color:#ac3a3a;letter-spacing:-0.5px;'><span style='margin-right:0.5px'>0.2</span></div>
<div class='ln' style='left:599.10px;width:60px;text-align:center;top:584.14px;font-size:12.2px;color:#1a1a1a;letter-spacing:-0.5px;'><span style='margin-right:0.5px'>7</span></div>
<div class='ln' style='left:602.50px;width:60px;text-align:right;top:584.14px;font-size:12.2px;color:#2e2e90;letter-spacing:-0.5px;'><span style='margin-right:0.5px'>0.8</span></div>
<div class='ln' style='left:633.30px;width:60px;text-align:right;top:584.14px;font-size:12.2px;color:#ac3a3a;letter-spacing:-0.5px;'><span style='margin-right:0.5px'>0.3</span></div>
<div class='ln' style='left:599.10px;width:60px;text-align:center;top:600.00px;font-size:12.2px;color:#1a1a1a;letter-spacing:-0.5px;'><span style='margin-right:0.5px'>8</span></div>
<div class='ln' style='left:602.50px;width:60px;text-align:right;top:600.00px;font-size:12.2px;color:#2e2e90;letter-spacing:-0.5px;'><span style='margin-right:0.5px'>1.2</span></div>
<div class='ln' style='left:633.30px;width:60px;text-align:right;top:600.00px;font-size:12.2px;color:#ac3a3a;letter-spacing:-0.5px;'><span style='margin-right:0.5px'>0.5</span></div>
<div class='ln' style='left:599.10px;width:60px;text-align:center;top:615.86px;font-size:12.2px;color:#1a1a1a;letter-spacing:-0.5px;'><span style='margin-right:0.5px'>9</span></div>
<div class='ln' style='left:602.50px;width:60px;text-align:right;top:615.86px;font-size:12.2px;color:#2e2e90;letter-spacing:-0.5px;'><span style='margin-right:0.5px'>1.4</span></div>
<div class='ln' style='left:633.30px;width:60px;text-align:right;top:615.86px;font-size:12.2px;color:#ac3a3a;letter-spacing:-0.5px;'><span style='margin-right:0.5px'>0.8</span></div>
<div class='ln' style='left:599.10px;width:60px;text-align:center;top:631.72px;font-size:12.2px;color:#1a1a1a;letter-spacing:-0.5px;'><span style='margin-right:0.5px'>10</span></div>
<div class='ln' style='left:602.50px;width:60px;text-align:right;top:631.72px;font-size:12.2px;color:#2e2e90;letter-spacing:-0.5px;'><span style='margin-right:0.5px'>1.1</span></div>
<div class='ln' style='left:633.30px;width:60px;text-align:right;top:631.72px;font-size:12.2px;color:#ac3a3a;letter-spacing:-0.5px;'><span style='margin-right:0.5px'>0.4</span></div>
<div class='ln' style='left:689.90px;width:60px;text-align:center;top:473.35px;font-size:12.6px;color:#1a1a1a;'>item</div>
<div class='ln' style='left:693.50px;width:60px;text-align:right;top:473.35px;font-size:12.6px;color:#2e2e90;'>all</div>
<div class='ln' style='left:726.80px;width:60px;text-align:right;top:473.35px;font-size:12.6px;color:#ac3a3a;letter-spacing:-0.3px;'><span style='margin-right:0.3px'>±2</span></div>
<div class='ln' style='left:690.10px;width:60px;text-align:center;top:488.98px;font-size:12.2px;color:#1a1a1a;letter-spacing:-0.5px;'><span style='margin-right:0.5px'>11</span></div>
<div class='ln' style='left:693.50px;width:60px;text-align:right;top:488.98px;font-size:12.2px;color:#2e2e90;letter-spacing:-0.5px;'><span style='margin-right:0.5px'>2.9</span></div>
<div class='ln' style='left:724.30px;width:60px;text-align:right;top:488.98px;font-size:12.2px;color:#ac3a3a;letter-spacing:-0.5px;'><span style='margin-right:0.5px'>1.2</span></div>
<div class='ln' style='left:690.10px;width:60px;text-align:center;top:504.84px;font-size:12.2px;color:#1a1a1a;letter-spacing:-0.5px;'><span style='margin-right:0.5px'>12</span></div>
<div class='ln' style='left:693.50px;width:60px;text-align:right;top:504.84px;font-size:12.2px;color:#2e2e90;letter-spacing:-0.5px;'><span style='margin-right:0.5px'>0.7</span></div>
<div class='ln' style='left:724.30px;width:60px;text-align:right;top:504.84px;font-size:12.2px;color:#ac3a3a;letter-spacing:-0.5px;'><span style='margin-right:0.5px'>0.6</span></div>
<div class='ln' style='left:690.10px;width:60px;text-align:center;top:520.70px;font-size:12.2px;color:#1a1a1a;letter-spacing:-0.5px;'><span style='margin-right:0.5px'>13</span></div>
<div class='ln' style='left:693.50px;width:60px;text-align:right;top:520.70px;font-size:12.2px;color:#2e2e90;letter-spacing:-0.5px;'><span style='margin-right:0.5px'>1.9</span></div>
<div class='ln' style='left:724.30px;width:60px;text-align:right;top:520.70px;font-size:12.2px;color:#ac3a3a;letter-spacing:-0.5px;'><span style='margin-right:0.5px'>0.8</span></div>
<div class='ln' style='left:690.10px;width:60px;text-align:center;top:536.56px;font-size:12.2px;color:#1a1a1a;letter-spacing:-0.5px;'><span style='margin-right:0.5px'>14</span></div>
<div class='ln' style='left:693.50px;width:60px;text-align:right;top:536.56px;font-size:12.2px;color:#2e2e90;letter-spacing:-0.5px;'><span style='margin-right:0.5px'>2.8</span></div>
<div class='ln' style='left:724.30px;width:60px;text-align:right;top:536.56px;font-size:12.2px;color:#ac3a3a;letter-spacing:-0.5px;'><span style='margin-right:0.5px'>0.4</span></div>
<div class='ln' style='left:690.10px;width:60px;text-align:center;top:552.42px;font-size:12.2px;color:#1a1a1a;letter-spacing:-0.5px;'><span style='margin-right:0.5px'>15</span></div>
<div class='ln' style='left:693.50px;width:60px;text-align:right;top:552.42px;font-size:12.2px;color:#2e2e90;letter-spacing:-0.5px;'><span style='margin-right:0.5px'>1.4</span></div>
<div class='ln' style='left:724.30px;width:60px;text-align:right;top:552.42px;font-size:12.2px;color:#ac3a3a;letter-spacing:-0.5px;'><span style='margin-right:0.5px'>0.6</span></div>
<div class='ln' style='left:690.10px;width:60px;text-align:center;top:568.28px;font-size:12.2px;color:#1a1a1a;letter-spacing:-0.5px;'><span style='margin-right:0.5px'>16</span></div>
<div class='ln' style='left:693.50px;width:60px;text-align:right;top:568.28px;font-size:12.2px;color:#2e2e90;letter-spacing:-0.5px;'><span style='margin-right:0.5px'>1.3</span></div>
<div class='ln' style='left:724.30px;width:60px;text-align:right;top:568.28px;font-size:12.2px;color:#ac3a3a;letter-spacing:-0.5px;'><span style='margin-right:0.5px'>0.3</span></div>
<div class='ln' style='left:690.10px;width:60px;text-align:center;top:584.14px;font-size:12.2px;color:#1a1a1a;letter-spacing:-0.5px;'><span style='margin-right:0.5px'>17</span></div>
<div class='ln' style='left:693.50px;width:60px;text-align:right;top:584.14px;font-size:12.2px;color:#2e2e90;letter-spacing:-0.5px;'><span style='margin-right:0.5px'>2.5</span></div>
<div class='ln' style='left:724.30px;width:60px;text-align:right;top:584.14px;font-size:12.2px;color:#ac3a3a;letter-spacing:-0.5px;'><span style='margin-right:0.5px'>0.9</span></div>
<div class='ln' style='left:690.10px;width:60px;text-align:center;top:600.00px;font-size:12.2px;color:#1a1a1a;letter-spacing:-0.5px;'><span style='margin-right:0.5px'>18</span></div>
<div class='ln' style='left:693.50px;width:60px;text-align:right;top:600.00px;font-size:12.2px;color:#2e2e90;letter-spacing:-0.5px;'><span style='margin-right:0.5px'>3.2</span></div>
<div class='ln' style='left:724.30px;width:60px;text-align:right;top:600.00px;font-size:12.2px;color:#ac3a3a;letter-spacing:-0.5px;'><span style='margin-right:0.5px'>1.4</span></div>
<div class='ln' style='left:690.10px;width:60px;text-align:center;top:615.86px;font-size:12.2px;color:#1a1a1a;letter-spacing:-0.5px;'><span style='margin-right:0.5px'>19</span></div>
<div class='ln' style='left:693.50px;width:60px;text-align:right;top:615.86px;font-size:12.2px;color:#2e2e90;letter-spacing:-0.5px;'><span style='margin-right:0.5px'>2.1</span></div>
<div class='ln' style='left:724.30px;width:60px;text-align:right;top:615.86px;font-size:12.2px;color:#ac3a3a;letter-spacing:-0.5px;'><span style='margin-right:0.5px'>0.6</span></div>
<div class='ln' style='left:690.10px;width:60px;text-align:center;top:631.72px;font-size:12.2px;color:#1a1a1a;letter-spacing:-0.5px;'><span style='margin-right:0.5px'>20</span></div>
<div class='ln' style='left:693.50px;width:60px;text-align:right;top:631.72px;font-size:12.2px;color:#2e2e90;letter-spacing:-0.5px;'><span style='margin-right:0.5px'>1.0</span></div>
<div class='ln' style='left:724.30px;width:60px;text-align:right;top:631.72px;font-size:12.2px;color:#ac3a3a;letter-spacing:-0.5px;'><span style='margin-right:0.5px'>0.4</span></div>
<div class='ln' style='left:780.90px;width:60px;text-align:center;top:473.35px;font-size:12.6px;color:#1a1a1a;'>item</div>
<div class='ln' style='left:784.50px;width:60px;text-align:right;top:473.35px;font-size:12.6px;color:#2e2e90;'>all</div>
<div class='ln' style='left:817.80px;width:60px;text-align:right;top:473.35px;font-size:12.6px;color:#ac3a3a;letter-spacing:-0.3px;'><span style='margin-right:0.3px'>±2</span></div>
<div class='ln' style='left:781.10px;width:60px;text-align:center;top:488.98px;font-size:12.2px;color:#1a1a1a;letter-spacing:-0.5px;'><span style='margin-right:0.5px'>21</span></div>
<div class='ln' style='left:784.50px;width:60px;text-align:right;top:488.98px;font-size:12.2px;color:#2e2e90;letter-spacing:-0.5px;'><span style='margin-right:0.5px'>2.3</span></div>
<div class='ln' style='left:815.30px;width:60px;text-align:right;top:488.98px;font-size:12.2px;color:#ac3a3a;letter-spacing:-0.5px;'><span style='margin-right:0.5px'>1.0</span></div>
<div class='ln' style='left:781.10px;width:60px;text-align:center;top:504.84px;font-size:12.2px;color:#1a1a1a;letter-spacing:-0.5px;'><span style='margin-right:0.5px'>22</span></div>
<div class='ln' style='left:784.50px;width:60px;text-align:right;top:504.84px;font-size:12.2px;color:#2e2e90;letter-spacing:-0.5px;'><span style='margin-right:0.5px'>1.4</span></div>
<div class='ln' style='left:815.30px;width:60px;text-align:right;top:504.84px;font-size:12.2px;color:#ac3a3a;letter-spacing:-0.5px;'><span style='margin-right:0.5px'>0.7</span></div>
<div class='ln' style='left:781.10px;width:60px;text-align:center;top:520.70px;font-size:12.2px;color:#1a1a1a;letter-spacing:-0.5px;'><span style='margin-right:0.5px'>23</span></div>
<div class='ln' style='left:784.50px;width:60px;text-align:right;top:520.70px;font-size:12.2px;color:#2e2e90;letter-spacing:-0.5px;'><span style='margin-right:0.5px'>1.8</span></div>
<div class='ln' style='left:815.30px;width:60px;text-align:right;top:520.70px;font-size:12.2px;color:#ac3a3a;letter-spacing:-0.5px;'><span style='margin-right:0.5px'>0.4</span></div>
<div class='ln' style='left:781.10px;width:60px;text-align:center;top:536.56px;font-size:12.2px;color:#1a1a1a;letter-spacing:-0.5px;'><span style='margin-right:0.5px'>24</span></div>
<div class='ln' style='left:784.50px;width:60px;text-align:right;top:536.56px;font-size:12.2px;color:#2e2e90;letter-spacing:-0.5px;'><span style='margin-right:0.5px'>1.5</span></div>
<div class='ln' style='left:815.30px;width:60px;text-align:right;top:536.56px;font-size:12.2px;color:#ac3a3a;letter-spacing:-0.5px;'><span style='margin-right:0.5px'>0.6</span></div>
<div class='ln' style='left:781.10px;width:60px;text-align:center;top:552.42px;font-size:12.2px;color:#1a1a1a;letter-spacing:-0.5px;'><span style='margin-right:0.5px'>25</span></div>
<div class='ln' style='left:784.50px;width:60px;text-align:right;top:552.42px;font-size:12.2px;color:#2e2e90;letter-spacing:-0.5px;'><span style='margin-right:0.5px'>1.4</span></div>
<div class='ln' style='left:815.30px;width:60px;text-align:right;top:552.42px;font-size:12.2px;color:#ac3a3a;letter-spacing:-0.5px;'><span style='margin-right:0.5px'>0.7</span></div>
<div class='ln' style='left:781.10px;width:60px;text-align:center;top:568.28px;font-size:12.2px;color:#1a1a1a;letter-spacing:-0.5px;'><span style='margin-right:0.5px'>26</span></div>
<div class='ln' style='left:784.50px;width:60px;text-align:right;top:568.28px;font-size:12.2px;color:#2e2e90;letter-spacing:-0.5px;'><span style='margin-right:0.5px'>1.1</span></div>
<div class='ln' style='left:815.30px;width:60px;text-align:right;top:568.28px;font-size:12.2px;color:#ac3a3a;letter-spacing:-0.5px;'><span style='margin-right:0.5px'>0.7</span></div>
<div class='ln' style='left:781.10px;width:60px;text-align:center;top:584.14px;font-size:12.2px;color:#1a1a1a;letter-spacing:-0.5px;'><span style='margin-right:0.5px'>27</span></div>
<div class='ln' style='left:784.50px;width:60px;text-align:right;top:584.14px;font-size:12.2px;color:#2e2e90;letter-spacing:-0.5px;'><span style='margin-right:0.5px'>2.4</span></div>
<div class='ln' style='left:815.30px;width:60px;text-align:right;top:584.14px;font-size:12.2px;color:#ac3a3a;letter-spacing:-0.5px;'><span style='margin-right:0.5px'>0.7</span></div>
<div class='ln' style='left:781.10px;width:60px;text-align:center;top:600.00px;font-size:12.2px;color:#1a1a1a;letter-spacing:-0.5px;'><span style='margin-right:0.5px'>28</span></div>
<div class='ln' style='left:784.50px;width:60px;text-align:right;top:600.00px;font-size:12.2px;color:#2e2e90;letter-spacing:-0.5px;'><span style='margin-right:0.5px'>2.1</span></div>
<div class='ln' style='left:815.30px;width:60px;text-align:right;top:600.00px;font-size:12.2px;color:#ac3a3a;letter-spacing:-0.5px;'><span style='margin-right:0.5px'>0.7</span></div>
<div class='ln' style='left:781.10px;width:60px;text-align:center;top:615.86px;font-size:12.2px;color:#1a1a1a;letter-spacing:-0.5px;'><span style='margin-right:0.5px'>29</span></div>
<div class='ln' style='left:784.50px;width:60px;text-align:right;top:615.86px;font-size:12.2px;color:#2e2e90;letter-spacing:-0.5px;'><span style='margin-right:0.5px'>3.2</span></div>
<div class='ln' style='left:815.30px;width:60px;text-align:right;top:615.86px;font-size:12.2px;color:#ac3a3a;letter-spacing:-0.5px;'><span style='margin-right:0.5px'>1.0</span></div>
<div class='ln' style='left:781.10px;width:60px;text-align:center;top:631.72px;font-size:12.2px;color:#1a1a1a;letter-spacing:-0.5px;'><span style='margin-right:0.5px'>30</span></div>
<div class='ln' style='left:784.50px;width:60px;text-align:right;top:631.72px;font-size:12.2px;color:#2e2e90;letter-spacing:-0.5px;'><span style='margin-right:0.5px'>2.2</span></div>
<div class='ln' style='left:815.30px;width:60px;text-align:right;top:631.72px;font-size:12.2px;color:#ac3a3a;letter-spacing:-0.5px;'><span style='margin-right:0.5px'>0.9</span></div>
</div></body></html>
